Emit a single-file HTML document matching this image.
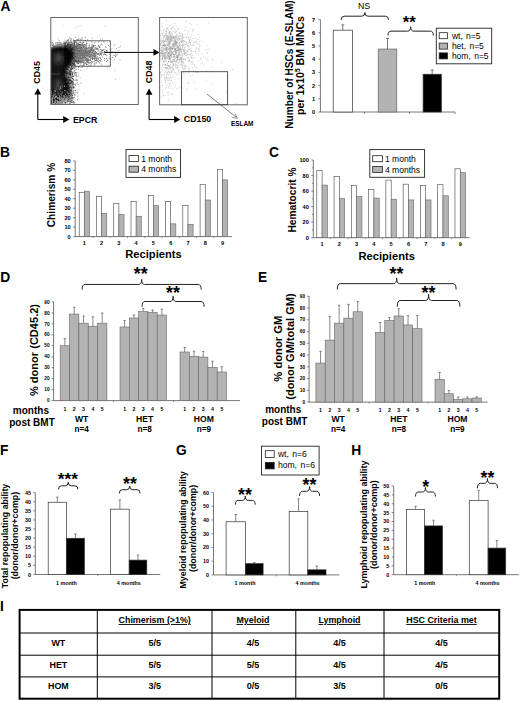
<!DOCTYPE html>
<html><head><meta charset="utf-8"><style>
html,body{margin:0;padding:0;background:#fff;width:520px;height:701px;overflow:hidden}
svg{display:block;font-family:"Liberation Sans", sans-serif}
</style></head><body>
<svg width="520" height="701" viewBox="0 0 520 701">
<defs><filter id="blur1" x="-50%" y="-50%" width="200%" height="200%"><feGaussianBlur stdDeviation="1.3"/></filter><filter id="blur2" x="-50%" y="-50%" width="200%" height="200%"><feGaussianBlur stdDeviation="2"/></filter><filter id="blur3" x="-50%" y="-50%" width="200%" height="200%"><feGaussianBlur stdDeviation="0.5"/></filter><clipPath id="clipA1"><rect x="51" y="18" width="87" height="86.5"/></clipPath></defs>
<rect width="520" height="701" fill="#fff"/>
<text x="0.4" y="10.85" font-size="13.8" font-weight="bold" text-anchor="start" fill="#000">A</text>
<g clip-path="url(#clipA1)">
<path filter="url(#blur1)" d="M49,49 C55,47 61,46.5 65,47.5 C70,48.5 74,51 73.5,55 C73,59 70,63 68,66 C66.5,69 66,72 66.5,75 C67,79 69,83 69,88 C69,93 67.5,98 65.5,101 C64.5,103 63,104.5 62,105 L49,105 Z" fill="#161616"/>
<ellipse filter="url(#blur2)" cx="59" cy="58.5" rx="5" ry="6" fill="#444"/>
<ellipse filter="url(#blur2)" cx="58.5" cy="85" rx="4.5" ry="6" fill="#444"/>
<rect filter="url(#blur3)" x="51" y="73.6" width="9" height="0.9" fill="#4a4a4a"/>
<path d="M58.2,48.3h0.9v0.9h-0.9zM58.4,46.2h0.9v0.9h-0.9zM53.5,46.5h0.9v0.9h-0.9zM67.8,48.1h0.9v0.9h-0.9zM67.3,47.6h0.9v0.9h-0.9zM62.8,47.5h0.9v0.9h-0.9zM63.5,48.2h0.9v0.9h-0.9zM53.8,45.8h0.9v0.9h-0.9zM62.1,46.9h0.9v0.9h-0.9zM63.6,45.4h0.9v0.9h-0.9zM62.2,48.0h0.9v0.9h-0.9zM55.4,51.3h0.9v0.9h-0.9zM63.9,50.0h0.9v0.9h-0.9zM55.7,45.2h0.9v0.9h-0.9zM57.6,46.7h0.9v0.9h-0.9zM64.4,47.6h0.9v0.9h-0.9zM56.9,44.6h0.9v0.9h-0.9zM56.4,50.1h0.9v0.9h-0.9zM54.3,47.6h0.9v0.9h-0.9zM63.0,43.3h0.9v0.9h-0.9zM60.3,50.3h0.9v0.9h-0.9zM59.3,45.0h0.9v0.9h-0.9zM63.5,46.8h0.9v0.9h-0.9zM64.7,49.4h0.9v0.9h-0.9zM70.1,47.9h0.9v0.9h-0.9zM60.8,43.8h0.9v0.9h-0.9zM64.3,45.5h0.9v0.9h-0.9zM56.8,43.8h0.9v0.9h-0.9zM53.2,45.7h0.9v0.9h-0.9zM69.0,41.9h0.9v0.9h-0.9zM70.1,48.4h0.9v0.9h-0.9zM62.5,45.2h0.9v0.9h-0.9zM52.2,49.4h0.9v0.9h-0.9zM67.7,47.4h0.9v0.9h-0.9zM61.7,48.1h0.9v0.9h-0.9zM71.2,48.5h0.9v0.9h-0.9zM63.6,48.4h0.9v0.9h-0.9zM66.7,48.3h0.9v0.9h-0.9zM65.9,42.5h0.9v0.9h-0.9zM58.7,49.5h0.9v0.9h-0.9zM63.9,46.6h0.9v0.9h-0.9zM62.3,48.6h0.9v0.9h-0.9zM60.8,49.9h0.9v0.9h-0.9zM55.4,46.0h0.9v0.9h-0.9zM67.3,47.1h0.9v0.9h-0.9zM53.8,49.4h0.9v0.9h-0.9zM70.3,45.9h0.9v0.9h-0.9zM59.0,46.3h0.9v0.9h-0.9zM69.8,44.4h0.9v0.9h-0.9zM68.8,43.8h0.9v0.9h-0.9zM54.5,48.6h0.9v0.9h-0.9zM67.9,49.1h0.9v0.9h-0.9zM62.4,47.4h0.9v0.9h-0.9zM61.1,48.4h0.9v0.9h-0.9zM58.8,47.7h0.9v0.9h-0.9zM64.0,47.0h0.9v0.9h-0.9zM65.3,48.4h0.9v0.9h-0.9zM74.1,47.8h0.9v0.9h-0.9zM57.0,46.1h0.9v0.9h-0.9zM59.9,49.3h0.9v0.9h-0.9zM57.6,48.0h0.9v0.9h-0.9zM72.9,40.6h0.9v0.9h-0.9zM52.1,47.6h0.9v0.9h-0.9zM62.8,47.6h0.9v0.9h-0.9zM57.0,48.6h0.9v0.9h-0.9zM62.0,45.7h0.9v0.9h-0.9zM77.0,47.9h0.9v0.9h-0.9zM56.1,46.8h0.9v0.9h-0.9zM58.4,46.8h0.9v0.9h-0.9zM67.1,44.1h0.9v0.9h-0.9zM59.5,49.4h0.9v0.9h-0.9zM66.0,50.7h0.9v0.9h-0.9zM57.6,48.6h0.9v0.9h-0.9zM67.6,40.3h0.9v0.9h-0.9zM67.6,43.4h0.9v0.9h-0.9zM64.8,43.3h0.9v0.9h-0.9zM61.2,50.0h0.9v0.9h-0.9zM59.0,47.5h0.9v0.9h-0.9zM65.6,47.4h0.9v0.9h-0.9zM59.4,50.8h0.9v0.9h-0.9zM67.3,46.3h0.9v0.9h-0.9zM79.2,44.1h0.9v0.9h-0.9zM66.4,46.3h0.9v0.9h-0.9zM60.9,48.8h0.9v0.9h-0.9zM61.6,48.6h0.9v0.9h-0.9zM64.3,44.6h0.9v0.9h-0.9zM52.8,43.3h0.9v0.9h-0.9zM68.9,48.9h0.9v0.9h-0.9zM70.3,44.7h0.9v0.9h-0.9zM60.0,44.1h0.9v0.9h-0.9zM65.4,51.0h0.9v0.9h-0.9zM53.8,50.9h0.9v0.9h-0.9zM66.9,46.6h0.9v0.9h-0.9zM59.3,45.5h0.9v0.9h-0.9zM62.8,48.0h0.9v0.9h-0.9zM70.5,44.4h0.9v0.9h-0.9zM68.0,50.7h0.9v0.9h-0.9zM70.2,46.5h0.9v0.9h-0.9zM54.8,49.5h0.9v0.9h-0.9zM60.8,47.3h0.9v0.9h-0.9zM70.0,46.3h0.9v0.9h-0.9zM62.2,45.5h0.9v0.9h-0.9zM59.9,49.1h0.9v0.9h-0.9zM60.6,50.3h0.9v0.9h-0.9zM59.6,49.6h0.9v0.9h-0.9zM70.4,51.0h0.9v0.9h-0.9zM55.3,49.2h0.9v0.9h-0.9zM51.4,47.0h0.9v0.9h-0.9zM58.7,46.9h0.9v0.9h-0.9zM55.9,47.6h0.9v0.9h-0.9zM72.5,47.1h0.9v0.9h-0.9zM63.7,49.5h0.9v0.9h-0.9zM58.6,43.9h0.9v0.9h-0.9zM56.1,49.7h0.9v0.9h-0.9zM67.1,49.0h0.9v0.9h-0.9zM60.1,49.0h0.9v0.9h-0.9zM61.2,44.1h0.9v0.9h-0.9zM66.5,45.6h0.9v0.9h-0.9zM53.7,45.1h0.9v0.9h-0.9zM51.7,47.9h0.9v0.9h-0.9zM55.5,42.1h0.9v0.9h-0.9zM65.1,46.3h0.9v0.9h-0.9zM62.0,45.9h0.9v0.9h-0.9zM65.5,48.9h0.9v0.9h-0.9zM64.7,47.8h0.9v0.9h-0.9zM69.3,48.6h0.9v0.9h-0.9zM63.2,41.8h0.9v0.9h-0.9zM66.3,50.3h0.9v0.9h-0.9zM57.9,45.8h0.9v0.9h-0.9zM73.6,42.6h0.9v0.9h-0.9zM63.3,53.1h0.9v0.9h-0.9zM53.5,48.7h0.9v0.9h-0.9zM73.2,46.7h0.9v0.9h-0.9zM63.9,49.3h0.9v0.9h-0.9zM53.7,46.8h0.9v0.9h-0.9zM62.0,49.1h0.9v0.9h-0.9zM59.8,46.5h0.9v0.9h-0.9zM52.9,46.1h0.9v0.9h-0.9zM66.2,47.3h0.9v0.9h-0.9zM54.0,44.9h0.9v0.9h-0.9zM78.7,49.8h0.9v0.9h-0.9zM64.5,40.5h0.9v0.9h-0.9zM64.4,48.2h0.9v0.9h-0.9zM71.8,48.1h0.9v0.9h-0.9zM59.5,48.3h0.9v0.9h-0.9zM62.3,45.2h0.9v0.9h-0.9zM69.3,51.5h0.9v0.9h-0.9zM62.0,47.5h0.9v0.9h-0.9zM57.2,44.6h0.9v0.9h-0.9zM74.8,49.6h0.9v0.9h-0.9zM51.6,43.6h0.9v0.9h-0.9zM71.9,49.5h0.9v0.9h-0.9zM72.7,49.0h0.9v0.9h-0.9zM53.9,47.7h0.9v0.9h-0.9zM59.6,48.3h0.9v0.9h-0.9zM54.9,46.7h0.9v0.9h-0.9zM63.2,47.9h0.9v0.9h-0.9zM64.5,47.5h0.9v0.9h-0.9zM57.7,49.0h0.9v0.9h-0.9zM60.3,44.9h0.9v0.9h-0.9zM55.6,47.0h0.9v0.9h-0.9zM59.2,47.4h0.9v0.9h-0.9zM60.0,47.4h0.9v0.9h-0.9zM59.1,43.9h0.9v0.9h-0.9zM62.9,49.6h0.9v0.9h-0.9zM63.0,46.5h0.9v0.9h-0.9zM63.1,44.6h0.9v0.9h-0.9zM53.5,48.8h0.9v0.9h-0.9zM52.4,40.4h0.9v0.9h-0.9zM52.7,50.9h0.9v0.9h-0.9zM57.3,43.6h0.9v0.9h-0.9zM54.7,48.3h0.9v0.9h-0.9zM63.5,47.4h0.9v0.9h-0.9zM70.4,48.8h0.9v0.9h-0.9zM59.9,48.5h0.9v0.9h-0.9zM71.6,49.4h0.9v0.9h-0.9zM67.2,44.3h0.9v0.9h-0.9zM59.0,48.8h0.9v0.9h-0.9zM57.9,49.7h0.9v0.9h-0.9zM64.2,49.3h0.9v0.9h-0.9zM58.5,53.4h0.9v0.9h-0.9zM68.7,46.5h0.9v0.9h-0.9zM60.6,53.5h0.9v0.9h-0.9zM57.6,49.2h0.9v0.9h-0.9zM66.9,47.0h0.9v0.9h-0.9zM51.8,47.5h0.9v0.9h-0.9zM62.5,49.8h0.9v0.9h-0.9zM65.5,47.1h0.9v0.9h-0.9zM66.0,48.3h0.9v0.9h-0.9zM61.4,47.1h0.9v0.9h-0.9zM58.3,48.7h0.9v0.9h-0.9zM52.6,45.4h0.9v0.9h-0.9zM60.0,43.3h0.9v0.9h-0.9zM56.9,42.0h0.9v0.9h-0.9zM55.2,48.4h0.9v0.9h-0.9zM64.0,46.9h0.9v0.9h-0.9zM58.4,43.5h0.9v0.9h-0.9zM72.8,48.3h0.9v0.9h-0.9zM67.7,44.8h0.9v0.9h-0.9zM58.7,42.5h0.9v0.9h-0.9zM65.5,49.3h0.9v0.9h-0.9zM64.4,42.6h0.9v0.9h-0.9zM55.6,43.5h0.9v0.9h-0.9zM60.2,47.6h0.9v0.9h-0.9zM64.4,48.8h0.9v0.9h-0.9zM70.5,49.9h0.9v0.9h-0.9zM52.6,44.3h0.9v0.9h-0.9zM59.4,47.0h0.9v0.9h-0.9zM63.4,43.0h0.9v0.9h-0.9zM51.3,46.9h0.9v0.9h-0.9zM58.6,46.2h0.9v0.9h-0.9zM59.6,45.1h0.9v0.9h-0.9zM64.9,47.9h0.9v0.9h-0.9zM59.4,45.3h0.9v0.9h-0.9zM58.8,40.2h0.9v0.9h-0.9zM53.1,47.1h0.9v0.9h-0.9zM61.0,43.6h0.9v0.9h-0.9zM58.2,46.2h0.9v0.9h-0.9zM63.2,48.5h0.9v0.9h-0.9zM59.7,44.9h0.9v0.9h-0.9zM59.0,46.8h0.9v0.9h-0.9zM65.1,47.7h0.9v0.9h-0.9zM54.9,43.6h0.9v0.9h-0.9zM57.4,45.1h0.9v0.9h-0.9zM52.2,46.7h0.9v0.9h-0.9zM56.6,47.3h0.9v0.9h-0.9zM63.7,46.0h0.9v0.9h-0.9zM76.3,46.2h0.9v0.9h-0.9zM67.7,47.3h0.9v0.9h-0.9zM67.8,41.1h0.9v0.9h-0.9zM54.7,47.6h0.9v0.9h-0.9zM64.2,52.8h0.9v0.9h-0.9zM62.3,50.2h0.9v0.9h-0.9zM65.4,49.4h0.9v0.9h-0.9zM63.6,46.6h0.9v0.9h-0.9zM63.6,44.3h0.9v0.9h-0.9zM68.3,44.5h0.9v0.9h-0.9zM61.7,52.3h0.9v0.9h-0.9zM58.4,47.0h0.9v0.9h-0.9zM68.1,47.1h0.9v0.9h-0.9zM54.3,47.6h0.9v0.9h-0.9zM64.1,48.8h0.9v0.9h-0.9zM54.6,51.4h0.9v0.9h-0.9zM71.7,47.0h0.9v0.9h-0.9zM61.9,45.9h0.9v0.9h-0.9zM69.9,45.2h0.9v0.9h-0.9zM64.7,45.8h0.9v0.9h-0.9zM55.1,48.8h0.9v0.9h-0.9zM69.3,47.0h0.9v0.9h-0.9zM55.3,49.0h0.9v0.9h-0.9zM59.7,47.8h0.9v0.9h-0.9zM70.7,49.8h0.9v0.9h-0.9zM56.4,52.7h0.9v0.9h-0.9zM60.0,49.0h0.9v0.9h-0.9zM55.5,46.9h0.9v0.9h-0.9zM69.6,44.0h0.9v0.9h-0.9zM68.2,45.9h0.9v0.9h-0.9zM59.6,46.2h0.9v0.9h-0.9zM59.2,44.3h0.9v0.9h-0.9zM60.2,43.4h0.9v0.9h-0.9zM59.5,47.8h0.9v0.9h-0.9zM63.3,46.4h0.9v0.9h-0.9zM53.7,47.4h0.9v0.9h-0.9zM56.6,50.9h0.9v0.9h-0.9zM65.4,46.7h0.9v0.9h-0.9zM56.7,45.2h0.9v0.9h-0.9zM53.4,46.1h0.9v0.9h-0.9zM62.1,48.3h0.9v0.9h-0.9zM64.0,52.2h0.9v0.9h-0.9zM55.1,47.0h0.9v0.9h-0.9zM79.6,42.3h0.9v0.9h-0.9zM56.3,47.4h0.9v0.9h-0.9zM61.1,48.0h0.9v0.9h-0.9zM58.3,47.9h0.9v0.9h-0.9zM60.4,48.9h0.9v0.9h-0.9zM60.0,44.4h0.9v0.9h-0.9zM52.7,48.6h0.9v0.9h-0.9zM55.5,48.6h0.9v0.9h-0.9zM65.2,47.8h0.9v0.9h-0.9zM63.6,46.7h0.9v0.9h-0.9zM63.2,45.7h0.9v0.9h-0.9zM59.3,48.9h0.9v0.9h-0.9zM53.9,48.6h0.9v0.9h-0.9zM73.0,45.6h0.9v0.9h-0.9zM61.0,46.6h0.9v0.9h-0.9zM70.8,47.8h0.9v0.9h-0.9zM66.3,45.3h0.9v0.9h-0.9zM59.9,47.0h0.9v0.9h-0.9zM66.3,42.6h0.9v0.9h-0.9zM65.2,46.7h0.9v0.9h-0.9zM63.1,47.9h0.9v0.9h-0.9zM70.4,45.6h0.9v0.9h-0.9zM52.8,43.6h0.9v0.9h-0.9zM51.5,47.8h0.9v0.9h-0.9zM71.8,48.1h0.9v0.9h-0.9zM61.7,52.6h0.9v0.9h-0.9zM56.4,45.3h0.9v0.9h-0.9zM63.7,48.4h0.9v0.9h-0.9zM52.9,44.1h0.9v0.9h-0.9zM62.0,47.6h0.9v0.9h-0.9zM56.2,48.2h0.9v0.9h-0.9zM59.2,46.8h0.9v0.9h-0.9zM57.5,49.6h0.9v0.9h-0.9zM69.7,46.1h0.9v0.9h-0.9zM65.9,45.1h0.9v0.9h-0.9zM60.5,48.9h0.9v0.9h-0.9zM70.6,46.0h0.9v0.9h-0.9zM59.5,47.5h0.9v0.9h-0.9zM55.3,47.9h0.9v0.9h-0.9zM52.1,42.1h0.9v0.9h-0.9zM60.3,47.7h0.9v0.9h-0.9zM56.2,49.2h0.9v0.9h-0.9zM58.1,45.5h0.9v0.9h-0.9zM63.3,43.1h0.9v0.9h-0.9zM55.3,46.9h0.9v0.9h-0.9zM65.9,46.6h0.9v0.9h-0.9zM62.2,45.4h0.9v0.9h-0.9zM62.1,51.2h0.9v0.9h-0.9zM55.2,52.9h0.9v0.9h-0.9zM55.5,47.0h0.9v0.9h-0.9zM61.2,49.6h0.9v0.9h-0.9zM51.3,41.7h0.9v0.9h-0.9zM64.2,49.0h0.9v0.9h-0.9zM64.4,53.6h0.9v0.9h-0.9zM61.4,47.6h0.9v0.9h-0.9zM66.5,47.9h0.9v0.9h-0.9zM71.6,43.9h0.9v0.9h-0.9zM57.4,38.4h0.9v0.9h-0.9zM65.7,46.1h0.9v0.9h-0.9zM66.5,52.4h0.9v0.9h-0.9zM60.0,46.4h0.9v0.9h-0.9zM56.5,44.9h0.9v0.9h-0.9zM55.6,48.6h0.9v0.9h-0.9zM60.3,47.2h0.9v0.9h-0.9zM58.8,49.3h0.9v0.9h-0.9zM63.5,46.6h0.9v0.9h-0.9zM64.7,46.6h0.9v0.9h-0.9zM51.9,50.6h0.9v0.9h-0.9zM63.3,44.6h0.9v0.9h-0.9zM67.6,47.9h0.9v0.9h-0.9zM62.3,49.2h0.9v0.9h-0.9zM61.4,46.6h0.9v0.9h-0.9zM60.2,46.3h0.9v0.9h-0.9zM62.5,47.2h0.9v0.9h-0.9zM64.7,46.1h0.9v0.9h-0.9zM59.7,41.7h0.9v0.9h-0.9zM57.0,48.7h0.9v0.9h-0.9zM69.4,46.1h0.9v0.9h-0.9zM59.2,51.0h0.9v0.9h-0.9zM57.7,48.8h0.9v0.9h-0.9zM71.7,47.1h0.9v0.9h-0.9zM68.6,45.2h0.9v0.9h-0.9zM61.5,46.8h0.9v0.9h-0.9zM60.8,49.8h0.9v0.9h-0.9zM76.7,45.3h0.9v0.9h-0.9zM56.0,48.2h0.9v0.9h-0.9zM52.6,48.2h0.9v0.9h-0.9zM64.0,46.3h0.9v0.9h-0.9zM63.7,43.1h0.9v0.9h-0.9zM65.3,43.1h0.9v0.9h-0.9zM55.1,45.6h0.9v0.9h-0.9zM57.2,49.1h0.9v0.9h-0.9zM60.6,46.0h0.9v0.9h-0.9zM63.8,51.0h0.9v0.9h-0.9zM60.0,47.9h0.9v0.9h-0.9zM68.7,47.7h0.9v0.9h-0.9zM51.0,53.2h0.9v0.9h-0.9zM75.5,42.0h0.9v0.9h-0.9zM59.7,48.0h0.9v0.9h-0.9zM66.8,48.7h0.9v0.9h-0.9zM58.1,44.4h0.9v0.9h-0.9zM60.7,49.6h0.9v0.9h-0.9zM52.4,44.4h0.9v0.9h-0.9zM59.8,42.2h0.9v0.9h-0.9zM58.2,45.9h0.9v0.9h-0.9zM63.2,45.2h0.9v0.9h-0.9zM53.8,46.0h0.9v0.9h-0.9zM59.7,45.3h0.9v0.9h-0.9zM60.1,48.9h0.9v0.9h-0.9zM68.3,51.3h0.9v0.9h-0.9zM54.5,46.0h0.9v0.9h-0.9zM54.9,46.9h0.9v0.9h-0.9zM63.7,43.6h0.9v0.9h-0.9zM63.2,46.9h0.9v0.9h-0.9zM68.4,42.3h0.9v0.9h-0.9zM65.7,47.5h0.9v0.9h-0.9zM63.3,48.1h0.9v0.9h-0.9zM69.1,46.4h0.9v0.9h-0.9zM66.1,46.0h0.9v0.9h-0.9zM65.1,45.0h0.9v0.9h-0.9zM59.2,51.3h0.9v0.9h-0.9zM63.1,46.6h0.9v0.9h-0.9zM52.0,45.0h0.9v0.9h-0.9zM61.4,49.3h0.9v0.9h-0.9zM63.0,48.3h0.9v0.9h-0.9zM59.7,50.4h0.9v0.9h-0.9zM57.3,45.6h0.9v0.9h-0.9zM66.2,47.2h0.9v0.9h-0.9zM58.1,45.6h0.9v0.9h-0.9zM58.2,48.6h0.9v0.9h-0.9zM62.5,44.0h0.9v0.9h-0.9zM63.0,47.4h0.9v0.9h-0.9zM53.0,48.9h0.9v0.9h-0.9zM58.0,46.2h0.9v0.9h-0.9zM65.6,50.3h0.9v0.9h-0.9zM55.2,48.1h0.9v0.9h-0.9zM53.9,52.8h0.9v0.9h-0.9zM56.5,50.0h0.9v0.9h-0.9zM55.5,49.0h0.9v0.9h-0.9zM75.5,40.6h0.9v0.9h-0.9zM57.0,48.3h0.9v0.9h-0.9zM59.3,45.3h0.9v0.9h-0.9zM75.1,47.2h0.9v0.9h-0.9zM56.0,47.4h0.9v0.9h-0.9zM68.8,47.3h0.9v0.9h-0.9zM68.3,48.9h0.9v0.9h-0.9zM54.3,49.1h0.9v0.9h-0.9zM63.5,48.6h0.9v0.9h-0.9zM66.3,48.8h0.9v0.9h-0.9zM66.2,40.9h0.9v0.9h-0.9zM61.2,48.2h0.9v0.9h-0.9zM77.9,44.6h0.9v0.9h-0.9zM57.7,47.1h0.9v0.9h-0.9zM66.2,45.9h0.9v0.9h-0.9zM68.0,45.0h0.9v0.9h-0.9zM61.9,45.7h0.9v0.9h-0.9zM61.1,45.3h0.9v0.9h-0.9zM62.1,45.6h0.9v0.9h-0.9zM61.4,49.5h0.9v0.9h-0.9zM53.2,46.7h0.9v0.9h-0.9zM63.8,48.3h0.9v0.9h-0.9zM57.7,41.7h0.9v0.9h-0.9zM68.7,47.8h0.9v0.9h-0.9zM60.1,46.3h0.9v0.9h-0.9zM61.8,45.9h0.9v0.9h-0.9zM52.8,45.2h0.9v0.9h-0.9zM55.8,45.5h0.9v0.9h-0.9zM51.9,48.6h0.9v0.9h-0.9zM52.9,47.9h0.9v0.9h-0.9zM69.6,47.5h0.9v0.9h-0.9zM54.9,47.1h0.9v0.9h-0.9zM61.0,42.7h0.9v0.9h-0.9zM55.7,47.4h0.9v0.9h-0.9zM56.7,47.2h0.9v0.9h-0.9zM65.1,48.9h0.9v0.9h-0.9zM66.3,48.5h0.9v0.9h-0.9zM58.0,47.0h0.9v0.9h-0.9zM58.1,46.2h0.9v0.9h-0.9zM58.7,42.7h0.9v0.9h-0.9zM57.7,46.9h0.9v0.9h-0.9zM53.2,46.9h0.9v0.9h-0.9z" fill="#000" fill-opacity="0.5"/>
<path d="M70.1,60.8h0.9v0.9h-0.9zM76.3,43.8h0.9v0.9h-0.9zM67.2,49.2h0.9v0.9h-0.9zM71.9,80.6h0.9v0.9h-0.9zM58.0,62.9h0.9v0.9h-0.9zM70.1,59.9h0.9v0.9h-0.9zM70.2,46.3h0.9v0.9h-0.9zM71.4,64.6h0.9v0.9h-0.9zM68.1,57.9h0.9v0.9h-0.9zM70.6,58.6h0.9v0.9h-0.9zM68.9,58.4h0.9v0.9h-0.9zM59.0,61.8h0.9v0.9h-0.9zM68.8,67.3h0.9v0.9h-0.9zM64.5,61.8h0.9v0.9h-0.9zM70.5,63.0h0.9v0.9h-0.9zM73.0,75.9h0.9v0.9h-0.9zM64.4,48.6h0.9v0.9h-0.9zM71.4,72.7h0.9v0.9h-0.9zM71.7,67.7h0.9v0.9h-0.9zM65.5,57.0h0.9v0.9h-0.9zM71.6,55.6h0.9v0.9h-0.9zM60.7,55.0h0.9v0.9h-0.9zM78.0,75.5h0.9v0.9h-0.9zM65.3,56.9h0.9v0.9h-0.9zM68.9,56.8h0.9v0.9h-0.9zM73.2,61.5h0.9v0.9h-0.9zM63.7,71.2h0.9v0.9h-0.9zM65.7,63.5h0.9v0.9h-0.9zM67.9,59.8h0.9v0.9h-0.9zM69.3,57.2h0.9v0.9h-0.9zM60.6,46.5h0.9v0.9h-0.9zM62.9,56.7h0.9v0.9h-0.9zM67.9,62.4h0.9v0.9h-0.9zM70.2,62.8h0.9v0.9h-0.9zM64.8,57.0h0.9v0.9h-0.9zM59.5,60.8h0.9v0.9h-0.9zM69.9,65.7h0.9v0.9h-0.9zM67.5,60.8h0.9v0.9h-0.9zM71.7,62.1h0.9v0.9h-0.9zM71.0,66.1h0.9v0.9h-0.9zM68.9,71.1h0.9v0.9h-0.9zM65.7,59.5h0.9v0.9h-0.9zM64.8,56.4h0.9v0.9h-0.9zM74.2,74.3h0.9v0.9h-0.9zM68.1,66.0h0.9v0.9h-0.9zM72.7,67.7h0.9v0.9h-0.9zM72.8,53.2h0.9v0.9h-0.9zM65.4,65.2h0.9v0.9h-0.9zM73.7,62.7h0.9v0.9h-0.9zM64.6,59.5h0.9v0.9h-0.9zM65.4,56.0h0.9v0.9h-0.9zM74.0,57.6h0.9v0.9h-0.9zM68.1,77.1h0.9v0.9h-0.9zM72.7,64.4h0.9v0.9h-0.9zM65.6,64.9h0.9v0.9h-0.9zM74.5,66.4h0.9v0.9h-0.9zM73.0,62.7h0.9v0.9h-0.9zM70.1,60.6h0.9v0.9h-0.9zM69.7,71.1h0.9v0.9h-0.9zM62.3,61.6h0.9v0.9h-0.9zM69.0,58.0h0.9v0.9h-0.9zM66.8,67.5h0.9v0.9h-0.9zM76.0,66.4h0.9v0.9h-0.9zM69.3,51.1h0.9v0.9h-0.9zM75.7,62.5h0.9v0.9h-0.9zM67.9,54.2h0.9v0.9h-0.9zM67.8,54.3h0.9v0.9h-0.9zM68.3,65.3h0.9v0.9h-0.9zM68.1,64.0h0.9v0.9h-0.9zM64.6,72.0h0.9v0.9h-0.9zM65.4,49.3h0.9v0.9h-0.9zM67.2,56.7h0.9v0.9h-0.9zM64.0,59.5h0.9v0.9h-0.9zM69.2,53.7h0.9v0.9h-0.9zM67.4,72.0h0.9v0.9h-0.9zM70.7,60.9h0.9v0.9h-0.9zM68.5,61.2h0.9v0.9h-0.9zM67.8,67.1h0.9v0.9h-0.9zM67.6,45.2h0.9v0.9h-0.9zM67.9,55.8h0.9v0.9h-0.9zM70.6,57.7h0.9v0.9h-0.9zM68.6,77.2h0.9v0.9h-0.9zM63.8,54.1h0.9v0.9h-0.9zM62.4,45.2h0.9v0.9h-0.9zM60.5,64.6h0.9v0.9h-0.9zM65.4,48.9h0.9v0.9h-0.9zM62.1,66.3h0.9v0.9h-0.9zM64.9,59.4h0.9v0.9h-0.9zM69.3,71.5h0.9v0.9h-0.9zM75.8,69.2h0.9v0.9h-0.9zM68.6,63.3h0.9v0.9h-0.9zM75.2,72.0h0.9v0.9h-0.9zM66.8,65.2h0.9v0.9h-0.9zM69.1,62.4h0.9v0.9h-0.9zM66.0,52.7h0.9v0.9h-0.9zM65.9,51.2h0.9v0.9h-0.9zM72.9,65.8h0.9v0.9h-0.9zM63.2,71.8h0.9v0.9h-0.9zM71.6,48.6h0.9v0.9h-0.9zM75.4,67.7h0.9v0.9h-0.9zM76.3,53.4h0.9v0.9h-0.9zM70.1,65.0h0.9v0.9h-0.9zM68.8,63.2h0.9v0.9h-0.9zM72.2,51.5h0.9v0.9h-0.9zM63.0,52.2h0.9v0.9h-0.9zM65.8,57.8h0.9v0.9h-0.9zM69.5,63.9h0.9v0.9h-0.9zM68.1,57.3h0.9v0.9h-0.9zM66.2,68.7h0.9v0.9h-0.9zM71.1,62.7h0.9v0.9h-0.9zM66.7,72.9h0.9v0.9h-0.9zM65.6,66.5h0.9v0.9h-0.9zM72.6,60.1h0.9v0.9h-0.9zM71.3,54.2h0.9v0.9h-0.9zM72.1,63.4h0.9v0.9h-0.9zM61.7,66.7h0.9v0.9h-0.9zM64.4,71.0h0.9v0.9h-0.9zM65.3,60.8h0.9v0.9h-0.9zM69.1,59.7h0.9v0.9h-0.9zM69.0,58.1h0.9v0.9h-0.9zM70.7,62.0h0.9v0.9h-0.9zM68.8,42.7h0.9v0.9h-0.9zM72.6,62.2h0.9v0.9h-0.9zM60.9,62.7h0.9v0.9h-0.9zM69.9,69.5h0.9v0.9h-0.9zM63.7,72.8h0.9v0.9h-0.9zM67.4,78.8h0.9v0.9h-0.9zM67.4,66.8h0.9v0.9h-0.9zM66.5,54.2h0.9v0.9h-0.9zM72.4,68.3h0.9v0.9h-0.9zM74.2,68.0h0.9v0.9h-0.9zM65.7,50.4h0.9v0.9h-0.9zM65.4,57.3h0.9v0.9h-0.9zM64.7,66.1h0.9v0.9h-0.9zM69.3,60.1h0.9v0.9h-0.9zM68.7,61.0h0.9v0.9h-0.9zM68.9,67.3h0.9v0.9h-0.9zM71.8,57.2h0.9v0.9h-0.9zM62.0,72.0h0.9v0.9h-0.9zM68.5,69.7h0.9v0.9h-0.9zM61.4,59.7h0.9v0.9h-0.9zM68.1,51.9h0.9v0.9h-0.9zM65.9,67.1h0.9v0.9h-0.9zM72.3,73.2h0.9v0.9h-0.9zM64.5,52.2h0.9v0.9h-0.9zM70.1,68.6h0.9v0.9h-0.9zM68.8,52.9h0.9v0.9h-0.9zM71.1,67.5h0.9v0.9h-0.9zM70.2,58.6h0.9v0.9h-0.9zM69.2,67.5h0.9v0.9h-0.9zM65.8,49.1h0.9v0.9h-0.9zM69.3,65.4h0.9v0.9h-0.9zM68.1,68.2h0.9v0.9h-0.9zM65.7,61.4h0.9v0.9h-0.9zM66.8,66.0h0.9v0.9h-0.9zM74.4,60.2h0.9v0.9h-0.9zM76.2,72.7h0.9v0.9h-0.9zM71.2,66.1h0.9v0.9h-0.9zM75.1,60.7h0.9v0.9h-0.9zM67.6,54.6h0.9v0.9h-0.9zM69.9,71.4h0.9v0.9h-0.9zM70.1,65.0h0.9v0.9h-0.9zM67.2,63.2h0.9v0.9h-0.9zM62.3,69.3h0.9v0.9h-0.9zM66.4,54.3h0.9v0.9h-0.9zM65.0,56.2h0.9v0.9h-0.9zM71.4,69.4h0.9v0.9h-0.9zM62.6,68.5h0.9v0.9h-0.9zM71.6,57.9h0.9v0.9h-0.9zM62.1,56.8h0.9v0.9h-0.9zM65.5,64.4h0.9v0.9h-0.9zM66.6,47.8h0.9v0.9h-0.9zM68.9,51.3h0.9v0.9h-0.9zM71.6,53.6h0.9v0.9h-0.9zM65.2,56.0h0.9v0.9h-0.9zM65.8,71.1h0.9v0.9h-0.9zM71.4,66.2h0.9v0.9h-0.9zM69.3,51.2h0.9v0.9h-0.9zM65.9,58.1h0.9v0.9h-0.9zM64.1,65.6h0.9v0.9h-0.9zM65.0,57.0h0.9v0.9h-0.9zM63.8,47.6h0.9v0.9h-0.9zM70.4,71.3h0.9v0.9h-0.9zM68.7,55.2h0.9v0.9h-0.9zM57.2,63.2h0.9v0.9h-0.9zM72.9,64.1h0.9v0.9h-0.9zM71.7,72.3h0.9v0.9h-0.9zM72.5,58.9h0.9v0.9h-0.9zM72.2,67.4h0.9v0.9h-0.9zM61.9,59.2h0.9v0.9h-0.9zM62.3,61.2h0.9v0.9h-0.9zM70.3,54.5h0.9v0.9h-0.9zM59.8,71.1h0.9v0.9h-0.9zM69.5,72.3h0.9v0.9h-0.9zM62.7,69.4h0.9v0.9h-0.9zM76.3,76.0h0.9v0.9h-0.9zM67.2,63.9h0.9v0.9h-0.9zM67.4,69.0h0.9v0.9h-0.9zM72.2,62.6h0.9v0.9h-0.9zM62.6,67.2h0.9v0.9h-0.9zM66.1,66.4h0.9v0.9h-0.9zM69.1,73.4h0.9v0.9h-0.9zM72.6,58.8h0.9v0.9h-0.9zM69.4,74.3h0.9v0.9h-0.9zM65.9,65.0h0.9v0.9h-0.9zM72.8,70.8h0.9v0.9h-0.9zM70.1,52.8h0.9v0.9h-0.9zM63.0,63.7h0.9v0.9h-0.9zM69.5,79.8h0.9v0.9h-0.9zM64.6,70.0h0.9v0.9h-0.9zM71.1,50.3h0.9v0.9h-0.9zM64.7,63.2h0.9v0.9h-0.9zM66.0,60.9h0.9v0.9h-0.9zM69.9,56.3h0.9v0.9h-0.9zM69.9,57.5h0.9v0.9h-0.9zM65.8,65.8h0.9v0.9h-0.9zM65.7,64.0h0.9v0.9h-0.9zM74.4,62.2h0.9v0.9h-0.9zM67.4,67.1h0.9v0.9h-0.9zM66.5,69.6h0.9v0.9h-0.9zM62.9,66.3h0.9v0.9h-0.9zM66.0,56.4h0.9v0.9h-0.9zM75.1,56.0h0.9v0.9h-0.9zM75.0,66.6h0.9v0.9h-0.9zM73.8,55.2h0.9v0.9h-0.9zM72.8,72.2h0.9v0.9h-0.9zM67.5,61.1h0.9v0.9h-0.9zM77.8,63.2h0.9v0.9h-0.9zM66.3,57.6h0.9v0.9h-0.9zM69.8,64.3h0.9v0.9h-0.9zM68.7,74.1h0.9v0.9h-0.9zM66.7,65.3h0.9v0.9h-0.9zM73.8,55.0h0.9v0.9h-0.9zM72.2,74.8h0.9v0.9h-0.9zM62.6,54.3h0.9v0.9h-0.9zM63.8,49.1h0.9v0.9h-0.9zM69.8,49.0h0.9v0.9h-0.9zM70.0,72.2h0.9v0.9h-0.9zM61.5,59.8h0.9v0.9h-0.9zM60.3,67.5h0.9v0.9h-0.9zM65.1,60.1h0.9v0.9h-0.9zM68.2,65.8h0.9v0.9h-0.9zM66.6,62.1h0.9v0.9h-0.9zM65.8,62.8h0.9v0.9h-0.9zM63.3,62.4h0.9v0.9h-0.9zM60.3,58.6h0.9v0.9h-0.9zM75.7,62.6h0.9v0.9h-0.9zM63.0,63.8h0.9v0.9h-0.9zM64.1,50.4h0.9v0.9h-0.9zM65.1,67.2h0.9v0.9h-0.9zM69.5,61.3h0.9v0.9h-0.9zM64.3,54.4h0.9v0.9h-0.9zM73.4,63.7h0.9v0.9h-0.9zM64.2,47.2h0.9v0.9h-0.9zM62.5,79.3h0.9v0.9h-0.9zM63.4,61.5h0.9v0.9h-0.9zM68.8,60.9h0.9v0.9h-0.9zM66.9,52.4h0.9v0.9h-0.9zM63.8,73.8h0.9v0.9h-0.9zM65.0,67.9h0.9v0.9h-0.9zM61.2,60.1h0.9v0.9h-0.9zM69.0,69.3h0.9v0.9h-0.9zM63.5,66.2h0.9v0.9h-0.9zM69.5,56.8h0.9v0.9h-0.9zM69.9,55.7h0.9v0.9h-0.9zM64.8,61.9h0.9v0.9h-0.9zM57.1,61.2h0.9v0.9h-0.9zM64.0,51.8h0.9v0.9h-0.9zM66.3,67.3h0.9v0.9h-0.9zM66.4,70.9h0.9v0.9h-0.9zM63.4,52.8h0.9v0.9h-0.9zM74.2,64.8h0.9v0.9h-0.9zM71.8,56.2h0.9v0.9h-0.9zM71.2,63.8h0.9v0.9h-0.9zM70.6,62.2h0.9v0.9h-0.9zM72.8,57.5h0.9v0.9h-0.9zM64.1,51.7h0.9v0.9h-0.9zM72.6,56.8h0.9v0.9h-0.9zM63.8,55.4h0.9v0.9h-0.9zM66.2,53.1h0.9v0.9h-0.9zM66.8,57.6h0.9v0.9h-0.9zM65.8,55.3h0.9v0.9h-0.9zM68.1,58.8h0.9v0.9h-0.9zM68.5,63.7h0.9v0.9h-0.9zM69.4,46.7h0.9v0.9h-0.9zM65.9,56.4h0.9v0.9h-0.9zM71.1,51.0h0.9v0.9h-0.9zM65.1,59.9h0.9v0.9h-0.9zM66.7,68.9h0.9v0.9h-0.9zM66.2,68.8h0.9v0.9h-0.9zM62.1,49.3h0.9v0.9h-0.9zM72.9,65.0h0.9v0.9h-0.9zM70.0,62.9h0.9v0.9h-0.9zM69.9,53.5h0.9v0.9h-0.9zM71.8,58.3h0.9v0.9h-0.9zM71.9,62.6h0.9v0.9h-0.9zM60.1,53.0h0.9v0.9h-0.9zM72.5,61.0h0.9v0.9h-0.9zM66.4,63.7h0.9v0.9h-0.9zM66.3,58.2h0.9v0.9h-0.9zM68.4,63.0h0.9v0.9h-0.9zM74.1,62.3h0.9v0.9h-0.9zM75.5,74.6h0.9v0.9h-0.9zM74.9,69.4h0.9v0.9h-0.9zM68.5,63.0h0.9v0.9h-0.9zM67.4,56.9h0.9v0.9h-0.9zM67.7,57.5h0.9v0.9h-0.9zM74.6,65.7h0.9v0.9h-0.9zM66.2,48.6h0.9v0.9h-0.9zM67.8,59.1h0.9v0.9h-0.9zM63.7,54.0h0.9v0.9h-0.9zM59.0,66.0h0.9v0.9h-0.9zM67.7,80.1h0.9v0.9h-0.9zM67.9,61.0h0.9v0.9h-0.9zM73.8,62.9h0.9v0.9h-0.9zM68.7,59.4h0.9v0.9h-0.9zM65.6,72.5h0.9v0.9h-0.9zM72.0,74.0h0.9v0.9h-0.9zM66.6,62.2h0.9v0.9h-0.9zM64.5,68.8h0.9v0.9h-0.9zM62.4,66.0h0.9v0.9h-0.9zM72.4,71.9h0.9v0.9h-0.9zM64.2,69.6h0.9v0.9h-0.9zM65.1,56.7h0.9v0.9h-0.9zM62.7,70.1h0.9v0.9h-0.9zM74.6,57.8h0.9v0.9h-0.9zM65.0,59.6h0.9v0.9h-0.9zM78.0,69.0h0.9v0.9h-0.9zM65.8,49.4h0.9v0.9h-0.9zM65.3,70.3h0.9v0.9h-0.9zM75.5,60.1h0.9v0.9h-0.9zM65.2,58.4h0.9v0.9h-0.9zM60.5,68.4h0.9v0.9h-0.9zM63.7,69.4h0.9v0.9h-0.9zM61.2,53.1h0.9v0.9h-0.9zM69.2,56.7h0.9v0.9h-0.9zM71.1,62.1h0.9v0.9h-0.9zM63.3,66.4h0.9v0.9h-0.9zM71.4,48.6h0.9v0.9h-0.9zM75.3,65.5h0.9v0.9h-0.9zM71.0,49.0h0.9v0.9h-0.9zM65.1,59.6h0.9v0.9h-0.9zM72.3,51.8h0.9v0.9h-0.9zM64.5,47.8h0.9v0.9h-0.9zM67.0,64.4h0.9v0.9h-0.9zM61.3,57.9h0.9v0.9h-0.9zM70.0,73.1h0.9v0.9h-0.9zM70.7,59.9h0.9v0.9h-0.9zM63.3,55.4h0.9v0.9h-0.9zM65.3,63.0h0.9v0.9h-0.9z" fill="#000" fill-opacity="0.5"/>
<path d="M68.0,80.4h0.9v0.9h-0.9zM72.4,98.5h0.9v0.9h-0.9zM67.4,83.5h0.9v0.9h-0.9zM60.5,80.8h0.9v0.9h-0.9zM70.2,82.8h0.9v0.9h-0.9zM62.4,91.8h0.9v0.9h-0.9zM67.9,95.5h0.9v0.9h-0.9zM69.3,102.7h0.9v0.9h-0.9zM64.1,98.8h0.9v0.9h-0.9zM63.5,96.2h0.9v0.9h-0.9zM67.6,92.2h0.9v0.9h-0.9zM70.4,89.8h0.9v0.9h-0.9zM70.9,97.9h0.9v0.9h-0.9zM67.5,84.9h0.9v0.9h-0.9zM64.4,85.3h0.9v0.9h-0.9zM66.3,89.8h0.9v0.9h-0.9zM77.4,95.7h0.9v0.9h-0.9zM69.7,82.3h0.9v0.9h-0.9zM64.5,87.1h0.9v0.9h-0.9zM67.7,80.7h0.9v0.9h-0.9zM72.6,84.9h0.9v0.9h-0.9zM70.8,69.0h0.9v0.9h-0.9zM67.0,92.5h0.9v0.9h-0.9zM67.7,95.4h0.9v0.9h-0.9zM68.0,91.5h0.9v0.9h-0.9zM60.4,83.6h0.9v0.9h-0.9zM58.8,95.7h0.9v0.9h-0.9zM68.1,88.2h0.9v0.9h-0.9zM64.1,84.8h0.9v0.9h-0.9zM66.8,101.6h0.9v0.9h-0.9zM61.4,72.6h0.9v0.9h-0.9zM65.3,82.1h0.9v0.9h-0.9zM65.0,91.7h0.9v0.9h-0.9zM77.6,84.1h0.9v0.9h-0.9zM67.2,92.5h0.9v0.9h-0.9zM66.9,98.4h0.9v0.9h-0.9zM73.2,78.8h0.9v0.9h-0.9zM67.6,87.6h0.9v0.9h-0.9zM68.2,76.2h0.9v0.9h-0.9zM60.8,69.2h0.9v0.9h-0.9zM68.8,91.7h0.9v0.9h-0.9zM67.3,68.7h0.9v0.9h-0.9zM65.7,83.2h0.9v0.9h-0.9zM62.1,81.8h0.9v0.9h-0.9zM69.4,94.9h0.9v0.9h-0.9zM66.9,94.6h0.9v0.9h-0.9zM64.9,90.6h0.9v0.9h-0.9zM67.1,95.0h0.9v0.9h-0.9zM66.8,88.7h0.9v0.9h-0.9zM66.5,84.2h0.9v0.9h-0.9zM74.8,94.6h0.9v0.9h-0.9zM71.9,76.0h0.9v0.9h-0.9zM69.4,97.5h0.9v0.9h-0.9zM73.6,101.8h0.9v0.9h-0.9zM69.7,79.4h0.9v0.9h-0.9zM64.0,92.4h0.9v0.9h-0.9zM68.8,80.8h0.9v0.9h-0.9zM65.7,86.4h0.9v0.9h-0.9zM67.2,93.0h0.9v0.9h-0.9zM66.0,78.9h0.9v0.9h-0.9zM66.6,99.2h0.9v0.9h-0.9zM68.6,95.9h0.9v0.9h-0.9zM68.7,83.1h0.9v0.9h-0.9zM69.0,99.1h0.9v0.9h-0.9zM74.0,96.7h0.9v0.9h-0.9zM65.8,84.6h0.9v0.9h-0.9zM64.2,91.0h0.9v0.9h-0.9zM66.9,96.0h0.9v0.9h-0.9zM75.0,89.8h0.9v0.9h-0.9zM69.4,94.3h0.9v0.9h-0.9zM68.0,88.1h0.9v0.9h-0.9zM66.6,82.6h0.9v0.9h-0.9zM67.6,89.8h0.9v0.9h-0.9zM68.1,82.3h0.9v0.9h-0.9zM67.1,90.4h0.9v0.9h-0.9zM69.1,80.4h0.9v0.9h-0.9zM68.5,98.8h0.9v0.9h-0.9zM69.1,86.7h0.9v0.9h-0.9zM65.3,87.9h0.9v0.9h-0.9zM69.6,104.0h0.9v0.9h-0.9zM66.4,84.2h0.9v0.9h-0.9zM68.3,91.8h0.9v0.9h-0.9zM63.8,83.4h0.9v0.9h-0.9zM66.6,96.0h0.9v0.9h-0.9zM62.8,80.8h0.9v0.9h-0.9zM68.7,79.0h0.9v0.9h-0.9zM67.4,93.2h0.9v0.9h-0.9zM66.6,80.8h0.9v0.9h-0.9zM66.8,87.0h0.9v0.9h-0.9zM68.2,82.5h0.9v0.9h-0.9zM70.8,74.9h0.9v0.9h-0.9zM66.4,90.1h0.9v0.9h-0.9zM70.4,84.5h0.9v0.9h-0.9zM68.9,84.9h0.9v0.9h-0.9zM65.6,94.0h0.9v0.9h-0.9zM63.8,98.8h0.9v0.9h-0.9zM71.2,90.3h0.9v0.9h-0.9zM63.0,93.6h0.9v0.9h-0.9zM71.0,99.8h0.9v0.9h-0.9zM69.8,73.5h0.9v0.9h-0.9zM64.6,102.8h0.9v0.9h-0.9zM62.7,100.2h0.9v0.9h-0.9zM73.6,96.9h0.9v0.9h-0.9zM70.9,87.0h0.9v0.9h-0.9zM62.7,89.1h0.9v0.9h-0.9zM66.3,89.6h0.9v0.9h-0.9zM69.4,88.7h0.9v0.9h-0.9zM67.7,93.8h0.9v0.9h-0.9zM68.5,90.8h0.9v0.9h-0.9zM66.3,84.4h0.9v0.9h-0.9zM71.7,91.4h0.9v0.9h-0.9zM63.2,84.9h0.9v0.9h-0.9zM66.5,86.0h0.9v0.9h-0.9zM70.8,79.5h0.9v0.9h-0.9zM68.7,91.3h0.9v0.9h-0.9zM62.9,90.4h0.9v0.9h-0.9zM66.7,94.5h0.9v0.9h-0.9zM65.4,92.7h0.9v0.9h-0.9zM61.2,80.2h0.9v0.9h-0.9zM69.7,99.4h0.9v0.9h-0.9zM67.0,84.6h0.9v0.9h-0.9zM70.8,71.2h0.9v0.9h-0.9zM64.2,96.0h0.9v0.9h-0.9zM69.3,80.7h0.9v0.9h-0.9zM60.4,103.1h0.9v0.9h-0.9zM67.5,81.9h0.9v0.9h-0.9zM67.2,98.1h0.9v0.9h-0.9zM57.9,100.0h0.9v0.9h-0.9zM69.6,71.3h0.9v0.9h-0.9zM69.7,74.0h0.9v0.9h-0.9zM71.0,93.6h0.9v0.9h-0.9zM74.9,84.5h0.9v0.9h-0.9zM67.0,99.4h0.9v0.9h-0.9zM64.8,83.7h0.9v0.9h-0.9zM65.7,89.3h0.9v0.9h-0.9zM63.2,94.4h0.9v0.9h-0.9zM68.9,90.6h0.9v0.9h-0.9zM73.0,87.1h0.9v0.9h-0.9zM71.6,85.1h0.9v0.9h-0.9zM69.6,72.6h0.9v0.9h-0.9zM67.7,88.4h0.9v0.9h-0.9zM65.3,84.5h0.9v0.9h-0.9zM65.8,83.5h0.9v0.9h-0.9zM59.3,84.6h0.9v0.9h-0.9zM65.1,85.3h0.9v0.9h-0.9zM63.3,88.8h0.9v0.9h-0.9zM69.7,87.7h0.9v0.9h-0.9zM65.3,102.2h0.9v0.9h-0.9zM70.4,98.3h0.9v0.9h-0.9zM71.0,87.1h0.9v0.9h-0.9zM66.5,100.0h0.9v0.9h-0.9zM65.1,88.9h0.9v0.9h-0.9zM68.3,93.4h0.9v0.9h-0.9zM66.0,98.9h0.9v0.9h-0.9zM66.4,96.5h0.9v0.9h-0.9zM70.7,95.9h0.9v0.9h-0.9zM69.6,79.6h0.9v0.9h-0.9zM62.4,84.4h0.9v0.9h-0.9zM68.7,103.5h0.9v0.9h-0.9zM62.7,92.8h0.9v0.9h-0.9zM64.0,83.4h0.9v0.9h-0.9zM66.0,96.2h0.9v0.9h-0.9zM67.7,100.6h0.9v0.9h-0.9zM63.6,98.0h0.9v0.9h-0.9zM70.3,90.6h0.9v0.9h-0.9zM68.7,84.9h0.9v0.9h-0.9zM63.2,86.4h0.9v0.9h-0.9zM67.7,92.8h0.9v0.9h-0.9zM69.6,83.0h0.9v0.9h-0.9zM70.2,93.4h0.9v0.9h-0.9zM61.7,95.4h0.9v0.9h-0.9zM68.9,94.1h0.9v0.9h-0.9zM72.5,86.3h0.9v0.9h-0.9zM68.8,96.7h0.9v0.9h-0.9zM63.8,100.8h0.9v0.9h-0.9zM61.9,78.3h0.9v0.9h-0.9zM68.8,80.2h0.9v0.9h-0.9zM66.6,75.2h0.9v0.9h-0.9zM67.2,79.8h0.9v0.9h-0.9zM68.2,76.2h0.9v0.9h-0.9zM68.6,87.6h0.9v0.9h-0.9zM67.2,89.4h0.9v0.9h-0.9zM67.5,78.1h0.9v0.9h-0.9zM58.0,90.3h0.9v0.9h-0.9zM63.7,85.9h0.9v0.9h-0.9zM68.5,72.1h0.9v0.9h-0.9zM64.3,84.5h0.9v0.9h-0.9zM63.3,92.9h0.9v0.9h-0.9zM66.5,82.6h0.9v0.9h-0.9zM63.6,97.3h0.9v0.9h-0.9zM64.7,95.3h0.9v0.9h-0.9zM68.6,73.0h0.9v0.9h-0.9zM63.2,90.0h0.9v0.9h-0.9zM68.2,97.0h0.9v0.9h-0.9zM69.8,99.3h0.9v0.9h-0.9zM65.7,88.1h0.9v0.9h-0.9zM69.7,86.2h0.9v0.9h-0.9zM70.7,75.7h0.9v0.9h-0.9zM69.3,88.4h0.9v0.9h-0.9zM60.1,98.8h0.9v0.9h-0.9zM68.1,90.2h0.9v0.9h-0.9zM63.2,85.8h0.9v0.9h-0.9zM72.3,82.6h0.9v0.9h-0.9zM54.8,82.3h0.9v0.9h-0.9zM62.8,88.8h0.9v0.9h-0.9zM65.6,81.8h0.9v0.9h-0.9zM64.1,99.4h0.9v0.9h-0.9zM65.1,80.2h0.9v0.9h-0.9zM69.8,95.1h0.9v0.9h-0.9zM63.4,96.7h0.9v0.9h-0.9zM60.6,81.7h0.9v0.9h-0.9zM70.9,87.7h0.9v0.9h-0.9zM62.4,94.6h0.9v0.9h-0.9zM70.2,89.8h0.9v0.9h-0.9zM60.7,86.9h0.9v0.9h-0.9zM68.5,96.9h0.9v0.9h-0.9zM73.5,87.7h0.9v0.9h-0.9zM65.3,89.7h0.9v0.9h-0.9zM71.2,81.5h0.9v0.9h-0.9zM71.6,65.3h0.9v0.9h-0.9zM69.8,83.9h0.9v0.9h-0.9zM68.6,96.2h0.9v0.9h-0.9zM62.9,89.2h0.9v0.9h-0.9zM67.8,95.3h0.9v0.9h-0.9zM63.7,81.1h0.9v0.9h-0.9zM66.3,88.0h0.9v0.9h-0.9zM61.8,98.4h0.9v0.9h-0.9zM65.1,102.9h0.9v0.9h-0.9zM70.0,90.2h0.9v0.9h-0.9zM69.5,80.0h0.9v0.9h-0.9zM65.9,84.8h0.9v0.9h-0.9zM62.6,90.2h0.9v0.9h-0.9zM66.5,102.9h0.9v0.9h-0.9zM55.3,84.0h0.9v0.9h-0.9zM63.8,85.8h0.9v0.9h-0.9zM68.5,93.6h0.9v0.9h-0.9zM67.1,85.7h0.9v0.9h-0.9zM68.7,93.2h0.9v0.9h-0.9zM60.6,87.6h0.9v0.9h-0.9zM62.2,79.4h0.9v0.9h-0.9zM67.5,90.5h0.9v0.9h-0.9zM67.4,82.1h0.9v0.9h-0.9zM66.3,81.8h0.9v0.9h-0.9zM68.3,96.2h0.9v0.9h-0.9zM73.1,101.4h0.9v0.9h-0.9zM64.2,85.9h0.9v0.9h-0.9zM63.7,92.8h0.9v0.9h-0.9zM73.9,96.4h0.9v0.9h-0.9zM59.3,78.7h0.9v0.9h-0.9zM62.5,94.6h0.9v0.9h-0.9zM67.0,92.7h0.9v0.9h-0.9zM73.2,82.6h0.9v0.9h-0.9zM68.2,83.0h0.9v0.9h-0.9zM59.9,76.3h0.9v0.9h-0.9zM58.4,90.6h0.9v0.9h-0.9zM67.2,98.9h0.9v0.9h-0.9zM66.5,83.8h0.9v0.9h-0.9zM60.8,91.6h0.9v0.9h-0.9zM67.1,95.6h0.9v0.9h-0.9zM65.6,94.5h0.9v0.9h-0.9zM69.9,88.7h0.9v0.9h-0.9zM65.4,88.3h0.9v0.9h-0.9zM63.6,88.1h0.9v0.9h-0.9zM65.9,91.9h0.9v0.9h-0.9zM71.7,101.8h0.9v0.9h-0.9zM65.4,95.4h0.9v0.9h-0.9zM68.0,96.9h0.9v0.9h-0.9zM67.1,92.4h0.9v0.9h-0.9zM65.4,82.9h0.9v0.9h-0.9zM70.1,101.7h0.9v0.9h-0.9zM69.3,93.9h0.9v0.9h-0.9zM67.9,85.9h0.9v0.9h-0.9zM60.8,96.0h0.9v0.9h-0.9zM67.7,85.0h0.9v0.9h-0.9zM63.6,101.5h0.9v0.9h-0.9zM64.5,89.8h0.9v0.9h-0.9zM65.2,91.4h0.9v0.9h-0.9zM66.3,83.3h0.9v0.9h-0.9zM70.8,82.9h0.9v0.9h-0.9zM65.2,95.0h0.9v0.9h-0.9zM65.1,86.1h0.9v0.9h-0.9zM68.2,86.7h0.9v0.9h-0.9zM62.6,89.1h0.9v0.9h-0.9zM63.2,98.7h0.9v0.9h-0.9zM64.2,86.8h0.9v0.9h-0.9zM65.9,92.4h0.9v0.9h-0.9zM64.8,102.0h0.9v0.9h-0.9zM70.5,97.3h0.9v0.9h-0.9zM64.3,98.1h0.9v0.9h-0.9zM66.6,93.2h0.9v0.9h-0.9zM66.1,96.0h0.9v0.9h-0.9zM70.9,100.2h0.9v0.9h-0.9zM66.3,99.0h0.9v0.9h-0.9zM72.1,81.6h0.9v0.9h-0.9zM72.2,78.0h0.9v0.9h-0.9zM68.9,95.3h0.9v0.9h-0.9zM72.2,92.5h0.9v0.9h-0.9zM65.3,82.8h0.9v0.9h-0.9zM62.6,96.9h0.9v0.9h-0.9zM66.2,83.5h0.9v0.9h-0.9zM68.9,83.1h0.9v0.9h-0.9zM65.5,85.9h0.9v0.9h-0.9zM72.8,103.2h0.9v0.9h-0.9zM66.4,75.9h0.9v0.9h-0.9zM68.0,90.6h0.9v0.9h-0.9zM68.2,95.1h0.9v0.9h-0.9zM65.9,98.3h0.9v0.9h-0.9zM69.9,91.9h0.9v0.9h-0.9zM65.6,85.7h0.9v0.9h-0.9zM69.4,80.1h0.9v0.9h-0.9zM66.4,83.3h0.9v0.9h-0.9zM62.1,95.4h0.9v0.9h-0.9zM66.9,90.3h0.9v0.9h-0.9zM70.1,76.6h0.9v0.9h-0.9zM66.8,92.6h0.9v0.9h-0.9zM69.9,80.2h0.9v0.9h-0.9zM69.5,92.0h0.9v0.9h-0.9zM71.7,100.2h0.9v0.9h-0.9zM67.0,86.2h0.9v0.9h-0.9zM65.8,81.5h0.9v0.9h-0.9zM66.9,73.1h0.9v0.9h-0.9zM66.7,93.8h0.9v0.9h-0.9zM70.5,86.9h0.9v0.9h-0.9zM71.9,84.1h0.9v0.9h-0.9zM66.5,73.1h0.9v0.9h-0.9zM64.3,82.9h0.9v0.9h-0.9zM72.1,94.7h0.9v0.9h-0.9zM63.2,94.7h0.9v0.9h-0.9zM68.6,87.9h0.9v0.9h-0.9zM67.1,87.3h0.9v0.9h-0.9z" fill="#000" fill-opacity="0.5"/>
<path d="M73.0,43.5h0.9v0.9h-0.9zM65.5,59.9h0.9v0.9h-0.9zM87.8,51.5h0.9v0.9h-0.9zM76.4,51.9h0.9v0.9h-0.9zM78.9,54.9h0.9v0.9h-0.9zM73.7,54.9h0.9v0.9h-0.9zM67.4,55.8h0.9v0.9h-0.9zM70.8,45.1h0.9v0.9h-0.9zM65.0,57.1h0.9v0.9h-0.9zM82.4,52.4h0.9v0.9h-0.9zM78.6,51.0h0.9v0.9h-0.9zM74.8,63.9h0.9v0.9h-0.9zM77.7,58.5h0.9v0.9h-0.9zM79.7,61.7h0.9v0.9h-0.9zM91.4,50.2h0.9v0.9h-0.9zM76.2,60.1h0.9v0.9h-0.9zM79.4,49.4h0.9v0.9h-0.9zM67.3,42.7h0.9v0.9h-0.9zM74.6,56.0h0.9v0.9h-0.9zM71.4,55.9h0.9v0.9h-0.9zM76.8,54.7h0.9v0.9h-0.9zM72.6,61.1h0.9v0.9h-0.9zM71.9,53.9h0.9v0.9h-0.9zM72.6,58.5h0.9v0.9h-0.9zM70.7,55.5h0.9v0.9h-0.9zM66.3,53.4h0.9v0.9h-0.9zM92.3,52.5h0.9v0.9h-0.9zM87.3,57.4h0.9v0.9h-0.9zM85.7,52.1h0.9v0.9h-0.9zM79.3,57.0h0.9v0.9h-0.9zM74.1,54.4h0.9v0.9h-0.9zM66.1,52.8h0.9v0.9h-0.9zM85.4,49.2h0.9v0.9h-0.9zM91.6,43.7h0.9v0.9h-0.9zM71.4,49.6h0.9v0.9h-0.9zM64.2,56.0h0.9v0.9h-0.9zM92.9,54.6h0.9v0.9h-0.9zM71.6,49.1h0.9v0.9h-0.9zM73.5,60.2h0.9v0.9h-0.9zM86.0,42.6h0.9v0.9h-0.9zM78.6,61.4h0.9v0.9h-0.9zM77.5,45.1h0.9v0.9h-0.9zM69.0,56.1h0.9v0.9h-0.9zM70.8,48.7h0.9v0.9h-0.9zM78.6,58.1h0.9v0.9h-0.9zM85.9,60.6h0.9v0.9h-0.9zM64.3,54.6h0.9v0.9h-0.9zM85.8,49.8h0.9v0.9h-0.9zM75.3,45.2h0.9v0.9h-0.9zM97.9,45.6h0.9v0.9h-0.9zM84.0,53.2h0.9v0.9h-0.9zM71.9,56.9h0.9v0.9h-0.9zM70.1,51.9h0.9v0.9h-0.9zM67.9,50.0h0.9v0.9h-0.9zM106.1,58.1h0.9v0.9h-0.9zM68.1,53.8h0.9v0.9h-0.9zM74.3,54.3h0.9v0.9h-0.9zM64.2,52.6h0.9v0.9h-0.9zM82.1,43.9h0.9v0.9h-0.9zM68.1,47.4h0.9v0.9h-0.9zM69.2,60.9h0.9v0.9h-0.9zM81.7,52.5h0.9v0.9h-0.9zM73.7,58.0h0.9v0.9h-0.9zM80.0,44.1h0.9v0.9h-0.9zM72.4,51.1h0.9v0.9h-0.9zM69.2,58.7h0.9v0.9h-0.9zM78.5,51.0h0.9v0.9h-0.9zM66.4,55.2h0.9v0.9h-0.9zM72.4,58.5h0.9v0.9h-0.9zM100.6,50.8h0.9v0.9h-0.9zM94.5,41.9h0.9v0.9h-0.9zM87.0,51.2h0.9v0.9h-0.9zM66.2,51.2h0.9v0.9h-0.9zM74.4,46.3h0.9v0.9h-0.9zM70.4,59.8h0.9v0.9h-0.9zM82.6,51.2h0.9v0.9h-0.9zM72.6,49.3h0.9v0.9h-0.9zM83.6,62.5h0.9v0.9h-0.9zM74.8,53.6h0.9v0.9h-0.9zM72.0,47.6h0.9v0.9h-0.9zM85.5,57.1h0.9v0.9h-0.9zM79.5,58.2h0.9v0.9h-0.9zM82.1,56.4h0.9v0.9h-0.9zM79.7,50.8h0.9v0.9h-0.9zM72.1,55.3h0.9v0.9h-0.9zM80.5,48.6h0.9v0.9h-0.9zM89.8,60.1h0.9v0.9h-0.9zM64.2,55.5h0.9v0.9h-0.9zM76.7,52.2h0.9v0.9h-0.9zM85.6,53.5h0.9v0.9h-0.9zM67.3,60.1h0.9v0.9h-0.9zM79.5,57.3h0.9v0.9h-0.9zM69.9,51.8h0.9v0.9h-0.9zM69.6,54.2h0.9v0.9h-0.9zM95.5,57.1h0.9v0.9h-0.9zM89.6,50.3h0.9v0.9h-0.9zM64.4,50.3h0.9v0.9h-0.9zM91.1,52.5h0.9v0.9h-0.9zM89.7,59.2h0.9v0.9h-0.9zM72.1,55.1h0.9v0.9h-0.9zM85.2,51.2h0.9v0.9h-0.9zM65.4,50.1h0.9v0.9h-0.9zM65.0,51.1h0.9v0.9h-0.9zM65.3,58.3h0.9v0.9h-0.9zM86.7,53.7h0.9v0.9h-0.9zM67.3,57.5h0.9v0.9h-0.9zM68.7,47.4h0.9v0.9h-0.9zM82.1,48.1h0.9v0.9h-0.9zM79.2,47.9h0.9v0.9h-0.9zM93.9,47.5h0.9v0.9h-0.9zM77.9,60.9h0.9v0.9h-0.9zM79.7,60.8h0.9v0.9h-0.9zM77.4,43.7h0.9v0.9h-0.9zM75.8,56.7h0.9v0.9h-0.9zM67.3,39.7h0.9v0.9h-0.9zM64.9,51.4h0.9v0.9h-0.9zM70.2,51.5h0.9v0.9h-0.9zM93.2,50.0h0.9v0.9h-0.9zM93.4,61.2h0.9v0.9h-0.9zM69.9,49.2h0.9v0.9h-0.9zM70.5,58.6h0.9v0.9h-0.9zM75.8,46.8h0.9v0.9h-0.9zM66.6,53.7h0.9v0.9h-0.9zM87.5,59.3h0.9v0.9h-0.9zM72.5,59.4h0.9v0.9h-0.9zM70.5,61.1h0.9v0.9h-0.9zM71.0,55.1h0.9v0.9h-0.9zM79.0,48.2h0.9v0.9h-0.9zM75.5,43.7h0.9v0.9h-0.9zM66.7,52.7h0.9v0.9h-0.9zM69.3,55.6h0.9v0.9h-0.9zM98.5,52.9h0.9v0.9h-0.9zM65.4,51.6h0.9v0.9h-0.9zM77.0,62.3h0.9v0.9h-0.9zM71.3,48.0h0.9v0.9h-0.9zM73.9,53.5h0.9v0.9h-0.9zM73.6,48.5h0.9v0.9h-0.9zM80.3,47.6h0.9v0.9h-0.9zM77.5,55.3h0.9v0.9h-0.9zM71.6,64.4h0.9v0.9h-0.9zM68.3,52.1h0.9v0.9h-0.9zM71.8,57.6h0.9v0.9h-0.9zM85.8,54.5h0.9v0.9h-0.9zM76.1,56.3h0.9v0.9h-0.9zM86.4,53.3h0.9v0.9h-0.9zM65.7,54.0h0.9v0.9h-0.9zM112.2,57.1h0.9v0.9h-0.9zM73.2,53.9h0.9v0.9h-0.9zM70.5,49.1h0.9v0.9h-0.9zM66.9,59.4h0.9v0.9h-0.9zM65.7,60.1h0.9v0.9h-0.9zM106.0,50.6h0.9v0.9h-0.9zM68.5,52.9h0.9v0.9h-0.9zM91.1,49.5h0.9v0.9h-0.9zM84.4,46.2h0.9v0.9h-0.9zM80.2,47.2h0.9v0.9h-0.9zM73.0,56.4h0.9v0.9h-0.9zM73.7,42.3h0.9v0.9h-0.9zM87.8,49.9h0.9v0.9h-0.9zM73.6,61.8h0.9v0.9h-0.9zM65.3,46.5h0.9v0.9h-0.9zM74.4,49.2h0.9v0.9h-0.9zM80.5,51.2h0.9v0.9h-0.9zM78.3,54.8h0.9v0.9h-0.9zM86.5,67.7h0.9v0.9h-0.9zM80.2,53.6h0.9v0.9h-0.9zM64.5,57.0h0.9v0.9h-0.9zM69.4,55.4h0.9v0.9h-0.9zM98.4,53.5h0.9v0.9h-0.9zM81.7,54.7h0.9v0.9h-0.9zM77.1,51.0h0.9v0.9h-0.9zM67.1,54.8h0.9v0.9h-0.9zM68.6,57.5h0.9v0.9h-0.9zM67.1,46.1h0.9v0.9h-0.9zM78.3,51.1h0.9v0.9h-0.9zM83.8,49.5h0.9v0.9h-0.9zM73.3,54.7h0.9v0.9h-0.9zM108.0,45.1h0.9v0.9h-0.9zM82.3,60.4h0.9v0.9h-0.9zM94.8,57.8h0.9v0.9h-0.9zM81.8,55.6h0.9v0.9h-0.9zM75.0,50.4h0.9v0.9h-0.9zM64.2,54.2h0.9v0.9h-0.9zM70.9,56.7h0.9v0.9h-0.9zM67.4,49.3h0.9v0.9h-0.9zM73.2,55.2h0.9v0.9h-0.9zM91.1,46.4h0.9v0.9h-0.9zM70.7,50.1h0.9v0.9h-0.9zM68.4,38.9h0.9v0.9h-0.9zM69.6,51.7h0.9v0.9h-0.9zM76.7,42.5h0.9v0.9h-0.9zM69.0,55.5h0.9v0.9h-0.9zM72.0,59.3h0.9v0.9h-0.9zM81.2,47.5h0.9v0.9h-0.9zM74.4,51.2h0.9v0.9h-0.9zM77.1,61.1h0.9v0.9h-0.9zM74.3,48.5h0.9v0.9h-0.9zM70.7,48.5h0.9v0.9h-0.9zM80.5,55.0h0.9v0.9h-0.9zM86.9,55.2h0.9v0.9h-0.9zM74.1,58.5h0.9v0.9h-0.9zM74.7,50.6h0.9v0.9h-0.9zM66.7,53.2h0.9v0.9h-0.9zM83.5,49.8h0.9v0.9h-0.9zM69.8,52.9h0.9v0.9h-0.9zM84.6,47.2h0.9v0.9h-0.9zM67.6,55.1h0.9v0.9h-0.9zM69.2,55.5h0.9v0.9h-0.9zM64.8,50.6h0.9v0.9h-0.9zM71.0,47.7h0.9v0.9h-0.9zM86.0,51.2h0.9v0.9h-0.9zM87.4,50.3h0.9v0.9h-0.9zM76.2,50.1h0.9v0.9h-0.9zM64.7,48.8h0.9v0.9h-0.9zM70.9,43.9h0.9v0.9h-0.9zM66.4,48.3h0.9v0.9h-0.9zM70.6,38.0h0.9v0.9h-0.9zM77.1,54.3h0.9v0.9h-0.9zM104.0,51.1h0.9v0.9h-0.9zM65.5,53.5h0.9v0.9h-0.9zM88.5,54.2h0.9v0.9h-0.9zM66.4,47.8h0.9v0.9h-0.9zM76.2,52.7h0.9v0.9h-0.9zM64.3,50.6h0.9v0.9h-0.9zM73.0,53.5h0.9v0.9h-0.9zM82.7,55.4h0.9v0.9h-0.9zM74.1,51.8h0.9v0.9h-0.9zM79.1,51.1h0.9v0.9h-0.9zM70.3,55.8h0.9v0.9h-0.9zM66.9,40.6h0.9v0.9h-0.9zM66.2,54.1h0.9v0.9h-0.9zM66.2,49.0h0.9v0.9h-0.9zM83.9,52.3h0.9v0.9h-0.9zM74.2,49.2h0.9v0.9h-0.9zM69.9,47.2h0.9v0.9h-0.9zM80.4,63.6h0.9v0.9h-0.9zM85.5,58.6h0.9v0.9h-0.9zM86.4,56.2h0.9v0.9h-0.9zM91.7,59.4h0.9v0.9h-0.9zM84.4,55.6h0.9v0.9h-0.9zM96.2,59.6h0.9v0.9h-0.9zM86.5,50.4h0.9v0.9h-0.9zM66.1,57.1h0.9v0.9h-0.9zM65.4,58.8h0.9v0.9h-0.9zM65.3,56.7h0.9v0.9h-0.9zM65.4,45.1h0.9v0.9h-0.9zM80.4,69.9h0.9v0.9h-0.9zM68.6,60.0h0.9v0.9h-0.9zM82.8,62.1h0.9v0.9h-0.9zM73.1,49.8h0.9v0.9h-0.9zM64.3,42.8h0.9v0.9h-0.9zM67.1,57.8h0.9v0.9h-0.9zM99.6,54.0h0.9v0.9h-0.9zM77.6,60.1h0.9v0.9h-0.9zM79.3,49.5h0.9v0.9h-0.9zM94.9,47.6h0.9v0.9h-0.9zM72.8,64.0h0.9v0.9h-0.9zM82.9,60.4h0.9v0.9h-0.9zM71.0,50.4h0.9v0.9h-0.9zM100.2,39.5h0.9v0.9h-0.9zM65.1,54.2h0.9v0.9h-0.9zM99.2,62.6h0.9v0.9h-0.9zM101.4,53.7h0.9v0.9h-0.9zM80.2,60.3h0.9v0.9h-0.9zM72.5,54.9h0.9v0.9h-0.9zM67.0,50.8h0.9v0.9h-0.9zM84.3,63.4h0.9v0.9h-0.9zM71.4,41.9h0.9v0.9h-0.9zM68.4,52.8h0.9v0.9h-0.9zM66.9,62.7h0.9v0.9h-0.9zM65.8,51.6h0.9v0.9h-0.9zM76.3,52.9h0.9v0.9h-0.9zM71.3,54.1h0.9v0.9h-0.9zM115.6,55.1h0.9v0.9h-0.9zM78.2,63.3h0.9v0.9h-0.9zM78.3,57.4h0.9v0.9h-0.9zM75.8,57.4h0.9v0.9h-0.9zM75.2,60.5h0.9v0.9h-0.9zM80.7,60.2h0.9v0.9h-0.9zM72.3,53.0h0.9v0.9h-0.9zM76.1,58.1h0.9v0.9h-0.9zM77.8,50.5h0.9v0.9h-0.9zM73.7,67.1h0.9v0.9h-0.9zM84.5,47.0h0.9v0.9h-0.9zM65.5,56.4h0.9v0.9h-0.9zM64.6,55.1h0.9v0.9h-0.9zM83.5,54.8h0.9v0.9h-0.9zM82.2,56.8h0.9v0.9h-0.9zM65.6,53.6h0.9v0.9h-0.9zM73.4,45.6h0.9v0.9h-0.9zM84.6,51.1h0.9v0.9h-0.9zM81.7,38.5h0.9v0.9h-0.9zM83.0,46.8h0.9v0.9h-0.9zM76.0,55.8h0.9v0.9h-0.9zM103.9,60.2h0.9v0.9h-0.9zM76.7,56.5h0.9v0.9h-0.9zM72.0,54.6h0.9v0.9h-0.9zM65.7,53.0h0.9v0.9h-0.9zM94.2,45.1h0.9v0.9h-0.9zM64.7,60.6h0.9v0.9h-0.9zM73.0,55.9h0.9v0.9h-0.9zM66.7,55.6h0.9v0.9h-0.9zM80.4,45.0h0.9v0.9h-0.9zM68.5,52.0h0.9v0.9h-0.9zM69.2,48.4h0.9v0.9h-0.9zM77.0,47.5h0.9v0.9h-0.9zM82.2,66.4h0.9v0.9h-0.9zM92.2,53.1h0.9v0.9h-0.9zM76.3,47.8h0.9v0.9h-0.9zM110.1,43.2h0.9v0.9h-0.9zM66.3,60.7h0.9v0.9h-0.9zM64.7,47.6h0.9v0.9h-0.9zM68.0,47.7h0.9v0.9h-0.9zM87.1,51.8h0.9v0.9h-0.9zM70.6,48.6h0.9v0.9h-0.9zM78.7,48.0h0.9v0.9h-0.9zM67.9,60.5h0.9v0.9h-0.9zM67.5,65.0h0.9v0.9h-0.9zM90.8,54.5h0.9v0.9h-0.9zM83.2,52.1h0.9v0.9h-0.9zM65.7,56.0h0.9v0.9h-0.9zM82.7,50.0h0.9v0.9h-0.9zM84.6,52.0h0.9v0.9h-0.9zM68.9,49.3h0.9v0.9h-0.9zM78.8,62.0h0.9v0.9h-0.9zM87.6,54.9h0.9v0.9h-0.9zM80.8,42.7h0.9v0.9h-0.9zM67.4,51.8h0.9v0.9h-0.9zM87.6,60.1h0.9v0.9h-0.9zM67.6,50.4h0.9v0.9h-0.9zM71.4,56.4h0.9v0.9h-0.9zM76.7,56.1h0.9v0.9h-0.9zM70.8,46.7h0.9v0.9h-0.9zM71.0,53.7h0.9v0.9h-0.9zM109.9,64.4h0.9v0.9h-0.9zM70.3,47.3h0.9v0.9h-0.9zM94.1,54.3h0.9v0.9h-0.9zM64.5,49.9h0.9v0.9h-0.9zM70.9,48.2h0.9v0.9h-0.9zM76.4,52.5h0.9v0.9h-0.9zM74.7,56.6h0.9v0.9h-0.9zM66.4,53.7h0.9v0.9h-0.9zM70.7,59.8h0.9v0.9h-0.9zM74.0,54.2h0.9v0.9h-0.9zM66.7,48.7h0.9v0.9h-0.9zM69.7,56.7h0.9v0.9h-0.9zM67.8,50.9h0.9v0.9h-0.9zM86.1,44.8h0.9v0.9h-0.9zM69.3,58.5h0.9v0.9h-0.9zM70.2,45.6h0.9v0.9h-0.9zM67.5,54.2h0.9v0.9h-0.9zM79.2,54.9h0.9v0.9h-0.9zM67.3,48.5h0.9v0.9h-0.9zM84.6,57.3h0.9v0.9h-0.9zM69.9,48.2h0.9v0.9h-0.9zM80.8,57.8h0.9v0.9h-0.9zM73.9,51.4h0.9v0.9h-0.9zM90.4,51.4h0.9v0.9h-0.9zM81.5,58.9h0.9v0.9h-0.9zM67.1,54.9h0.9v0.9h-0.9zM64.6,47.6h0.9v0.9h-0.9zM83.7,52.0h0.9v0.9h-0.9zM87.3,47.6h0.9v0.9h-0.9zM86.5,54.2h0.9v0.9h-0.9zM82.4,54.4h0.9v0.9h-0.9zM73.4,48.2h0.9v0.9h-0.9zM99.3,54.9h0.9v0.9h-0.9zM82.4,55.4h0.9v0.9h-0.9zM95.6,52.2h0.9v0.9h-0.9zM77.4,45.1h0.9v0.9h-0.9zM68.0,53.9h0.9v0.9h-0.9zM73.2,46.7h0.9v0.9h-0.9zM67.5,43.6h0.9v0.9h-0.9zM72.8,55.6h0.9v0.9h-0.9zM91.7,57.7h0.9v0.9h-0.9zM69.9,54.4h0.9v0.9h-0.9zM64.5,45.9h0.9v0.9h-0.9zM88.2,55.8h0.9v0.9h-0.9zM68.7,46.9h0.9v0.9h-0.9zM88.5,55.8h0.9v0.9h-0.9zM83.6,56.6h0.9v0.9h-0.9zM95.3,52.9h0.9v0.9h-0.9zM70.6,50.8h0.9v0.9h-0.9zM74.4,58.7h0.9v0.9h-0.9zM114.9,53.6h0.9v0.9h-0.9zM66.0,57.2h0.9v0.9h-0.9zM69.0,56.9h0.9v0.9h-0.9zM77.7,47.6h0.9v0.9h-0.9zM81.7,52.6h0.9v0.9h-0.9zM77.7,54.5h0.9v0.9h-0.9zM84.5,45.6h0.9v0.9h-0.9zM72.1,49.7h0.9v0.9h-0.9zM65.7,54.7h0.9v0.9h-0.9zM80.0,51.8h0.9v0.9h-0.9zM83.2,54.4h0.9v0.9h-0.9zM78.0,50.4h0.9v0.9h-0.9zM67.6,49.5h0.9v0.9h-0.9zM82.9,49.6h0.9v0.9h-0.9zM78.0,54.5h0.9v0.9h-0.9zM81.1,51.8h0.9v0.9h-0.9zM77.8,51.1h0.9v0.9h-0.9zM68.5,62.7h0.9v0.9h-0.9zM70.9,61.4h0.9v0.9h-0.9zM71.4,46.0h0.9v0.9h-0.9zM102.1,56.6h0.9v0.9h-0.9zM96.8,56.8h0.9v0.9h-0.9zM81.0,55.1h0.9v0.9h-0.9zM67.5,51.7h0.9v0.9h-0.9zM68.3,51.4h0.9v0.9h-0.9zM72.8,51.0h0.9v0.9h-0.9zM83.3,49.7h0.9v0.9h-0.9zM70.3,46.9h0.9v0.9h-0.9zM75.7,45.7h0.9v0.9h-0.9zM67.3,56.6h0.9v0.9h-0.9zM69.0,50.4h0.9v0.9h-0.9zM74.1,51.2h0.9v0.9h-0.9zM70.1,54.5h0.9v0.9h-0.9zM72.9,39.8h0.9v0.9h-0.9zM85.4,57.1h0.9v0.9h-0.9zM65.8,64.9h0.9v0.9h-0.9zM67.9,50.1h0.9v0.9h-0.9zM88.6,56.0h0.9v0.9h-0.9zM95.2,55.7h0.9v0.9h-0.9zM67.3,56.9h0.9v0.9h-0.9zM77.0,50.6h0.9v0.9h-0.9zM73.1,51.8h0.9v0.9h-0.9zM76.8,50.4h0.9v0.9h-0.9zM69.3,50.3h0.9v0.9h-0.9zM78.5,38.3h0.9v0.9h-0.9zM67.4,53.9h0.9v0.9h-0.9zM81.7,58.4h0.9v0.9h-0.9zM67.6,59.8h0.9v0.9h-0.9zM79.8,56.4h0.9v0.9h-0.9zM66.5,47.2h0.9v0.9h-0.9zM67.6,50.6h0.9v0.9h-0.9zM68.1,50.5h0.9v0.9h-0.9zM114.2,44.5h0.9v0.9h-0.9zM83.3,50.5h0.9v0.9h-0.9zM68.0,57.9h0.9v0.9h-0.9zM64.0,46.6h0.9v0.9h-0.9zM70.8,52.0h0.9v0.9h-0.9zM97.8,54.1h0.9v0.9h-0.9zM81.3,49.0h0.9v0.9h-0.9zM71.9,54.6h0.9v0.9h-0.9zM68.8,64.5h0.9v0.9h-0.9zM70.9,49.7h0.9v0.9h-0.9zM67.9,52.4h0.9v0.9h-0.9zM100.2,44.6h0.9v0.9h-0.9zM86.8,64.0h0.9v0.9h-0.9zM67.0,51.5h0.9v0.9h-0.9zM73.3,58.2h0.9v0.9h-0.9zM64.5,62.1h0.9v0.9h-0.9zM76.9,61.7h0.9v0.9h-0.9zM65.9,55.0h0.9v0.9h-0.9zM71.1,52.1h0.9v0.9h-0.9zM92.4,49.9h0.9v0.9h-0.9zM79.6,49.5h0.9v0.9h-0.9zM83.9,54.4h0.9v0.9h-0.9zM84.1,57.6h0.9v0.9h-0.9zM79.1,58.3h0.9v0.9h-0.9zM73.9,57.3h0.9v0.9h-0.9zM69.3,50.2h0.9v0.9h-0.9zM83.6,64.5h0.9v0.9h-0.9zM80.0,62.2h0.9v0.9h-0.9zM77.6,48.5h0.9v0.9h-0.9zM68.5,55.0h0.9v0.9h-0.9zM70.1,51.1h0.9v0.9h-0.9zM85.1,53.2h0.9v0.9h-0.9zM78.1,57.2h0.9v0.9h-0.9zM74.8,58.8h0.9v0.9h-0.9zM80.2,52.8h0.9v0.9h-0.9zM69.6,58.3h0.9v0.9h-0.9zM66.6,55.7h0.9v0.9h-0.9zM66.2,64.1h0.9v0.9h-0.9zM99.8,52.9h0.9v0.9h-0.9zM104.5,54.2h0.9v0.9h-0.9zM94.0,53.7h0.9v0.9h-0.9zM87.5,49.4h0.9v0.9h-0.9zM67.7,62.1h0.9v0.9h-0.9zM71.6,56.5h0.9v0.9h-0.9zM80.7,54.1h0.9v0.9h-0.9zM78.0,52.5h0.9v0.9h-0.9zM69.5,51.5h0.9v0.9h-0.9zM74.9,51.1h0.9v0.9h-0.9zM88.6,47.6h0.9v0.9h-0.9zM65.5,51.1h0.9v0.9h-0.9zM64.6,60.4h0.9v0.9h-0.9zM68.9,52.8h0.9v0.9h-0.9zM83.2,47.3h0.9v0.9h-0.9zM70.1,48.4h0.9v0.9h-0.9zM71.0,47.3h0.9v0.9h-0.9zM66.2,52.6h0.9v0.9h-0.9zM80.3,50.9h0.9v0.9h-0.9zM70.1,54.3h0.9v0.9h-0.9zM64.9,61.9h0.9v0.9h-0.9zM68.2,50.2h0.9v0.9h-0.9zM69.2,55.5h0.9v0.9h-0.9zM67.8,56.7h0.9v0.9h-0.9zM86.6,66.1h0.9v0.9h-0.9zM94.1,52.8h0.9v0.9h-0.9zM83.8,53.8h0.9v0.9h-0.9zM70.8,41.2h0.9v0.9h-0.9zM64.2,45.2h0.9v0.9h-0.9zM71.5,60.3h0.9v0.9h-0.9zM80.9,45.0h0.9v0.9h-0.9zM86.6,57.8h0.9v0.9h-0.9zM69.9,55.7h0.9v0.9h-0.9zM88.8,51.2h0.9v0.9h-0.9zM64.3,50.0h0.9v0.9h-0.9zM82.9,41.6h0.9v0.9h-0.9zM87.2,47.9h0.9v0.9h-0.9zM79.2,44.4h0.9v0.9h-0.9zM79.3,49.8h0.9v0.9h-0.9zM77.5,44.4h0.9v0.9h-0.9zM73.9,49.6h0.9v0.9h-0.9zM84.3,51.4h0.9v0.9h-0.9zM72.0,52.1h0.9v0.9h-0.9zM93.3,51.1h0.9v0.9h-0.9zM64.4,63.5h0.9v0.9h-0.9zM65.3,56.6h0.9v0.9h-0.9zM76.1,54.1h0.9v0.9h-0.9zM101.1,53.6h0.9v0.9h-0.9zM74.6,45.0h0.9v0.9h-0.9zM87.2,59.0h0.9v0.9h-0.9zM71.0,45.0h0.9v0.9h-0.9zM93.7,49.3h0.9v0.9h-0.9zM70.0,54.3h0.9v0.9h-0.9zM82.6,44.4h0.9v0.9h-0.9zM76.2,59.3h0.9v0.9h-0.9zM79.6,44.6h0.9v0.9h-0.9zM83.7,53.2h0.9v0.9h-0.9zM72.2,53.3h0.9v0.9h-0.9zM70.8,47.7h0.9v0.9h-0.9zM78.9,49.3h0.9v0.9h-0.9zM70.0,56.3h0.9v0.9h-0.9zM83.9,61.4h0.9v0.9h-0.9zM74.3,49.9h0.9v0.9h-0.9zM75.5,55.3h0.9v0.9h-0.9zM69.5,47.3h0.9v0.9h-0.9zM80.4,44.5h0.9v0.9h-0.9zM82.7,58.7h0.9v0.9h-0.9zM94.6,55.6h0.9v0.9h-0.9zM69.4,57.0h0.9v0.9h-0.9zM79.6,51.6h0.9v0.9h-0.9zM69.8,64.4h0.9v0.9h-0.9zM91.7,45.6h0.9v0.9h-0.9zM79.8,57.0h0.9v0.9h-0.9zM83.4,51.2h0.9v0.9h-0.9zM75.0,52.7h0.9v0.9h-0.9zM68.9,50.1h0.9v0.9h-0.9zM64.4,53.0h0.9v0.9h-0.9zM82.5,64.8h0.9v0.9h-0.9zM93.7,55.8h0.9v0.9h-0.9zM64.1,58.1h0.9v0.9h-0.9zM81.4,57.1h0.9v0.9h-0.9zM77.2,48.0h0.9v0.9h-0.9zM91.9,61.8h0.9v0.9h-0.9zM83.8,48.0h0.9v0.9h-0.9zM85.1,56.5h0.9v0.9h-0.9zM104.2,57.8h0.9v0.9h-0.9zM80.2,59.2h0.9v0.9h-0.9zM75.2,49.1h0.9v0.9h-0.9zM89.3,51.9h0.9v0.9h-0.9zM80.7,49.4h0.9v0.9h-0.9zM94.5,64.4h0.9v0.9h-0.9zM94.2,56.7h0.9v0.9h-0.9zM72.8,46.6h0.9v0.9h-0.9zM90.8,56.0h0.9v0.9h-0.9zM85.3,47.4h0.9v0.9h-0.9zM64.0,51.5h0.9v0.9h-0.9zM68.2,55.7h0.9v0.9h-0.9zM98.3,49.6h0.9v0.9h-0.9zM77.9,58.8h0.9v0.9h-0.9zM68.7,52.2h0.9v0.9h-0.9zM86.0,58.7h0.9v0.9h-0.9zM72.7,49.5h0.9v0.9h-0.9zM65.1,48.5h0.9v0.9h-0.9zM81.1,51.4h0.9v0.9h-0.9zM88.4,51.9h0.9v0.9h-0.9zM72.6,45.2h0.9v0.9h-0.9zM95.9,62.6h0.9v0.9h-0.9zM70.5,44.8h0.9v0.9h-0.9zM65.7,56.2h0.9v0.9h-0.9zM92.3,48.3h0.9v0.9h-0.9zM68.3,48.1h0.9v0.9h-0.9zM77.1,58.1h0.9v0.9h-0.9zM71.3,50.7h0.9v0.9h-0.9zM64.8,49.6h0.9v0.9h-0.9zM66.1,54.7h0.9v0.9h-0.9zM68.9,58.2h0.9v0.9h-0.9zM106.6,50.1h0.9v0.9h-0.9zM69.6,57.4h0.9v0.9h-0.9zM74.6,51.7h0.9v0.9h-0.9zM71.9,58.3h0.9v0.9h-0.9zM74.3,55.7h0.9v0.9h-0.9zM77.2,56.4h0.9v0.9h-0.9zM77.0,52.0h0.9v0.9h-0.9zM74.6,64.5h0.9v0.9h-0.9zM94.8,56.2h0.9v0.9h-0.9zM83.2,45.8h0.9v0.9h-0.9zM67.9,55.9h0.9v0.9h-0.9zM64.9,46.8h0.9v0.9h-0.9zM87.6,50.0h0.9v0.9h-0.9zM64.2,48.6h0.9v0.9h-0.9zM88.7,62.3h0.9v0.9h-0.9zM77.8,52.2h0.9v0.9h-0.9zM73.0,49.9h0.9v0.9h-0.9zM64.7,51.4h0.9v0.9h-0.9zM74.2,46.7h0.9v0.9h-0.9zM88.4,63.4h0.9v0.9h-0.9zM65.2,57.1h0.9v0.9h-0.9zM83.4,55.9h0.9v0.9h-0.9zM64.6,44.7h0.9v0.9h-0.9zM90.3,58.2h0.9v0.9h-0.9zM75.1,56.0h0.9v0.9h-0.9zM91.3,41.6h0.9v0.9h-0.9zM81.4,46.7h0.9v0.9h-0.9zM66.6,47.6h0.9v0.9h-0.9zM90.1,49.7h0.9v0.9h-0.9zM73.3,57.6h0.9v0.9h-0.9zM69.4,48.2h0.9v0.9h-0.9zM77.5,63.2h0.9v0.9h-0.9zM84.2,51.7h0.9v0.9h-0.9zM81.8,42.6h0.9v0.9h-0.9zM74.3,56.7h0.9v0.9h-0.9zM80.1,55.3h0.9v0.9h-0.9zM97.2,52.9h0.9v0.9h-0.9zM75.0,46.7h0.9v0.9h-0.9zM82.3,57.1h0.9v0.9h-0.9zM68.9,63.5h0.9v0.9h-0.9zM71.8,42.8h0.9v0.9h-0.9zM78.8,59.7h0.9v0.9h-0.9zM64.5,46.5h0.9v0.9h-0.9zM93.2,46.0h0.9v0.9h-0.9zM65.4,42.8h0.9v0.9h-0.9zM84.7,43.9h0.9v0.9h-0.9zM82.0,59.3h0.9v0.9h-0.9zM70.7,45.7h0.9v0.9h-0.9zM65.0,55.0h0.9v0.9h-0.9zM89.2,46.8h0.9v0.9h-0.9zM65.7,56.8h0.9v0.9h-0.9zM65.2,55.4h0.9v0.9h-0.9zM84.7,39.7h0.9v0.9h-0.9zM69.2,48.1h0.9v0.9h-0.9zM66.1,51.0h0.9v0.9h-0.9zM72.0,48.9h0.9v0.9h-0.9zM87.9,53.2h0.9v0.9h-0.9zM72.8,56.4h0.9v0.9h-0.9zM81.2,55.2h0.9v0.9h-0.9zM93.0,49.6h0.9v0.9h-0.9zM94.9,55.5h0.9v0.9h-0.9zM73.3,55.5h0.9v0.9h-0.9zM74.6,49.4h0.9v0.9h-0.9zM74.7,59.2h0.9v0.9h-0.9zM70.1,62.6h0.9v0.9h-0.9zM72.3,63.2h0.9v0.9h-0.9zM71.6,46.6h0.9v0.9h-0.9zM93.0,54.8h0.9v0.9h-0.9zM83.8,54.2h0.9v0.9h-0.9zM69.4,53.9h0.9v0.9h-0.9zM82.7,46.6h0.9v0.9h-0.9zM78.8,50.2h0.9v0.9h-0.9zM86.6,52.4h0.9v0.9h-0.9zM69.1,63.9h0.9v0.9h-0.9zM94.7,52.7h0.9v0.9h-0.9zM78.8,51.8h0.9v0.9h-0.9zM70.5,52.8h0.9v0.9h-0.9zM73.0,53.4h0.9v0.9h-0.9zM88.7,55.4h0.9v0.9h-0.9zM68.8,47.1h0.9v0.9h-0.9zM70.0,56.0h0.9v0.9h-0.9zM75.4,55.6h0.9v0.9h-0.9zM73.5,61.4h0.9v0.9h-0.9zM82.2,52.4h0.9v0.9h-0.9zM72.6,61.1h0.9v0.9h-0.9zM68.4,57.1h0.9v0.9h-0.9zM88.6,49.8h0.9v0.9h-0.9zM91.8,51.5h0.9v0.9h-0.9zM100.2,49.1h0.9v0.9h-0.9zM68.7,44.4h0.9v0.9h-0.9zM74.7,54.4h0.9v0.9h-0.9zM97.8,53.9h0.9v0.9h-0.9zM68.2,45.4h0.9v0.9h-0.9zM65.4,58.1h0.9v0.9h-0.9zM76.4,59.7h0.9v0.9h-0.9zM78.5,52.7h0.9v0.9h-0.9zM74.1,53.9h0.9v0.9h-0.9zM86.4,62.3h0.9v0.9h-0.9zM70.3,47.3h0.9v0.9h-0.9zM70.5,54.6h0.9v0.9h-0.9zM80.7,60.8h0.9v0.9h-0.9zM115.1,56.0h0.9v0.9h-0.9zM89.7,47.8h0.9v0.9h-0.9zM95.2,54.5h0.9v0.9h-0.9zM69.7,54.9h0.9v0.9h-0.9zM82.7,50.5h0.9v0.9h-0.9zM67.3,57.1h0.9v0.9h-0.9zM100.9,54.6h0.9v0.9h-0.9zM74.1,40.2h0.9v0.9h-0.9zM82.1,52.3h0.9v0.9h-0.9zM65.8,47.6h0.9v0.9h-0.9zM76.4,43.2h0.9v0.9h-0.9zM65.8,53.7h0.9v0.9h-0.9zM69.1,60.1h0.9v0.9h-0.9zM65.7,53.5h0.9v0.9h-0.9zM78.4,44.5h0.9v0.9h-0.9zM68.9,53.4h0.9v0.9h-0.9zM80.1,48.6h0.9v0.9h-0.9zM77.6,55.1h0.9v0.9h-0.9zM89.1,44.9h0.9v0.9h-0.9zM88.2,53.8h0.9v0.9h-0.9zM67.5,57.0h0.9v0.9h-0.9zM77.9,50.0h0.9v0.9h-0.9zM82.1,57.5h0.9v0.9h-0.9zM72.0,55.6h0.9v0.9h-0.9zM85.7,55.0h0.9v0.9h-0.9zM81.4,46.5h0.9v0.9h-0.9zM69.9,53.8h0.9v0.9h-0.9zM64.9,51.2h0.9v0.9h-0.9zM80.9,54.0h0.9v0.9h-0.9zM76.5,45.3h0.9v0.9h-0.9zM65.6,60.9h0.9v0.9h-0.9zM70.8,47.2h0.9v0.9h-0.9zM87.4,62.4h0.9v0.9h-0.9zM69.0,51.8h0.9v0.9h-0.9zM67.6,69.1h0.9v0.9h-0.9zM66.3,58.4h0.9v0.9h-0.9zM71.5,43.0h0.9v0.9h-0.9zM82.6,46.3h0.9v0.9h-0.9zM71.3,53.6h0.9v0.9h-0.9zM94.3,51.5h0.9v0.9h-0.9zM69.2,53.4h0.9v0.9h-0.9zM66.4,65.7h0.9v0.9h-0.9zM68.8,61.1h0.9v0.9h-0.9zM86.0,49.7h0.9v0.9h-0.9zM75.6,50.9h0.9v0.9h-0.9zM65.9,53.9h0.9v0.9h-0.9zM64.4,50.4h0.9v0.9h-0.9zM90.4,51.5h0.9v0.9h-0.9zM75.9,62.2h0.9v0.9h-0.9zM74.6,58.6h0.9v0.9h-0.9zM87.5,59.0h0.9v0.9h-0.9zM93.1,45.2h0.9v0.9h-0.9zM97.2,53.2h0.9v0.9h-0.9zM93.6,49.5h0.9v0.9h-0.9zM87.6,52.9h0.9v0.9h-0.9zM89.3,47.5h0.9v0.9h-0.9zM69.0,53.9h0.9v0.9h-0.9zM77.5,51.7h0.9v0.9h-0.9zM65.7,53.4h0.9v0.9h-0.9zM64.1,51.8h0.9v0.9h-0.9zM78.9,44.2h0.9v0.9h-0.9zM72.4,53.7h0.9v0.9h-0.9zM70.8,50.0h0.9v0.9h-0.9zM71.4,54.1h0.9v0.9h-0.9zM85.1,52.0h0.9v0.9h-0.9zM68.5,55.0h0.9v0.9h-0.9zM68.1,42.4h0.9v0.9h-0.9zM68.6,50.9h0.9v0.9h-0.9zM73.7,56.5h0.9v0.9h-0.9zM64.7,49.9h0.9v0.9h-0.9zM101.0,43.5h0.9v0.9h-0.9zM64.2,52.4h0.9v0.9h-0.9zM71.4,54.2h0.9v0.9h-0.9zM72.1,46.0h0.9v0.9h-0.9zM82.6,52.2h0.9v0.9h-0.9zM83.5,57.2h0.9v0.9h-0.9zM86.5,43.2h0.9v0.9h-0.9zM67.3,43.2h0.9v0.9h-0.9zM91.7,47.5h0.9v0.9h-0.9zM64.9,51.7h0.9v0.9h-0.9zM77.9,43.3h0.9v0.9h-0.9zM95.6,57.8h0.9v0.9h-0.9zM81.4,64.9h0.9v0.9h-0.9zM88.9,56.1h0.9v0.9h-0.9zM64.2,57.6h0.9v0.9h-0.9zM72.7,57.0h0.9v0.9h-0.9zM79.2,56.3h0.9v0.9h-0.9zM88.6,52.0h0.9v0.9h-0.9zM90.2,49.1h0.9v0.9h-0.9zM92.3,37.9h0.9v0.9h-0.9zM64.2,48.6h0.9v0.9h-0.9zM64.0,58.7h0.9v0.9h-0.9zM76.2,53.5h0.9v0.9h-0.9zM92.9,44.9h0.9v0.9h-0.9zM77.8,61.3h0.9v0.9h-0.9zM69.6,41.6h0.9v0.9h-0.9zM69.8,46.5h0.9v0.9h-0.9zM89.1,59.3h0.9v0.9h-0.9zM73.3,60.1h0.9v0.9h-0.9zM78.2,58.1h0.9v0.9h-0.9zM73.8,52.3h0.9v0.9h-0.9zM88.2,51.5h0.9v0.9h-0.9zM102.9,49.9h0.9v0.9h-0.9zM95.5,59.7h0.9v0.9h-0.9zM80.4,39.6h0.9v0.9h-0.9zM73.9,55.0h0.9v0.9h-0.9zM72.6,64.6h0.9v0.9h-0.9zM77.1,53.4h0.9v0.9h-0.9zM75.0,36.7h0.9v0.9h-0.9zM72.2,58.3h0.9v0.9h-0.9zM74.1,45.2h0.9v0.9h-0.9zM64.7,43.8h0.9v0.9h-0.9zM64.1,57.2h0.9v0.9h-0.9zM89.7,54.5h0.9v0.9h-0.9zM67.3,57.1h0.9v0.9h-0.9zM87.8,51.2h0.9v0.9h-0.9zM84.9,48.6h0.9v0.9h-0.9zM85.4,48.1h0.9v0.9h-0.9zM66.1,54.9h0.9v0.9h-0.9zM66.7,53.4h0.9v0.9h-0.9zM70.1,55.3h0.9v0.9h-0.9zM79.1,57.2h0.9v0.9h-0.9zM89.5,51.4h0.9v0.9h-0.9zM68.3,62.3h0.9v0.9h-0.9zM67.4,55.3h0.9v0.9h-0.9zM69.7,58.3h0.9v0.9h-0.9zM70.8,47.5h0.9v0.9h-0.9zM65.0,50.6h0.9v0.9h-0.9zM78.2,50.9h0.9v0.9h-0.9zM66.1,51.8h0.9v0.9h-0.9zM69.8,49.5h0.9v0.9h-0.9zM82.8,45.2h0.9v0.9h-0.9zM70.6,49.1h0.9v0.9h-0.9zM75.0,53.2h0.9v0.9h-0.9zM72.2,51.2h0.9v0.9h-0.9zM76.2,46.8h0.9v0.9h-0.9zM69.7,50.1h0.9v0.9h-0.9zM68.8,55.0h0.9v0.9h-0.9zM80.6,52.4h0.9v0.9h-0.9zM76.7,47.2h0.9v0.9h-0.9zM65.0,55.0h0.9v0.9h-0.9zM97.1,54.0h0.9v0.9h-0.9zM93.9,63.3h0.9v0.9h-0.9zM81.8,59.7h0.9v0.9h-0.9zM83.3,60.4h0.9v0.9h-0.9zM64.2,58.3h0.9v0.9h-0.9zM72.2,52.6h0.9v0.9h-0.9zM64.3,62.8h0.9v0.9h-0.9zM67.7,58.3h0.9v0.9h-0.9zM65.1,49.1h0.9v0.9h-0.9zM68.1,56.6h0.9v0.9h-0.9zM76.1,56.5h0.9v0.9h-0.9zM76.1,48.2h0.9v0.9h-0.9zM67.7,51.7h0.9v0.9h-0.9zM80.7,44.0h0.9v0.9h-0.9zM64.4,54.3h0.9v0.9h-0.9zM71.8,54.0h0.9v0.9h-0.9zM90.0,55.2h0.9v0.9h-0.9zM71.1,54.5h0.9v0.9h-0.9zM74.4,53.4h0.9v0.9h-0.9zM66.2,58.9h0.9v0.9h-0.9zM68.7,54.4h0.9v0.9h-0.9zM76.3,57.7h0.9v0.9h-0.9zM83.9,50.3h0.9v0.9h-0.9zM74.9,54.7h0.9v0.9h-0.9zM64.8,45.9h0.9v0.9h-0.9zM93.9,42.7h0.9v0.9h-0.9zM69.1,50.9h0.9v0.9h-0.9zM83.5,50.7h0.9v0.9h-0.9zM64.7,56.4h0.9v0.9h-0.9zM71.7,50.1h0.9v0.9h-0.9zM75.6,55.2h0.9v0.9h-0.9zM80.8,50.2h0.9v0.9h-0.9zM64.8,50.9h0.9v0.9h-0.9zM78.2,54.4h0.9v0.9h-0.9zM70.9,60.8h0.9v0.9h-0.9zM69.5,55.1h0.9v0.9h-0.9zM83.4,52.4h0.9v0.9h-0.9zM65.1,53.7h0.9v0.9h-0.9zM75.7,47.6h0.9v0.9h-0.9zM82.9,53.9h0.9v0.9h-0.9zM65.3,46.2h0.9v0.9h-0.9zM66.0,59.4h0.9v0.9h-0.9zM83.5,48.1h0.9v0.9h-0.9zM82.8,60.8h0.9v0.9h-0.9zM90.3,50.0h0.9v0.9h-0.9zM74.2,48.9h0.9v0.9h-0.9zM72.8,51.0h0.9v0.9h-0.9zM67.3,60.3h0.9v0.9h-0.9zM69.7,51.7h0.9v0.9h-0.9zM64.9,54.5h0.9v0.9h-0.9zM72.7,54.1h0.9v0.9h-0.9zM74.2,61.5h0.9v0.9h-0.9zM98.9,46.5h0.9v0.9h-0.9zM84.9,57.8h0.9v0.9h-0.9zM105.3,54.1h0.9v0.9h-0.9zM66.1,59.2h0.9v0.9h-0.9zM105.3,52.0h0.9v0.9h-0.9zM116.7,53.8h0.9v0.9h-0.9zM72.6,50.3h0.9v0.9h-0.9zM69.7,49.8h0.9v0.9h-0.9zM82.8,53.0h0.9v0.9h-0.9zM70.4,66.9h0.9v0.9h-0.9zM71.6,58.1h0.9v0.9h-0.9zM78.0,59.8h0.9v0.9h-0.9zM80.3,53.8h0.9v0.9h-0.9zM80.7,61.8h0.9v0.9h-0.9zM87.3,53.0h0.9v0.9h-0.9zM64.9,59.0h0.9v0.9h-0.9zM88.8,49.7h0.9v0.9h-0.9zM72.2,56.1h0.9v0.9h-0.9zM95.4,62.6h0.9v0.9h-0.9zM69.5,55.4h0.9v0.9h-0.9zM86.2,52.0h0.9v0.9h-0.9zM68.4,51.8h0.9v0.9h-0.9zM65.0,56.3h0.9v0.9h-0.9zM80.0,49.9h0.9v0.9h-0.9zM93.9,59.2h0.9v0.9h-0.9zM81.8,43.7h0.9v0.9h-0.9zM77.0,51.8h0.9v0.9h-0.9zM80.3,51.0h0.9v0.9h-0.9zM99.8,56.9h0.9v0.9h-0.9zM66.5,53.6h0.9v0.9h-0.9zM67.5,57.4h0.9v0.9h-0.9zM97.6,50.7h0.9v0.9h-0.9zM82.3,56.2h0.9v0.9h-0.9zM81.9,44.9h0.9v0.9h-0.9zM75.6,47.6h0.9v0.9h-0.9zM73.4,55.7h0.9v0.9h-0.9zM76.3,46.9h0.9v0.9h-0.9zM75.5,41.8h0.9v0.9h-0.9zM74.8,52.2h0.9v0.9h-0.9zM96.2,58.4h0.9v0.9h-0.9zM73.7,51.5h0.9v0.9h-0.9zM68.6,49.1h0.9v0.9h-0.9zM65.4,58.2h0.9v0.9h-0.9zM89.3,51.8h0.9v0.9h-0.9zM89.0,57.0h0.9v0.9h-0.9zM77.6,48.6h0.9v0.9h-0.9zM78.3,44.3h0.9v0.9h-0.9zM83.3,53.4h0.9v0.9h-0.9zM75.7,45.2h0.9v0.9h-0.9zM70.4,50.2h0.9v0.9h-0.9zM92.8,50.5h0.9v0.9h-0.9zM65.9,58.8h0.9v0.9h-0.9zM75.2,52.0h0.9v0.9h-0.9zM100.5,60.6h0.9v0.9h-0.9zM74.0,50.7h0.9v0.9h-0.9zM65.5,47.8h0.9v0.9h-0.9zM79.0,45.0h0.9v0.9h-0.9zM72.4,55.8h0.9v0.9h-0.9zM66.9,57.2h0.9v0.9h-0.9zM73.0,53.7h0.9v0.9h-0.9zM78.8,56.2h0.9v0.9h-0.9zM83.8,56.4h0.9v0.9h-0.9zM84.9,50.4h0.9v0.9h-0.9zM80.4,59.8h0.9v0.9h-0.9zM73.7,54.3h0.9v0.9h-0.9zM67.2,53.1h0.9v0.9h-0.9zM68.5,50.1h0.9v0.9h-0.9zM93.8,63.3h0.9v0.9h-0.9zM67.4,42.6h0.9v0.9h-0.9zM79.1,46.9h0.9v0.9h-0.9zM76.4,39.2h0.9v0.9h-0.9zM73.6,61.8h0.9v0.9h-0.9zM68.1,57.0h0.9v0.9h-0.9zM74.0,46.3h0.9v0.9h-0.9zM84.3,43.9h0.9v0.9h-0.9zM73.6,51.1h0.9v0.9h-0.9zM84.9,53.6h0.9v0.9h-0.9zM66.1,48.7h0.9v0.9h-0.9zM65.5,53.2h0.9v0.9h-0.9zM76.2,60.5h0.9v0.9h-0.9zM76.3,53.1h0.9v0.9h-0.9zM66.5,61.6h0.9v0.9h-0.9zM67.3,52.9h0.9v0.9h-0.9zM93.9,61.4h0.9v0.9h-0.9zM73.5,52.4h0.9v0.9h-0.9zM74.6,58.7h0.9v0.9h-0.9zM71.5,58.2h0.9v0.9h-0.9zM77.0,53.6h0.9v0.9h-0.9zM70.7,53.8h0.9v0.9h-0.9zM67.9,55.1h0.9v0.9h-0.9zM82.7,47.0h0.9v0.9h-0.9zM66.4,62.7h0.9v0.9h-0.9zM66.1,48.0h0.9v0.9h-0.9zM75.0,53.2h0.9v0.9h-0.9zM83.7,50.0h0.9v0.9h-0.9zM73.3,54.0h0.9v0.9h-0.9zM69.9,47.9h0.9v0.9h-0.9zM66.5,49.1h0.9v0.9h-0.9zM72.9,43.5h0.9v0.9h-0.9zM82.7,57.1h0.9v0.9h-0.9zM73.6,61.0h0.9v0.9h-0.9zM74.0,43.8h0.9v0.9h-0.9zM64.9,55.4h0.9v0.9h-0.9zM75.3,46.9h0.9v0.9h-0.9zM71.2,55.7h0.9v0.9h-0.9zM71.1,51.7h0.9v0.9h-0.9zM72.4,50.0h0.9v0.9h-0.9zM65.0,58.8h0.9v0.9h-0.9zM90.7,51.2h0.9v0.9h-0.9zM90.8,54.7h0.9v0.9h-0.9zM66.6,57.5h0.9v0.9h-0.9zM80.6,46.5h0.9v0.9h-0.9zM91.5,45.2h0.9v0.9h-0.9zM68.1,57.6h0.9v0.9h-0.9zM70.9,49.4h0.9v0.9h-0.9zM70.7,56.3h0.9v0.9h-0.9zM68.3,42.8h0.9v0.9h-0.9zM73.0,39.4h0.9v0.9h-0.9zM68.0,48.4h0.9v0.9h-0.9zM74.9,61.1h0.9v0.9h-0.9zM85.9,55.6h0.9v0.9h-0.9zM68.6,53.9h0.9v0.9h-0.9zM73.7,52.7h0.9v0.9h-0.9zM95.7,48.3h0.9v0.9h-0.9zM75.0,53.9h0.9v0.9h-0.9zM78.8,57.5h0.9v0.9h-0.9zM80.0,52.3h0.9v0.9h-0.9zM68.4,46.4h0.9v0.9h-0.9zM65.3,50.4h0.9v0.9h-0.9zM79.2,55.3h0.9v0.9h-0.9zM76.9,53.4h0.9v0.9h-0.9zM69.9,49.6h0.9v0.9h-0.9zM72.0,58.7h0.9v0.9h-0.9zM70.8,43.8h0.9v0.9h-0.9zM76.8,57.3h0.9v0.9h-0.9zM99.6,47.4h0.9v0.9h-0.9zM69.9,51.2h0.9v0.9h-0.9zM87.3,55.1h0.9v0.9h-0.9zM64.8,54.5h0.9v0.9h-0.9zM101.0,51.6h0.9v0.9h-0.9zM77.1,57.5h0.9v0.9h-0.9zM74.5,49.8h0.9v0.9h-0.9zM89.7,56.8h0.9v0.9h-0.9zM66.4,47.2h0.9v0.9h-0.9zM78.6,55.8h0.9v0.9h-0.9zM100.3,60.9h0.9v0.9h-0.9zM77.3,54.4h0.9v0.9h-0.9zM65.0,50.1h0.9v0.9h-0.9zM69.1,54.3h0.9v0.9h-0.9zM74.8,58.8h0.9v0.9h-0.9zM69.2,50.1h0.9v0.9h-0.9zM77.3,61.3h0.9v0.9h-0.9zM77.8,55.2h0.9v0.9h-0.9zM73.1,55.9h0.9v0.9h-0.9zM72.3,52.5h0.9v0.9h-0.9zM65.7,62.0h0.9v0.9h-0.9zM92.6,45.5h0.9v0.9h-0.9zM105.9,55.3h0.9v0.9h-0.9zM75.1,50.2h0.9v0.9h-0.9zM90.3,54.9h0.9v0.9h-0.9zM64.9,50.1h0.9v0.9h-0.9zM78.9,66.0h0.9v0.9h-0.9zM88.4,59.3h0.9v0.9h-0.9zM70.8,56.5h0.9v0.9h-0.9zM64.6,59.2h0.9v0.9h-0.9zM73.6,52.8h0.9v0.9h-0.9zM73.1,49.2h0.9v0.9h-0.9zM77.1,61.0h0.9v0.9h-0.9zM70.0,56.0h0.9v0.9h-0.9zM91.5,58.0h0.9v0.9h-0.9zM78.5,47.5h0.9v0.9h-0.9zM92.8,53.6h0.9v0.9h-0.9zM92.6,45.7h0.9v0.9h-0.9zM78.4,51.5h0.9v0.9h-0.9zM82.2,44.7h0.9v0.9h-0.9zM65.6,58.2h0.9v0.9h-0.9zM75.2,56.6h0.9v0.9h-0.9zM69.9,54.8h0.9v0.9h-0.9zM69.3,64.9h0.9v0.9h-0.9zM84.4,57.2h0.9v0.9h-0.9zM85.7,47.0h0.9v0.9h-0.9zM65.3,65.3h0.9v0.9h-0.9zM81.3,37.2h0.9v0.9h-0.9zM67.9,43.9h0.9v0.9h-0.9zM69.0,49.1h0.9v0.9h-0.9zM73.3,48.5h0.9v0.9h-0.9zM68.9,50.5h0.9v0.9h-0.9zM78.9,51.8h0.9v0.9h-0.9zM70.7,48.4h0.9v0.9h-0.9zM82.3,44.1h0.9v0.9h-0.9zM70.7,50.9h0.9v0.9h-0.9zM90.0,49.6h0.9v0.9h-0.9zM75.0,45.8h0.9v0.9h-0.9zM96.8,56.3h0.9v0.9h-0.9zM81.9,51.2h0.9v0.9h-0.9zM79.8,61.1h0.9v0.9h-0.9zM70.9,42.1h0.9v0.9h-0.9zM67.5,57.9h0.9v0.9h-0.9zM64.0,55.5h0.9v0.9h-0.9zM65.8,54.1h0.9v0.9h-0.9zM67.5,49.2h0.9v0.9h-0.9zM69.7,53.9h0.9v0.9h-0.9zM64.6,49.3h0.9v0.9h-0.9zM80.7,54.3h0.9v0.9h-0.9zM77.6,40.1h0.9v0.9h-0.9zM72.8,60.2h0.9v0.9h-0.9zM79.1,49.2h0.9v0.9h-0.9zM86.3,47.7h0.9v0.9h-0.9zM77.0,63.4h0.9v0.9h-0.9zM71.2,51.8h0.9v0.9h-0.9zM91.3,47.6h0.9v0.9h-0.9zM83.4,52.3h0.9v0.9h-0.9zM94.3,58.7h0.9v0.9h-0.9zM69.9,49.8h0.9v0.9h-0.9zM74.5,57.0h0.9v0.9h-0.9zM89.4,50.8h0.9v0.9h-0.9zM90.7,61.6h0.9v0.9h-0.9zM86.2,54.6h0.9v0.9h-0.9zM88.6,56.6h0.9v0.9h-0.9zM70.8,54.0h0.9v0.9h-0.9zM95.2,51.5h0.9v0.9h-0.9zM67.9,48.0h0.9v0.9h-0.9zM68.9,62.0h0.9v0.9h-0.9zM67.8,49.3h0.9v0.9h-0.9zM103.4,41.5h0.9v0.9h-0.9zM79.2,55.2h0.9v0.9h-0.9zM73.8,40.7h0.9v0.9h-0.9zM68.3,57.4h0.9v0.9h-0.9zM77.1,60.8h0.9v0.9h-0.9zM72.3,59.4h0.9v0.9h-0.9zM89.3,53.0h0.9v0.9h-0.9zM90.5,63.8h0.9v0.9h-0.9zM85.8,53.0h0.9v0.9h-0.9zM67.0,49.6h0.9v0.9h-0.9zM82.2,49.3h0.9v0.9h-0.9zM66.0,41.9h0.9v0.9h-0.9zM88.9,62.5h0.9v0.9h-0.9zM65.0,54.2h0.9v0.9h-0.9zM100.4,52.8h0.9v0.9h-0.9zM98.3,45.0h0.9v0.9h-0.9zM103.4,52.1h0.9v0.9h-0.9zM72.8,51.9h0.9v0.9h-0.9zM84.8,45.7h0.9v0.9h-0.9zM84.5,56.4h0.9v0.9h-0.9zM64.8,57.4h0.9v0.9h-0.9zM81.9,56.2h0.9v0.9h-0.9zM71.3,53.5h0.9v0.9h-0.9zM79.5,53.2h0.9v0.9h-0.9zM69.8,44.1h0.9v0.9h-0.9zM65.1,57.2h0.9v0.9h-0.9zM74.5,52.6h0.9v0.9h-0.9zM93.4,45.8h0.9v0.9h-0.9zM70.7,60.0h0.9v0.9h-0.9zM69.2,44.0h0.9v0.9h-0.9zM70.3,44.6h0.9v0.9h-0.9zM68.6,63.4h0.9v0.9h-0.9zM69.0,52.2h0.9v0.9h-0.9zM81.3,51.0h0.9v0.9h-0.9zM69.5,54.1h0.9v0.9h-0.9zM71.4,45.1h0.9v0.9h-0.9zM75.8,57.8h0.9v0.9h-0.9zM102.0,38.4h0.9v0.9h-0.9zM78.9,61.0h0.9v0.9h-0.9zM64.3,56.7h0.9v0.9h-0.9zM73.2,57.8h0.9v0.9h-0.9zM74.6,49.8h0.9v0.9h-0.9zM70.3,56.3h0.9v0.9h-0.9zM73.6,54.8h0.9v0.9h-0.9zM72.1,59.0h0.9v0.9h-0.9zM71.9,58.7h0.9v0.9h-0.9zM106.5,58.5h0.9v0.9h-0.9zM104.8,54.1h0.9v0.9h-0.9zM75.1,53.7h0.9v0.9h-0.9zM72.0,51.3h0.9v0.9h-0.9zM67.2,54.9h0.9v0.9h-0.9zM77.4,39.3h0.9v0.9h-0.9zM77.1,55.9h0.9v0.9h-0.9zM78.1,55.3h0.9v0.9h-0.9zM70.2,47.9h0.9v0.9h-0.9zM83.6,62.0h0.9v0.9h-0.9zM65.7,52.7h0.9v0.9h-0.9zM80.1,45.8h0.9v0.9h-0.9zM78.6,59.1h0.9v0.9h-0.9zM79.1,50.3h0.9v0.9h-0.9zM77.0,54.9h0.9v0.9h-0.9zM87.6,50.3h0.9v0.9h-0.9zM67.9,39.6h0.9v0.9h-0.9zM73.9,57.2h0.9v0.9h-0.9zM81.9,45.2h0.9v0.9h-0.9zM85.6,48.6h0.9v0.9h-0.9zM85.9,64.2h0.9v0.9h-0.9zM80.4,51.3h0.9v0.9h-0.9zM67.5,55.5h0.9v0.9h-0.9zM88.4,47.1h0.9v0.9h-0.9zM78.8,53.8h0.9v0.9h-0.9zM83.7,53.8h0.9v0.9h-0.9zM87.6,61.8h0.9v0.9h-0.9zM76.3,58.5h0.9v0.9h-0.9zM85.9,49.6h0.9v0.9h-0.9zM79.1,53.7h0.9v0.9h-0.9zM81.7,57.9h0.9v0.9h-0.9zM67.0,48.8h0.9v0.9h-0.9zM75.6,57.0h0.9v0.9h-0.9zM88.5,62.2h0.9v0.9h-0.9zM77.3,51.9h0.9v0.9h-0.9zM79.6,61.9h0.9v0.9h-0.9zM77.9,60.1h0.9v0.9h-0.9zM75.0,53.5h0.9v0.9h-0.9zM92.6,56.6h0.9v0.9h-0.9zM71.4,56.2h0.9v0.9h-0.9zM76.4,54.5h0.9v0.9h-0.9zM66.8,44.3h0.9v0.9h-0.9zM98.8,45.9h0.9v0.9h-0.9zM100.4,49.1h0.9v0.9h-0.9zM96.7,59.7h0.9v0.9h-0.9zM74.2,54.5h0.9v0.9h-0.9zM64.4,42.1h0.9v0.9h-0.9zM69.7,54.6h0.9v0.9h-0.9zM83.9,46.4h0.9v0.9h-0.9zM102.2,44.4h0.9v0.9h-0.9zM69.6,53.4h0.9v0.9h-0.9zM66.5,53.8h0.9v0.9h-0.9zM70.2,45.5h0.9v0.9h-0.9zM71.7,55.1h0.9v0.9h-0.9zM73.8,59.8h0.9v0.9h-0.9zM85.0,40.2h0.9v0.9h-0.9zM94.3,64.7h0.9v0.9h-0.9zM79.5,55.2h0.9v0.9h-0.9zM64.3,57.0h0.9v0.9h-0.9zM118.5,50.2h0.9v0.9h-0.9zM66.9,49.7h0.9v0.9h-0.9zM68.2,55.9h0.9v0.9h-0.9zM80.5,60.2h0.9v0.9h-0.9zM83.5,55.4h0.9v0.9h-0.9zM65.9,51.7h0.9v0.9h-0.9zM91.9,56.6h0.9v0.9h-0.9zM80.6,50.2h0.9v0.9h-0.9zM80.9,47.9h0.9v0.9h-0.9zM72.9,57.7h0.9v0.9h-0.9zM95.6,49.2h0.9v0.9h-0.9zM82.8,49.4h0.9v0.9h-0.9zM70.6,55.7h0.9v0.9h-0.9zM83.4,58.6h0.9v0.9h-0.9zM94.6,53.3h0.9v0.9h-0.9zM68.6,46.6h0.9v0.9h-0.9zM94.4,53.3h0.9v0.9h-0.9zM85.7,57.2h0.9v0.9h-0.9zM88.8,49.2h0.9v0.9h-0.9zM100.2,60.6h0.9v0.9h-0.9zM101.6,49.5h0.9v0.9h-0.9zM75.1,49.8h0.9v0.9h-0.9zM73.6,56.0h0.9v0.9h-0.9zM88.8,47.5h0.9v0.9h-0.9zM71.5,43.1h0.9v0.9h-0.9zM89.9,52.5h0.9v0.9h-0.9zM75.9,61.4h0.9v0.9h-0.9zM65.8,60.5h0.9v0.9h-0.9zM82.3,62.1h0.9v0.9h-0.9zM77.6,53.3h0.9v0.9h-0.9zM70.3,51.9h0.9v0.9h-0.9zM89.9,49.1h0.9v0.9h-0.9zM81.0,60.5h0.9v0.9h-0.9zM97.2,47.7h0.9v0.9h-0.9zM79.4,50.0h0.9v0.9h-0.9zM70.6,52.0h0.9v0.9h-0.9zM65.3,50.5h0.9v0.9h-0.9zM65.4,55.7h0.9v0.9h-0.9zM76.7,48.7h0.9v0.9h-0.9zM65.9,48.8h0.9v0.9h-0.9zM67.0,45.1h0.9v0.9h-0.9zM80.2,56.7h0.9v0.9h-0.9zM66.1,49.2h0.9v0.9h-0.9zM71.8,49.3h0.9v0.9h-0.9zM90.2,62.0h0.9v0.9h-0.9zM119.9,46.2h0.9v0.9h-0.9zM83.8,56.2h0.9v0.9h-0.9zM74.3,44.3h0.9v0.9h-0.9zM96.7,56.0h0.9v0.9h-0.9zM97.9,60.8h0.9v0.9h-0.9zM72.4,53.5h0.9v0.9h-0.9zM64.1,49.9h0.9v0.9h-0.9zM66.4,51.4h0.9v0.9h-0.9zM85.2,52.5h0.9v0.9h-0.9zM64.5,50.1h0.9v0.9h-0.9zM74.8,48.9h0.9v0.9h-0.9zM64.2,63.1h0.9v0.9h-0.9zM83.0,54.3h0.9v0.9h-0.9zM92.4,58.6h0.9v0.9h-0.9zM67.5,52.1h0.9v0.9h-0.9zM82.7,54.4h0.9v0.9h-0.9zM69.4,44.3h0.9v0.9h-0.9zM85.8,63.6h0.9v0.9h-0.9zM67.6,55.7h0.9v0.9h-0.9zM67.4,50.4h0.9v0.9h-0.9zM71.8,59.0h0.9v0.9h-0.9zM69.2,55.8h0.9v0.9h-0.9zM81.4,50.3h0.9v0.9h-0.9zM66.9,48.9h0.9v0.9h-0.9zM74.3,51.0h0.9v0.9h-0.9zM83.5,48.8h0.9v0.9h-0.9zM92.7,51.3h0.9v0.9h-0.9zM78.3,48.0h0.9v0.9h-0.9zM75.3,48.3h0.9v0.9h-0.9zM94.7,60.1h0.9v0.9h-0.9zM72.8,45.2h0.9v0.9h-0.9zM64.4,49.0h0.9v0.9h-0.9zM94.8,55.3h0.9v0.9h-0.9zM101.4,50.1h0.9v0.9h-0.9zM77.8,60.1h0.9v0.9h-0.9zM80.3,51.1h0.9v0.9h-0.9zM68.6,55.6h0.9v0.9h-0.9zM83.5,54.2h0.9v0.9h-0.9zM65.8,58.2h0.9v0.9h-0.9zM91.2,49.9h0.9v0.9h-0.9zM72.6,51.3h0.9v0.9h-0.9zM76.3,49.5h0.9v0.9h-0.9zM110.5,49.1h0.9v0.9h-0.9zM78.3,58.6h0.9v0.9h-0.9zM80.4,51.9h0.9v0.9h-0.9zM78.1,51.6h0.9v0.9h-0.9zM75.3,53.7h0.9v0.9h-0.9zM73.9,56.2h0.9v0.9h-0.9zM79.0,47.9h0.9v0.9h-0.9zM88.5,50.3h0.9v0.9h-0.9zM90.9,63.2h0.9v0.9h-0.9zM78.2,47.9h0.9v0.9h-0.9zM80.4,46.8h0.9v0.9h-0.9zM78.8,58.8h0.9v0.9h-0.9zM77.9,66.8h0.9v0.9h-0.9zM65.7,67.8h0.9v0.9h-0.9zM66.2,53.3h0.9v0.9h-0.9zM74.9,51.8h0.9v0.9h-0.9zM72.5,52.9h0.9v0.9h-0.9zM77.1,46.0h0.9v0.9h-0.9zM79.6,41.5h0.9v0.9h-0.9zM89.6,52.6h0.9v0.9h-0.9zM64.2,52.7h0.9v0.9h-0.9zM81.1,54.8h0.9v0.9h-0.9zM78.5,52.1h0.9v0.9h-0.9zM66.1,52.7h0.9v0.9h-0.9zM95.7,59.0h0.9v0.9h-0.9zM90.8,47.5h0.9v0.9h-0.9zM75.4,53.3h0.9v0.9h-0.9zM77.8,62.4h0.9v0.9h-0.9zM95.7,60.6h0.9v0.9h-0.9zM67.8,64.3h0.9v0.9h-0.9zM79.0,52.5h0.9v0.9h-0.9zM80.9,51.8h0.9v0.9h-0.9zM66.1,51.1h0.9v0.9h-0.9zM87.2,39.4h0.9v0.9h-0.9zM85.6,58.8h0.9v0.9h-0.9zM65.2,56.1h0.9v0.9h-0.9zM80.5,59.1h0.9v0.9h-0.9zM116.0,47.9h0.9v0.9h-0.9zM87.7,52.7h0.9v0.9h-0.9zM69.7,50.3h0.9v0.9h-0.9zM67.2,46.1h0.9v0.9h-0.9zM87.1,62.1h0.9v0.9h-0.9zM64.3,56.0h0.9v0.9h-0.9zM69.3,55.6h0.9v0.9h-0.9zM89.9,47.8h0.9v0.9h-0.9zM74.8,58.5h0.9v0.9h-0.9zM83.5,49.8h0.9v0.9h-0.9zM82.2,56.6h0.9v0.9h-0.9zM69.9,53.2h0.9v0.9h-0.9zM75.0,54.9h0.9v0.9h-0.9zM64.5,48.9h0.9v0.9h-0.9zM69.7,49.3h0.9v0.9h-0.9zM80.2,56.4h0.9v0.9h-0.9zM75.7,56.2h0.9v0.9h-0.9zM65.1,49.1h0.9v0.9h-0.9zM79.5,43.9h0.9v0.9h-0.9zM83.2,54.9h0.9v0.9h-0.9zM84.5,49.5h0.9v0.9h-0.9zM66.7,54.9h0.9v0.9h-0.9zM77.3,55.4h0.9v0.9h-0.9zM84.9,57.2h0.9v0.9h-0.9zM77.0,55.2h0.9v0.9h-0.9zM103.8,52.0h0.9v0.9h-0.9zM64.3,56.2h0.9v0.9h-0.9zM69.1,57.6h0.9v0.9h-0.9zM86.5,48.4h0.9v0.9h-0.9zM73.2,54.4h0.9v0.9h-0.9zM72.3,53.8h0.9v0.9h-0.9zM78.1,46.5h0.9v0.9h-0.9zM77.2,59.4h0.9v0.9h-0.9zM82.9,55.3h0.9v0.9h-0.9zM68.0,55.2h0.9v0.9h-0.9zM65.3,44.3h0.9v0.9h-0.9zM74.3,52.8h0.9v0.9h-0.9zM72.8,47.9h0.9v0.9h-0.9zM67.9,51.0h0.9v0.9h-0.9zM65.2,52.7h0.9v0.9h-0.9zM66.9,58.5h0.9v0.9h-0.9zM66.3,55.2h0.9v0.9h-0.9zM84.8,36.8h0.9v0.9h-0.9zM70.8,56.7h0.9v0.9h-0.9zM69.8,49.6h0.9v0.9h-0.9zM85.1,57.9h0.9v0.9h-0.9zM73.0,54.3h0.9v0.9h-0.9zM83.2,55.9h0.9v0.9h-0.9zM102.1,52.3h0.9v0.9h-0.9zM80.3,56.8h0.9v0.9h-0.9zM75.1,53.3h0.9v0.9h-0.9zM73.6,47.4h0.9v0.9h-0.9zM69.1,48.7h0.9v0.9h-0.9zM92.6,48.9h0.9v0.9h-0.9zM73.3,53.5h0.9v0.9h-0.9zM72.8,53.3h0.9v0.9h-0.9zM74.3,45.2h0.9v0.9h-0.9zM105.0,45.9h0.9v0.9h-0.9zM89.9,55.4h0.9v0.9h-0.9zM66.6,50.4h0.9v0.9h-0.9zM66.5,54.6h0.9v0.9h-0.9zM87.6,48.6h0.9v0.9h-0.9zM79.1,59.9h0.9v0.9h-0.9zM82.0,59.4h0.9v0.9h-0.9zM71.9,68.0h0.9v0.9h-0.9zM65.3,53.2h0.9v0.9h-0.9zM87.0,57.8h0.9v0.9h-0.9zM80.0,47.1h0.9v0.9h-0.9zM83.3,62.2h0.9v0.9h-0.9zM65.7,50.3h0.9v0.9h-0.9zM82.6,58.6h0.9v0.9h-0.9zM69.0,53.0h0.9v0.9h-0.9zM85.0,61.9h0.9v0.9h-0.9zM78.9,52.9h0.9v0.9h-0.9zM89.1,47.8h0.9v0.9h-0.9zM79.0,47.5h0.9v0.9h-0.9zM88.0,51.5h0.9v0.9h-0.9zM84.8,50.7h0.9v0.9h-0.9zM70.8,59.3h0.9v0.9h-0.9zM79.3,53.5h0.9v0.9h-0.9zM78.3,57.7h0.9v0.9h-0.9zM74.3,50.9h0.9v0.9h-0.9zM67.4,59.4h0.9v0.9h-0.9zM81.7,52.9h0.9v0.9h-0.9zM69.6,50.0h0.9v0.9h-0.9zM77.4,52.1h0.9v0.9h-0.9zM67.3,44.5h0.9v0.9h-0.9zM68.0,46.5h0.9v0.9h-0.9zM64.3,65.5h0.9v0.9h-0.9zM80.4,52.6h0.9v0.9h-0.9zM68.3,58.4h0.9v0.9h-0.9zM72.1,43.2h0.9v0.9h-0.9zM91.4,54.0h0.9v0.9h-0.9zM68.3,58.9h0.9v0.9h-0.9zM73.1,56.7h0.9v0.9h-0.9zM82.1,60.1h0.9v0.9h-0.9zM65.2,49.3h0.9v0.9h-0.9zM67.0,62.6h0.9v0.9h-0.9zM78.4,46.2h0.9v0.9h-0.9zM81.3,46.6h0.9v0.9h-0.9zM64.9,54.9h0.9v0.9h-0.9zM66.8,54.1h0.9v0.9h-0.9zM84.1,51.4h0.9v0.9h-0.9zM85.3,40.4h0.9v0.9h-0.9zM68.1,49.3h0.9v0.9h-0.9zM68.2,55.3h0.9v0.9h-0.9zM71.9,44.4h0.9v0.9h-0.9zM80.3,53.4h0.9v0.9h-0.9zM66.4,59.3h0.9v0.9h-0.9zM72.5,41.6h0.9v0.9h-0.9zM83.9,44.0h0.9v0.9h-0.9zM80.5,55.1h0.9v0.9h-0.9zM82.0,66.7h0.9v0.9h-0.9zM68.1,55.9h0.9v0.9h-0.9zM71.4,65.2h0.9v0.9h-0.9zM73.2,49.1h0.9v0.9h-0.9zM85.3,43.7h0.9v0.9h-0.9zM74.0,54.6h0.9v0.9h-0.9zM66.3,47.7h0.9v0.9h-0.9zM90.9,61.1h0.9v0.9h-0.9zM79.9,55.1h0.9v0.9h-0.9zM74.8,50.6h0.9v0.9h-0.9zM80.8,53.7h0.9v0.9h-0.9zM65.8,53.6h0.9v0.9h-0.9zM83.9,59.7h0.9v0.9h-0.9zM76.8,60.2h0.9v0.9h-0.9zM71.8,50.5h0.9v0.9h-0.9zM89.3,54.1h0.9v0.9h-0.9zM74.9,50.1h0.9v0.9h-0.9zM74.3,63.3h0.9v0.9h-0.9zM74.4,50.8h0.9v0.9h-0.9zM83.1,49.3h0.9v0.9h-0.9zM66.0,54.3h0.9v0.9h-0.9zM75.1,60.0h0.9v0.9h-0.9zM80.3,49.1h0.9v0.9h-0.9zM72.5,55.6h0.9v0.9h-0.9zM70.6,58.3h0.9v0.9h-0.9zM87.9,62.0h0.9v0.9h-0.9zM101.2,63.7h0.9v0.9h-0.9zM66.0,63.8h0.9v0.9h-0.9zM64.9,60.3h0.9v0.9h-0.9zM67.4,54.1h0.9v0.9h-0.9zM72.9,43.4h0.9v0.9h-0.9zM67.5,62.4h0.9v0.9h-0.9zM113.7,55.1h0.9v0.9h-0.9zM79.7,54.8h0.9v0.9h-0.9zM67.3,60.6h0.9v0.9h-0.9zM69.7,42.6h0.9v0.9h-0.9zM80.1,51.4h0.9v0.9h-0.9zM66.5,50.5h0.9v0.9h-0.9zM65.8,62.2h0.9v0.9h-0.9zM113.8,59.3h0.9v0.9h-0.9zM79.9,56.3h0.9v0.9h-0.9zM64.3,53.4h0.9v0.9h-0.9zM70.2,54.3h0.9v0.9h-0.9zM76.3,57.3h0.9v0.9h-0.9zM78.0,52.8h0.9v0.9h-0.9zM70.1,46.7h0.9v0.9h-0.9zM74.3,52.6h0.9v0.9h-0.9zM83.8,52.6h0.9v0.9h-0.9zM87.4,60.9h0.9v0.9h-0.9zM72.8,63.9h0.9v0.9h-0.9zM73.6,56.9h0.9v0.9h-0.9zM80.4,48.3h0.9v0.9h-0.9zM65.5,55.3h0.9v0.9h-0.9zM79.7,51.5h0.9v0.9h-0.9zM82.7,58.3h0.9v0.9h-0.9zM78.8,52.0h0.9v0.9h-0.9zM79.5,62.4h0.9v0.9h-0.9zM73.3,57.9h0.9v0.9h-0.9zM79.5,51.6h0.9v0.9h-0.9zM72.3,54.9h0.9v0.9h-0.9zM77.1,46.1h0.9v0.9h-0.9zM80.4,54.9h0.9v0.9h-0.9zM67.3,62.7h0.9v0.9h-0.9zM95.0,55.8h0.9v0.9h-0.9zM83.5,59.3h0.9v0.9h-0.9zM75.8,53.7h0.9v0.9h-0.9zM89.0,51.0h0.9v0.9h-0.9zM73.0,47.2h0.9v0.9h-0.9zM75.1,53.6h0.9v0.9h-0.9zM75.4,60.0h0.9v0.9h-0.9zM68.5,49.0h0.9v0.9h-0.9zM69.7,50.7h0.9v0.9h-0.9zM71.9,50.8h0.9v0.9h-0.9zM78.7,52.7h0.9v0.9h-0.9zM72.7,52.1h0.9v0.9h-0.9zM87.4,53.8h0.9v0.9h-0.9zM73.7,56.5h0.9v0.9h-0.9zM73.3,46.8h0.9v0.9h-0.9zM86.0,46.6h0.9v0.9h-0.9zM74.9,51.3h0.9v0.9h-0.9zM93.9,56.7h0.9v0.9h-0.9zM90.0,49.3h0.9v0.9h-0.9zM76.2,57.5h0.9v0.9h-0.9zM95.0,51.1h0.9v0.9h-0.9zM68.6,50.9h0.9v0.9h-0.9zM67.4,52.1h0.9v0.9h-0.9zM105.6,47.1h0.9v0.9h-0.9zM65.8,48.7h0.9v0.9h-0.9zM70.0,50.2h0.9v0.9h-0.9zM73.7,47.1h0.9v0.9h-0.9zM99.6,54.1h0.9v0.9h-0.9zM93.8,56.8h0.9v0.9h-0.9zM71.9,46.7h0.9v0.9h-0.9zM71.4,50.2h0.9v0.9h-0.9zM76.4,50.0h0.9v0.9h-0.9zM79.2,53.8h0.9v0.9h-0.9zM70.0,53.9h0.9v0.9h-0.9zM70.1,51.0h0.9v0.9h-0.9zM71.6,56.9h0.9v0.9h-0.9zM70.9,65.2h0.9v0.9h-0.9zM92.5,46.8h0.9v0.9h-0.9zM82.3,52.6h0.9v0.9h-0.9zM67.9,48.7h0.9v0.9h-0.9zM91.8,48.5h0.9v0.9h-0.9zM65.4,49.1h0.9v0.9h-0.9zM96.5,59.8h0.9v0.9h-0.9zM86.2,50.6h0.9v0.9h-0.9zM70.1,50.7h0.9v0.9h-0.9zM69.9,47.2h0.9v0.9h-0.9zM68.2,47.1h0.9v0.9h-0.9zM78.0,66.0h0.9v0.9h-0.9zM69.5,61.9h0.9v0.9h-0.9zM70.3,49.4h0.9v0.9h-0.9zM69.8,47.8h0.9v0.9h-0.9zM65.9,56.8h0.9v0.9h-0.9zM79.6,51.5h0.9v0.9h-0.9zM84.0,52.6h0.9v0.9h-0.9zM92.1,54.5h0.9v0.9h-0.9zM65.1,41.8h0.9v0.9h-0.9zM71.3,56.0h0.9v0.9h-0.9zM79.9,60.3h0.9v0.9h-0.9zM73.5,48.3h0.9v0.9h-0.9zM73.7,52.5h0.9v0.9h-0.9zM80.7,50.0h0.9v0.9h-0.9zM93.9,52.6h0.9v0.9h-0.9zM72.8,61.3h0.9v0.9h-0.9zM82.8,61.0h0.9v0.9h-0.9zM75.3,55.5h0.9v0.9h-0.9zM76.8,48.2h0.9v0.9h-0.9zM80.0,58.1h0.9v0.9h-0.9zM67.7,58.8h0.9v0.9h-0.9zM94.4,53.1h0.9v0.9h-0.9zM64.8,63.4h0.9v0.9h-0.9zM85.8,50.6h0.9v0.9h-0.9zM70.2,51.0h0.9v0.9h-0.9zM66.4,48.5h0.9v0.9h-0.9zM83.4,45.7h0.9v0.9h-0.9zM77.6,43.9h0.9v0.9h-0.9zM87.4,56.2h0.9v0.9h-0.9zM74.5,52.0h0.9v0.9h-0.9zM78.1,56.4h0.9v0.9h-0.9zM73.6,52.8h0.9v0.9h-0.9zM70.1,63.9h0.9v0.9h-0.9zM71.4,55.0h0.9v0.9h-0.9zM73.1,59.6h0.9v0.9h-0.9zM71.1,58.8h0.9v0.9h-0.9zM81.8,51.6h0.9v0.9h-0.9zM96.4,52.8h0.9v0.9h-0.9zM103.0,54.3h0.9v0.9h-0.9zM65.5,54.5h0.9v0.9h-0.9zM66.4,45.9h0.9v0.9h-0.9zM75.6,52.1h0.9v0.9h-0.9zM66.8,48.4h0.9v0.9h-0.9zM65.8,49.1h0.9v0.9h-0.9zM86.0,49.5h0.9v0.9h-0.9zM77.5,57.5h0.9v0.9h-0.9zM86.4,56.1h0.9v0.9h-0.9zM67.5,50.0h0.9v0.9h-0.9zM90.2,50.2h0.9v0.9h-0.9zM90.1,59.2h0.9v0.9h-0.9zM67.8,51.7h0.9v0.9h-0.9zM64.1,55.3h0.9v0.9h-0.9zM64.1,55.3h0.9v0.9h-0.9zM76.9,53.3h0.9v0.9h-0.9zM69.9,58.8h0.9v0.9h-0.9zM84.7,60.0h0.9v0.9h-0.9zM65.4,50.3h0.9v0.9h-0.9zM64.4,53.7h0.9v0.9h-0.9zM67.9,55.3h0.9v0.9h-0.9zM73.6,43.9h0.9v0.9h-0.9zM75.6,52.9h0.9v0.9h-0.9zM91.8,55.1h0.9v0.9h-0.9zM97.4,59.7h0.9v0.9h-0.9zM75.5,56.0h0.9v0.9h-0.9zM101.1,58.9h0.9v0.9h-0.9zM82.3,52.5h0.9v0.9h-0.9zM90.8,56.6h0.9v0.9h-0.9zM73.4,47.5h0.9v0.9h-0.9zM71.6,58.1h0.9v0.9h-0.9zM77.5,49.4h0.9v0.9h-0.9zM75.6,47.0h0.9v0.9h-0.9zM85.6,54.7h0.9v0.9h-0.9zM64.7,60.0h0.9v0.9h-0.9zM68.6,51.3h0.9v0.9h-0.9zM87.8,61.3h0.9v0.9h-0.9zM66.8,52.9h0.9v0.9h-0.9zM80.8,47.4h0.9v0.9h-0.9zM74.6,47.8h0.9v0.9h-0.9zM73.8,56.4h0.9v0.9h-0.9zM70.4,44.4h0.9v0.9h-0.9zM70.9,60.6h0.9v0.9h-0.9zM77.8,46.3h0.9v0.9h-0.9zM82.2,53.8h0.9v0.9h-0.9zM74.4,59.6h0.9v0.9h-0.9zM68.6,55.5h0.9v0.9h-0.9zM70.7,49.0h0.9v0.9h-0.9zM67.7,48.5h0.9v0.9h-0.9zM93.6,50.2h0.9v0.9h-0.9zM84.6,58.9h0.9v0.9h-0.9zM100.3,58.4h0.9v0.9h-0.9zM90.9,54.4h0.9v0.9h-0.9zM71.3,55.5h0.9v0.9h-0.9zM79.8,57.0h0.9v0.9h-0.9zM71.5,54.4h0.9v0.9h-0.9zM78.2,52.3h0.9v0.9h-0.9zM80.4,51.9h0.9v0.9h-0.9zM75.2,54.6h0.9v0.9h-0.9zM78.7,52.1h0.9v0.9h-0.9zM83.5,44.7h0.9v0.9h-0.9zM86.3,58.7h0.9v0.9h-0.9zM65.5,55.6h0.9v0.9h-0.9zM81.9,54.6h0.9v0.9h-0.9zM72.0,50.4h0.9v0.9h-0.9zM90.8,56.4h0.9v0.9h-0.9zM65.6,56.1h0.9v0.9h-0.9zM81.8,52.3h0.9v0.9h-0.9zM97.6,48.6h0.9v0.9h-0.9zM65.6,60.0h0.9v0.9h-0.9zM67.9,53.7h0.9v0.9h-0.9zM99.5,57.2h0.9v0.9h-0.9zM71.4,59.9h0.9v0.9h-0.9zM65.5,51.1h0.9v0.9h-0.9zM71.3,51.8h0.9v0.9h-0.9zM72.6,61.3h0.9v0.9h-0.9zM80.4,53.6h0.9v0.9h-0.9zM77.5,57.4h0.9v0.9h-0.9zM73.7,53.3h0.9v0.9h-0.9zM65.2,55.2h0.9v0.9h-0.9zM73.4,54.9h0.9v0.9h-0.9zM73.2,52.7h0.9v0.9h-0.9zM71.6,47.8h0.9v0.9h-0.9zM64.1,57.1h0.9v0.9h-0.9zM66.8,51.6h0.9v0.9h-0.9zM64.4,50.5h0.9v0.9h-0.9zM80.4,51.1h0.9v0.9h-0.9zM91.7,46.7h0.9v0.9h-0.9zM69.0,54.2h0.9v0.9h-0.9zM71.9,46.1h0.9v0.9h-0.9zM66.5,48.6h0.9v0.9h-0.9zM74.9,53.1h0.9v0.9h-0.9zM76.8,54.7h0.9v0.9h-0.9zM76.3,50.6h0.9v0.9h-0.9zM67.8,60.8h0.9v0.9h-0.9zM90.2,58.1h0.9v0.9h-0.9zM76.3,53.1h0.9v0.9h-0.9zM79.2,57.3h0.9v0.9h-0.9zM91.1,52.8h0.9v0.9h-0.9zM76.3,57.0h0.9v0.9h-0.9zM74.6,50.3h0.9v0.9h-0.9zM99.7,51.6h0.9v0.9h-0.9zM104.6,52.2h0.9v0.9h-0.9zM65.4,63.1h0.9v0.9h-0.9zM72.8,50.6h0.9v0.9h-0.9zM88.6,52.9h0.9v0.9h-0.9zM72.0,46.5h0.9v0.9h-0.9zM93.8,58.3h0.9v0.9h-0.9zM69.9,56.8h0.9v0.9h-0.9zM72.3,50.6h0.9v0.9h-0.9zM90.1,55.0h0.9v0.9h-0.9zM84.6,57.6h0.9v0.9h-0.9zM79.3,56.8h0.9v0.9h-0.9zM79.3,46.2h0.9v0.9h-0.9zM74.7,54.0h0.9v0.9h-0.9zM80.4,51.6h0.9v0.9h-0.9zM78.7,55.4h0.9v0.9h-0.9zM73.3,44.5h0.9v0.9h-0.9zM74.1,48.5h0.9v0.9h-0.9zM82.5,50.2h0.9v0.9h-0.9zM79.8,65.4h0.9v0.9h-0.9zM92.8,50.9h0.9v0.9h-0.9zM83.0,52.7h0.9v0.9h-0.9zM70.7,49.5h0.9v0.9h-0.9zM65.2,44.3h0.9v0.9h-0.9zM93.8,49.1h0.9v0.9h-0.9zM73.7,50.0h0.9v0.9h-0.9zM68.5,46.9h0.9v0.9h-0.9zM70.2,57.9h0.9v0.9h-0.9zM73.9,42.9h0.9v0.9h-0.9zM78.2,46.2h0.9v0.9h-0.9zM68.7,55.8h0.9v0.9h-0.9zM74.7,51.4h0.9v0.9h-0.9zM68.1,55.2h0.9v0.9h-0.9zM79.2,60.2h0.9v0.9h-0.9zM69.4,63.5h0.9v0.9h-0.9zM79.8,62.4h0.9v0.9h-0.9zM68.4,57.1h0.9v0.9h-0.9zM66.1,53.5h0.9v0.9h-0.9zM79.3,55.1h0.9v0.9h-0.9zM97.7,53.9h0.9v0.9h-0.9zM64.4,53.1h0.9v0.9h-0.9zM75.9,52.0h0.9v0.9h-0.9zM64.1,54.2h0.9v0.9h-0.9zM85.7,58.1h0.9v0.9h-0.9zM81.5,49.8h0.9v0.9h-0.9zM64.3,57.5h0.9v0.9h-0.9zM80.1,52.0h0.9v0.9h-0.9zM99.4,52.2h0.9v0.9h-0.9zM87.4,60.5h0.9v0.9h-0.9zM90.6,54.1h0.9v0.9h-0.9zM73.6,45.1h0.9v0.9h-0.9zM93.6,49.9h0.9v0.9h-0.9zM76.0,58.7h0.9v0.9h-0.9zM65.7,58.5h0.9v0.9h-0.9zM73.6,61.1h0.9v0.9h-0.9zM90.5,48.8h0.9v0.9h-0.9zM79.9,47.6h0.9v0.9h-0.9zM91.4,48.3h0.9v0.9h-0.9zM77.8,51.0h0.9v0.9h-0.9zM78.7,50.7h0.9v0.9h-0.9zM76.3,56.0h0.9v0.9h-0.9zM74.6,40.7h0.9v0.9h-0.9zM79.3,46.6h0.9v0.9h-0.9zM91.2,49.3h0.9v0.9h-0.9zM81.8,55.1h0.9v0.9h-0.9zM64.9,48.2h0.9v0.9h-0.9zM82.2,57.9h0.9v0.9h-0.9zM68.7,49.1h0.9v0.9h-0.9zM78.5,42.4h0.9v0.9h-0.9zM70.4,55.1h0.9v0.9h-0.9zM79.3,53.2h0.9v0.9h-0.9zM118.6,47.2h0.9v0.9h-0.9zM92.4,56.3h0.9v0.9h-0.9zM71.1,50.5h0.9v0.9h-0.9zM74.4,52.4h0.9v0.9h-0.9zM80.6,55.8h0.9v0.9h-0.9zM83.3,53.7h0.9v0.9h-0.9zM100.0,60.2h0.9v0.9h-0.9zM92.3,58.5h0.9v0.9h-0.9zM68.2,45.8h0.9v0.9h-0.9zM65.1,57.7h0.9v0.9h-0.9zM81.0,53.3h0.9v0.9h-0.9zM76.3,47.8h0.9v0.9h-0.9zM74.3,59.7h0.9v0.9h-0.9zM75.4,52.9h0.9v0.9h-0.9zM65.4,53.7h0.9v0.9h-0.9zM68.8,54.0h0.9v0.9h-0.9zM92.6,57.9h0.9v0.9h-0.9zM78.3,39.5h0.9v0.9h-0.9zM75.7,46.8h0.9v0.9h-0.9zM66.4,52.6h0.9v0.9h-0.9zM73.9,55.9h0.9v0.9h-0.9zM68.5,51.6h0.9v0.9h-0.9zM79.9,51.6h0.9v0.9h-0.9zM81.3,53.3h0.9v0.9h-0.9zM86.1,58.3h0.9v0.9h-0.9zM71.1,45.9h0.9v0.9h-0.9zM81.2,57.9h0.9v0.9h-0.9zM98.4,41.3h0.9v0.9h-0.9zM64.3,51.3h0.9v0.9h-0.9zM82.2,47.4h0.9v0.9h-0.9zM70.3,65.2h0.9v0.9h-0.9zM80.6,42.6h0.9v0.9h-0.9zM64.3,60.2h0.9v0.9h-0.9zM74.3,56.2h0.9v0.9h-0.9zM65.7,45.4h0.9v0.9h-0.9zM74.5,59.0h0.9v0.9h-0.9zM83.8,49.9h0.9v0.9h-0.9zM82.8,49.3h0.9v0.9h-0.9zM68.1,52.9h0.9v0.9h-0.9zM84.9,54.7h0.9v0.9h-0.9zM70.5,38.7h0.9v0.9h-0.9zM77.9,48.6h0.9v0.9h-0.9zM78.0,47.9h0.9v0.9h-0.9zM75.5,40.2h0.9v0.9h-0.9zM78.9,53.4h0.9v0.9h-0.9zM68.3,51.6h0.9v0.9h-0.9zM65.1,51.7h0.9v0.9h-0.9zM82.2,45.1h0.9v0.9h-0.9zM65.2,58.4h0.9v0.9h-0.9zM67.9,61.5h0.9v0.9h-0.9zM86.8,51.7h0.9v0.9h-0.9zM74.3,59.5h0.9v0.9h-0.9zM92.3,50.3h0.9v0.9h-0.9zM76.2,51.8h0.9v0.9h-0.9zM80.7,52.5h0.9v0.9h-0.9zM81.4,61.2h0.9v0.9h-0.9zM73.9,59.3h0.9v0.9h-0.9zM70.0,40.3h0.9v0.9h-0.9zM77.4,53.5h0.9v0.9h-0.9zM103.9,53.6h0.9v0.9h-0.9zM80.9,62.0h0.9v0.9h-0.9zM81.1,57.2h0.9v0.9h-0.9zM69.6,52.1h0.9v0.9h-0.9zM68.7,55.8h0.9v0.9h-0.9zM73.6,56.5h0.9v0.9h-0.9zM70.8,46.1h0.9v0.9h-0.9zM86.0,59.9h0.9v0.9h-0.9zM73.4,52.9h0.9v0.9h-0.9zM77.5,43.8h0.9v0.9h-0.9zM72.3,65.7h0.9v0.9h-0.9zM68.5,49.3h0.9v0.9h-0.9zM98.2,53.1h0.9v0.9h-0.9zM67.5,50.8h0.9v0.9h-0.9zM67.0,43.6h0.9v0.9h-0.9zM85.4,45.3h0.9v0.9h-0.9zM79.1,52.5h0.9v0.9h-0.9zM83.3,42.3h0.9v0.9h-0.9zM74.0,60.7h0.9v0.9h-0.9zM77.2,43.2h0.9v0.9h-0.9zM76.5,51.2h0.9v0.9h-0.9zM64.2,59.9h0.9v0.9h-0.9zM86.2,61.2h0.9v0.9h-0.9zM73.7,50.4h0.9v0.9h-0.9zM72.3,45.2h0.9v0.9h-0.9zM85.3,59.6h0.9v0.9h-0.9zM65.5,48.3h0.9v0.9h-0.9zM75.3,55.6h0.9v0.9h-0.9zM66.6,46.9h0.9v0.9h-0.9zM68.0,50.0h0.9v0.9h-0.9zM76.4,56.2h0.9v0.9h-0.9zM71.4,50.8h0.9v0.9h-0.9zM89.5,57.1h0.9v0.9h-0.9zM85.2,57.4h0.9v0.9h-0.9zM75.1,55.1h0.9v0.9h-0.9zM81.9,43.4h0.9v0.9h-0.9zM79.6,56.2h0.9v0.9h-0.9zM79.2,54.0h0.9v0.9h-0.9zM65.5,62.7h0.9v0.9h-0.9zM70.6,43.6h0.9v0.9h-0.9zM89.8,51.3h0.9v0.9h-0.9zM75.7,56.9h0.9v0.9h-0.9zM67.7,57.3h0.9v0.9h-0.9zM64.8,49.2h0.9v0.9h-0.9zM70.3,57.0h0.9v0.9h-0.9zM79.9,47.1h0.9v0.9h-0.9zM80.5,53.7h0.9v0.9h-0.9zM99.5,46.8h0.9v0.9h-0.9zM84.9,55.2h0.9v0.9h-0.9zM72.5,49.8h0.9v0.9h-0.9zM64.4,55.6h0.9v0.9h-0.9zM93.1,52.9h0.9v0.9h-0.9zM74.0,57.9h0.9v0.9h-0.9zM83.4,52.6h0.9v0.9h-0.9zM88.0,60.1h0.9v0.9h-0.9zM76.9,49.6h0.9v0.9h-0.9zM81.3,58.5h0.9v0.9h-0.9zM66.3,40.6h0.9v0.9h-0.9zM71.8,49.0h0.9v0.9h-0.9zM77.9,52.6h0.9v0.9h-0.9zM82.0,55.1h0.9v0.9h-0.9zM95.5,46.7h0.9v0.9h-0.9zM81.3,50.2h0.9v0.9h-0.9zM73.1,52.3h0.9v0.9h-0.9zM85.4,49.3h0.9v0.9h-0.9zM76.2,48.9h0.9v0.9h-0.9zM67.8,52.9h0.9v0.9h-0.9zM82.1,44.7h0.9v0.9h-0.9zM86.5,60.3h0.9v0.9h-0.9zM70.4,62.0h0.9v0.9h-0.9zM81.2,54.1h0.9v0.9h-0.9zM74.0,62.3h0.9v0.9h-0.9zM64.9,50.6h0.9v0.9h-0.9zM75.9,52.5h0.9v0.9h-0.9zM76.5,57.0h0.9v0.9h-0.9zM95.7,47.7h0.9v0.9h-0.9zM86.7,50.4h0.9v0.9h-0.9zM69.4,55.0h0.9v0.9h-0.9zM82.7,55.8h0.9v0.9h-0.9zM80.0,50.0h0.9v0.9h-0.9zM81.5,52.4h0.9v0.9h-0.9zM74.5,57.6h0.9v0.9h-0.9zM83.0,64.5h0.9v0.9h-0.9zM81.9,49.3h0.9v0.9h-0.9zM75.5,54.9h0.9v0.9h-0.9zM71.9,58.9h0.9v0.9h-0.9zM108.7,58.1h0.9v0.9h-0.9zM74.7,51.6h0.9v0.9h-0.9zM73.4,54.1h0.9v0.9h-0.9zM80.8,60.9h0.9v0.9h-0.9zM73.6,50.4h0.9v0.9h-0.9zM67.5,47.2h0.9v0.9h-0.9zM84.4,51.4h0.9v0.9h-0.9zM70.1,53.5h0.9v0.9h-0.9zM76.9,45.7h0.9v0.9h-0.9zM91.8,61.4h0.9v0.9h-0.9zM70.1,48.8h0.9v0.9h-0.9zM83.7,55.9h0.9v0.9h-0.9zM70.9,49.8h0.9v0.9h-0.9zM82.9,54.7h0.9v0.9h-0.9zM91.1,54.9h0.9v0.9h-0.9zM73.7,49.8h0.9v0.9h-0.9zM75.7,54.3h0.9v0.9h-0.9zM68.2,56.2h0.9v0.9h-0.9zM71.5,47.5h0.9v0.9h-0.9zM67.4,48.0h0.9v0.9h-0.9zM72.0,46.1h0.9v0.9h-0.9zM73.6,48.5h0.9v0.9h-0.9zM74.2,51.6h0.9v0.9h-0.9zM89.0,51.7h0.9v0.9h-0.9zM87.8,51.4h0.9v0.9h-0.9zM76.4,55.9h0.9v0.9h-0.9zM68.0,63.5h0.9v0.9h-0.9zM82.4,53.5h0.9v0.9h-0.9zM84.1,45.9h0.9v0.9h-0.9zM66.8,48.4h0.9v0.9h-0.9zM66.9,61.5h0.9v0.9h-0.9zM72.2,61.4h0.9v0.9h-0.9zM80.9,60.5h0.9v0.9h-0.9zM92.0,48.5h0.9v0.9h-0.9zM80.5,52.5h0.9v0.9h-0.9zM66.4,52.9h0.9v0.9h-0.9zM67.0,52.1h0.9v0.9h-0.9zM80.2,51.5h0.9v0.9h-0.9zM65.8,48.3h0.9v0.9h-0.9zM71.7,62.3h0.9v0.9h-0.9zM91.1,50.1h0.9v0.9h-0.9zM68.6,53.1h0.9v0.9h-0.9zM65.6,49.2h0.9v0.9h-0.9zM64.6,53.0h0.9v0.9h-0.9zM65.4,61.1h0.9v0.9h-0.9zM66.2,45.2h0.9v0.9h-0.9zM89.9,56.1h0.9v0.9h-0.9zM69.6,49.7h0.9v0.9h-0.9zM86.4,51.4h0.9v0.9h-0.9zM65.5,49.4h0.9v0.9h-0.9zM69.8,57.7h0.9v0.9h-0.9zM77.0,55.9h0.9v0.9h-0.9zM66.9,45.8h0.9v0.9h-0.9zM76.8,60.9h0.9v0.9h-0.9zM85.1,59.1h0.9v0.9h-0.9zM68.6,55.0h0.9v0.9h-0.9zM64.2,59.6h0.9v0.9h-0.9zM68.4,64.3h0.9v0.9h-0.9zM76.9,51.3h0.9v0.9h-0.9zM64.0,44.5h0.9v0.9h-0.9zM76.1,51.4h0.9v0.9h-0.9zM104.4,48.7h0.9v0.9h-0.9zM79.2,53.4h0.9v0.9h-0.9zM68.9,56.3h0.9v0.9h-0.9zM96.9,58.0h0.9v0.9h-0.9zM96.0,54.6h0.9v0.9h-0.9zM65.0,53.8h0.9v0.9h-0.9zM75.0,50.4h0.9v0.9h-0.9zM66.0,55.7h0.9v0.9h-0.9zM69.8,55.1h0.9v0.9h-0.9zM69.5,56.8h0.9v0.9h-0.9zM80.3,50.2h0.9v0.9h-0.9zM71.0,59.3h0.9v0.9h-0.9zM68.1,44.3h0.9v0.9h-0.9zM85.1,63.2h0.9v0.9h-0.9zM69.6,46.2h0.9v0.9h-0.9zM79.0,53.8h0.9v0.9h-0.9zM87.6,61.5h0.9v0.9h-0.9zM70.0,51.4h0.9v0.9h-0.9zM95.7,47.8h0.9v0.9h-0.9zM89.8,54.8h0.9v0.9h-0.9zM65.6,59.8h0.9v0.9h-0.9zM72.0,48.6h0.9v0.9h-0.9zM89.2,53.1h0.9v0.9h-0.9zM72.5,60.2h0.9v0.9h-0.9zM107.1,60.1h0.9v0.9h-0.9zM74.2,61.0h0.9v0.9h-0.9zM77.2,54.1h0.9v0.9h-0.9zM71.1,55.1h0.9v0.9h-0.9zM74.4,52.4h0.9v0.9h-0.9zM66.1,50.6h0.9v0.9h-0.9zM88.2,45.4h0.9v0.9h-0.9zM72.3,55.8h0.9v0.9h-0.9zM65.8,46.8h0.9v0.9h-0.9zM78.1,50.9h0.9v0.9h-0.9zM98.2,61.3h0.9v0.9h-0.9zM88.6,64.9h0.9v0.9h-0.9zM72.8,50.7h0.9v0.9h-0.9zM102.8,49.3h0.9v0.9h-0.9zM88.5,60.2h0.9v0.9h-0.9zM68.3,44.0h0.9v0.9h-0.9zM70.3,51.5h0.9v0.9h-0.9zM71.6,52.3h0.9v0.9h-0.9zM69.7,44.4h0.9v0.9h-0.9zM74.6,60.6h0.9v0.9h-0.9zM88.0,57.9h0.9v0.9h-0.9zM102.1,56.4h0.9v0.9h-0.9zM86.9,59.6h0.9v0.9h-0.9zM94.6,54.8h0.9v0.9h-0.9zM70.7,59.5h0.9v0.9h-0.9zM83.5,54.0h0.9v0.9h-0.9zM93.6,58.2h0.9v0.9h-0.9zM71.9,47.8h0.9v0.9h-0.9zM104.6,50.9h0.9v0.9h-0.9zM70.8,52.4h0.9v0.9h-0.9zM71.8,44.5h0.9v0.9h-0.9zM66.4,52.4h0.9v0.9h-0.9zM80.2,50.3h0.9v0.9h-0.9zM89.8,47.3h0.9v0.9h-0.9zM64.7,54.3h0.9v0.9h-0.9zM76.0,51.0h0.9v0.9h-0.9zM72.9,53.8h0.9v0.9h-0.9zM91.9,52.7h0.9v0.9h-0.9zM66.4,56.0h0.9v0.9h-0.9zM84.1,48.1h0.9v0.9h-0.9zM71.8,51.5h0.9v0.9h-0.9zM99.2,59.9h0.9v0.9h-0.9zM81.7,53.1h0.9v0.9h-0.9zM119.6,59.7h0.9v0.9h-0.9zM97.4,61.3h0.9v0.9h-0.9zM79.0,45.5h0.9v0.9h-0.9zM89.3,55.2h0.9v0.9h-0.9zM83.7,53.3h0.9v0.9h-0.9zM76.5,58.2h0.9v0.9h-0.9zM66.9,50.2h0.9v0.9h-0.9zM76.6,49.0h0.9v0.9h-0.9zM65.3,57.0h0.9v0.9h-0.9zM87.8,55.0h0.9v0.9h-0.9zM96.3,48.1h0.9v0.9h-0.9zM84.3,52.5h0.9v0.9h-0.9zM75.8,52.7h0.9v0.9h-0.9zM79.1,53.5h0.9v0.9h-0.9zM67.4,55.6h0.9v0.9h-0.9zM67.9,53.7h0.9v0.9h-0.9zM81.2,50.0h0.9v0.9h-0.9zM83.0,47.1h0.9v0.9h-0.9zM67.6,43.8h0.9v0.9h-0.9zM72.8,61.4h0.9v0.9h-0.9zM69.9,59.7h0.9v0.9h-0.9zM88.3,47.6h0.9v0.9h-0.9zM71.7,57.4h0.9v0.9h-0.9zM77.8,44.1h0.9v0.9h-0.9zM72.4,52.6h0.9v0.9h-0.9zM66.0,55.5h0.9v0.9h-0.9zM68.6,44.0h0.9v0.9h-0.9zM81.7,45.3h0.9v0.9h-0.9zM85.7,52.3h0.9v0.9h-0.9zM85.6,49.2h0.9v0.9h-0.9zM76.6,46.9h0.9v0.9h-0.9zM92.6,53.4h0.9v0.9h-0.9zM72.0,51.7h0.9v0.9h-0.9zM79.9,55.6h0.9v0.9h-0.9zM83.9,55.9h0.9v0.9h-0.9zM74.9,57.2h0.9v0.9h-0.9zM78.7,55.4h0.9v0.9h-0.9zM71.3,52.6h0.9v0.9h-0.9zM91.0,53.9h0.9v0.9h-0.9zM78.7,56.7h0.9v0.9h-0.9zM77.6,50.1h0.9v0.9h-0.9zM64.2,54.0h0.9v0.9h-0.9zM92.2,43.7h0.9v0.9h-0.9zM68.3,59.0h0.9v0.9h-0.9zM66.6,54.7h0.9v0.9h-0.9zM89.3,46.5h0.9v0.9h-0.9zM64.7,57.2h0.9v0.9h-0.9zM73.7,43.7h0.9v0.9h-0.9zM80.5,54.0h0.9v0.9h-0.9zM67.1,62.8h0.9v0.9h-0.9zM86.0,44.8h0.9v0.9h-0.9zM81.2,57.9h0.9v0.9h-0.9zM90.8,52.2h0.9v0.9h-0.9zM73.2,53.8h0.9v0.9h-0.9zM89.6,56.3h0.9v0.9h-0.9zM92.1,57.2h0.9v0.9h-0.9zM73.7,47.6h0.9v0.9h-0.9zM94.7,45.0h0.9v0.9h-0.9zM69.8,51.3h0.9v0.9h-0.9zM79.1,50.0h0.9v0.9h-0.9zM64.1,65.6h0.9v0.9h-0.9zM65.1,50.2h0.9v0.9h-0.9zM66.1,58.0h0.9v0.9h-0.9zM77.5,50.8h0.9v0.9h-0.9zM92.9,56.7h0.9v0.9h-0.9zM75.3,61.0h0.9v0.9h-0.9zM83.8,64.6h0.9v0.9h-0.9zM78.5,51.5h0.9v0.9h-0.9zM70.5,51.4h0.9v0.9h-0.9zM84.1,57.1h0.9v0.9h-0.9zM74.1,49.2h0.9v0.9h-0.9zM72.6,53.6h0.9v0.9h-0.9zM73.7,51.8h0.9v0.9h-0.9zM72.1,60.2h0.9v0.9h-0.9zM80.6,49.1h0.9v0.9h-0.9zM64.7,60.3h0.9v0.9h-0.9zM68.8,62.5h0.9v0.9h-0.9zM71.4,56.6h0.9v0.9h-0.9zM98.4,57.5h0.9v0.9h-0.9zM69.6,56.1h0.9v0.9h-0.9zM72.0,55.8h0.9v0.9h-0.9zM72.4,57.8h0.9v0.9h-0.9zM65.0,47.4h0.9v0.9h-0.9zM80.9,53.9h0.9v0.9h-0.9zM69.6,41.3h0.9v0.9h-0.9zM98.2,58.6h0.9v0.9h-0.9zM64.2,68.2h0.9v0.9h-0.9zM89.4,51.7h0.9v0.9h-0.9zM73.9,56.0h0.9v0.9h-0.9zM87.4,61.6h0.9v0.9h-0.9zM80.7,59.6h0.9v0.9h-0.9zM84.2,54.6h0.9v0.9h-0.9zM66.8,56.3h0.9v0.9h-0.9zM77.3,60.1h0.9v0.9h-0.9zM65.1,52.9h0.9v0.9h-0.9zM68.4,47.3h0.9v0.9h-0.9zM76.0,54.8h0.9v0.9h-0.9zM71.6,62.9h0.9v0.9h-0.9zM78.4,51.5h0.9v0.9h-0.9zM64.1,57.6h0.9v0.9h-0.9zM66.9,58.0h0.9v0.9h-0.9zM71.6,43.6h0.9v0.9h-0.9zM75.3,42.2h0.9v0.9h-0.9zM68.7,50.8h0.9v0.9h-0.9zM73.8,53.9h0.9v0.9h-0.9zM65.1,59.7h0.9v0.9h-0.9zM73.9,46.4h0.9v0.9h-0.9zM75.4,54.8h0.9v0.9h-0.9zM92.3,51.9h0.9v0.9h-0.9zM66.8,54.4h0.9v0.9h-0.9zM77.0,52.5h0.9v0.9h-0.9zM68.9,50.8h0.9v0.9h-0.9zM73.1,48.8h0.9v0.9h-0.9zM74.9,50.0h0.9v0.9h-0.9zM73.1,55.2h0.9v0.9h-0.9zM80.2,38.7h0.9v0.9h-0.9zM80.0,46.5h0.9v0.9h-0.9zM66.7,57.3h0.9v0.9h-0.9zM106.1,61.2h0.9v0.9h-0.9zM86.5,55.0h0.9v0.9h-0.9zM70.4,55.9h0.9v0.9h-0.9zM100.2,58.0h0.9v0.9h-0.9zM64.1,56.3h0.9v0.9h-0.9zM81.1,47.2h0.9v0.9h-0.9zM74.7,52.8h0.9v0.9h-0.9zM69.8,51.1h0.9v0.9h-0.9zM69.8,56.6h0.9v0.9h-0.9zM83.3,52.5h0.9v0.9h-0.9zM89.9,50.1h0.9v0.9h-0.9zM79.0,49.2h0.9v0.9h-0.9zM94.9,55.7h0.9v0.9h-0.9zM78.8,53.6h0.9v0.9h-0.9zM78.4,58.8h0.9v0.9h-0.9zM65.8,50.2h0.9v0.9h-0.9zM73.1,63.3h0.9v0.9h-0.9zM67.0,50.6h0.9v0.9h-0.9zM75.8,44.0h0.9v0.9h-0.9zM72.3,54.7h0.9v0.9h-0.9zM72.1,48.9h0.9v0.9h-0.9zM70.8,55.5h0.9v0.9h-0.9zM71.2,54.6h0.9v0.9h-0.9zM80.2,57.6h0.9v0.9h-0.9zM80.4,51.2h0.9v0.9h-0.9zM66.3,50.8h0.9v0.9h-0.9zM83.0,64.2h0.9v0.9h-0.9zM89.2,43.7h0.9v0.9h-0.9zM66.0,46.2h0.9v0.9h-0.9zM69.2,46.0h0.9v0.9h-0.9zM73.7,55.8h0.9v0.9h-0.9zM92.4,59.4h0.9v0.9h-0.9zM71.6,58.1h0.9v0.9h-0.9zM71.6,52.4h0.9v0.9h-0.9zM72.3,43.6h0.9v0.9h-0.9zM74.0,42.1h0.9v0.9h-0.9zM67.9,55.8h0.9v0.9h-0.9zM65.9,44.6h0.9v0.9h-0.9zM74.8,56.6h0.9v0.9h-0.9zM82.3,61.5h0.9v0.9h-0.9zM94.1,55.5h0.9v0.9h-0.9zM72.0,57.1h0.9v0.9h-0.9zM92.0,52.2h0.9v0.9h-0.9zM75.8,49.5h0.9v0.9h-0.9zM70.0,47.8h0.9v0.9h-0.9zM82.5,45.9h0.9v0.9h-0.9zM79.2,51.2h0.9v0.9h-0.9zM69.3,64.3h0.9v0.9h-0.9zM68.6,48.5h0.9v0.9h-0.9zM73.7,54.8h0.9v0.9h-0.9zM68.7,52.7h0.9v0.9h-0.9zM71.7,46.7h0.9v0.9h-0.9zM84.0,50.7h0.9v0.9h-0.9zM82.3,56.8h0.9v0.9h-0.9zM96.2,59.6h0.9v0.9h-0.9zM71.4,54.8h0.9v0.9h-0.9zM75.4,46.0h0.9v0.9h-0.9zM73.1,45.1h0.9v0.9h-0.9zM69.0,52.2h0.9v0.9h-0.9zM76.5,53.3h0.9v0.9h-0.9zM65.8,49.9h0.9v0.9h-0.9zM92.6,51.2h0.9v0.9h-0.9zM75.6,58.6h0.9v0.9h-0.9zM86.9,47.7h0.9v0.9h-0.9zM79.6,56.8h0.9v0.9h-0.9zM71.5,66.8h0.9v0.9h-0.9zM69.2,44.9h0.9v0.9h-0.9zM73.2,61.4h0.9v0.9h-0.9zM94.3,53.8h0.9v0.9h-0.9zM87.0,61.6h0.9v0.9h-0.9zM71.4,47.5h0.9v0.9h-0.9zM92.4,49.2h0.9v0.9h-0.9zM106.5,50.5h0.9v0.9h-0.9zM100.2,53.5h0.9v0.9h-0.9zM68.4,46.8h0.9v0.9h-0.9zM69.7,50.5h0.9v0.9h-0.9zM78.1,60.4h0.9v0.9h-0.9zM71.3,48.2h0.9v0.9h-0.9zM88.6,52.7h0.9v0.9h-0.9zM72.4,53.8h0.9v0.9h-0.9zM83.6,56.3h0.9v0.9h-0.9zM69.8,56.8h0.9v0.9h-0.9zM70.5,53.7h0.9v0.9h-0.9zM91.3,47.3h0.9v0.9h-0.9zM81.2,50.9h0.9v0.9h-0.9zM72.3,60.0h0.9v0.9h-0.9zM90.5,65.3h0.9v0.9h-0.9zM90.3,50.6h0.9v0.9h-0.9zM67.1,51.1h0.9v0.9h-0.9zM75.2,56.6h0.9v0.9h-0.9zM76.5,57.1h0.9v0.9h-0.9zM96.1,52.1h0.9v0.9h-0.9zM75.6,52.0h0.9v0.9h-0.9zM64.7,54.2h0.9v0.9h-0.9zM64.9,54.9h0.9v0.9h-0.9zM78.2,52.2h0.9v0.9h-0.9zM74.1,46.7h0.9v0.9h-0.9zM75.8,50.3h0.9v0.9h-0.9zM66.5,44.6h0.9v0.9h-0.9zM68.3,46.9h0.9v0.9h-0.9zM77.6,54.0h0.9v0.9h-0.9zM82.4,54.5h0.9v0.9h-0.9zM72.1,50.6h0.9v0.9h-0.9zM86.3,44.3h0.9v0.9h-0.9zM83.0,44.9h0.9v0.9h-0.9zM74.5,53.2h0.9v0.9h-0.9zM67.7,61.9h0.9v0.9h-0.9zM72.2,52.7h0.9v0.9h-0.9zM79.9,53.2h0.9v0.9h-0.9zM77.4,59.0h0.9v0.9h-0.9zM88.9,59.9h0.9v0.9h-0.9zM83.5,63.2h0.9v0.9h-0.9zM70.9,57.1h0.9v0.9h-0.9zM83.8,65.8h0.9v0.9h-0.9zM90.9,47.5h0.9v0.9h-0.9zM83.6,55.7h0.9v0.9h-0.9zM69.2,37.3h0.9v0.9h-0.9zM71.3,52.0h0.9v0.9h-0.9zM107.5,67.4h0.9v0.9h-0.9zM105.6,50.0h0.9v0.9h-0.9zM64.1,54.3h0.9v0.9h-0.9zM76.6,51.6h0.9v0.9h-0.9zM78.9,51.1h0.9v0.9h-0.9zM99.0,47.0h0.9v0.9h-0.9zM96.9,49.3h0.9v0.9h-0.9zM65.3,63.2h0.9v0.9h-0.9zM81.5,53.7h0.9v0.9h-0.9zM76.2,51.6h0.9v0.9h-0.9zM79.1,58.4h0.9v0.9h-0.9zM66.2,61.6h0.9v0.9h-0.9zM68.4,51.0h0.9v0.9h-0.9zM69.7,52.0h0.9v0.9h-0.9zM69.2,48.2h0.9v0.9h-0.9zM68.2,54.7h0.9v0.9h-0.9zM94.5,52.9h0.9v0.9h-0.9zM93.2,55.5h0.9v0.9h-0.9zM102.1,50.6h0.9v0.9h-0.9zM77.3,52.1h0.9v0.9h-0.9zM111.6,51.2h0.9v0.9h-0.9zM67.1,44.9h0.9v0.9h-0.9z" fill="#000" fill-opacity="0.55"/>
<path d="M73.8,69.7h0.9v0.9h-0.9zM61.9,71.6h0.9v0.9h-0.9zM74.1,102.5h0.9v0.9h-0.9zM77.1,82.3h0.9v0.9h-0.9zM68.5,76.9h0.9v0.9h-0.9zM75.7,73.9h0.9v0.9h-0.9zM73.0,91.3h0.9v0.9h-0.9zM66.6,73.1h0.9v0.9h-0.9zM73.2,80.1h0.9v0.9h-0.9zM70.4,73.8h0.9v0.9h-0.9zM70.7,101.8h0.9v0.9h-0.9zM77.7,61.1h0.9v0.9h-0.9zM71.2,81.1h0.9v0.9h-0.9zM71.2,63.8h0.9v0.9h-0.9zM70.4,81.7h0.9v0.9h-0.9zM67.7,83.7h0.9v0.9h-0.9zM59.0,62.3h0.9v0.9h-0.9zM71.5,84.6h0.9v0.9h-0.9zM70.2,74.6h0.9v0.9h-0.9zM71.9,92.7h0.9v0.9h-0.9zM75.4,79.1h0.9v0.9h-0.9zM68.7,92.5h0.9v0.9h-0.9zM73.7,90.4h0.9v0.9h-0.9zM69.6,69.9h0.9v0.9h-0.9zM71.9,72.7h0.9v0.9h-0.9zM76.6,90.0h0.9v0.9h-0.9zM60.3,87.8h0.9v0.9h-0.9zM77.5,92.2h0.9v0.9h-0.9zM68.7,69.9h0.9v0.9h-0.9zM75.8,91.9h0.9v0.9h-0.9zM71.3,66.4h0.9v0.9h-0.9zM63.5,83.1h0.9v0.9h-0.9zM66.9,72.0h0.9v0.9h-0.9zM73.2,92.3h0.9v0.9h-0.9zM60.9,72.1h0.9v0.9h-0.9zM77.4,79.5h0.9v0.9h-0.9zM69.3,87.5h0.9v0.9h-0.9zM65.4,65.6h0.9v0.9h-0.9zM71.1,98.4h0.9v0.9h-0.9zM76.0,79.9h0.9v0.9h-0.9zM76.0,75.2h0.9v0.9h-0.9zM65.2,60.3h0.9v0.9h-0.9zM72.3,90.6h0.9v0.9h-0.9zM72.8,79.6h0.9v0.9h-0.9zM69.0,92.8h0.9v0.9h-0.9zM70.8,63.1h0.9v0.9h-0.9zM77.7,72.4h0.9v0.9h-0.9zM72.9,80.0h0.9v0.9h-0.9zM76.2,82.9h0.9v0.9h-0.9zM77.0,82.5h0.9v0.9h-0.9zM68.7,74.0h0.9v0.9h-0.9zM74.2,70.3h0.9v0.9h-0.9zM75.6,77.2h0.9v0.9h-0.9zM66.4,69.7h0.9v0.9h-0.9zM70.3,100.8h0.9v0.9h-0.9zM74.8,80.2h0.9v0.9h-0.9zM66.6,102.4h0.9v0.9h-0.9zM69.6,80.0h0.9v0.9h-0.9zM68.9,95.7h0.9v0.9h-0.9zM71.9,74.6h0.9v0.9h-0.9zM71.9,68.3h0.9v0.9h-0.9zM65.8,78.1h0.9v0.9h-0.9zM56.9,93.8h0.9v0.9h-0.9zM80.8,66.9h0.9v0.9h-0.9zM70.3,61.4h0.9v0.9h-0.9zM71.8,82.5h0.9v0.9h-0.9zM74.6,64.3h0.9v0.9h-0.9zM68.0,72.4h0.9v0.9h-0.9zM70.0,79.5h0.9v0.9h-0.9zM68.5,89.4h0.9v0.9h-0.9zM83.6,93.7h0.9v0.9h-0.9zM78.5,67.4h0.9v0.9h-0.9zM76.2,80.3h0.9v0.9h-0.9zM77.1,92.5h0.9v0.9h-0.9zM74.2,60.3h0.9v0.9h-0.9zM71.7,74.1h0.9v0.9h-0.9zM73.2,80.4h0.9v0.9h-0.9zM76.2,61.1h0.9v0.9h-0.9zM67.4,79.1h0.9v0.9h-0.9zM72.6,75.2h0.9v0.9h-0.9zM70.9,80.7h0.9v0.9h-0.9zM76.1,78.7h0.9v0.9h-0.9zM72.2,58.6h0.9v0.9h-0.9zM58.1,62.8h0.9v0.9h-0.9zM72.8,52.9h0.9v0.9h-0.9zM73.0,78.9h0.9v0.9h-0.9zM71.0,71.4h0.9v0.9h-0.9zM68.9,89.8h0.9v0.9h-0.9zM72.8,79.7h0.9v0.9h-0.9zM68.6,82.5h0.9v0.9h-0.9zM76.9,79.8h0.9v0.9h-0.9zM69.2,66.1h0.9v0.9h-0.9zM71.5,69.2h0.9v0.9h-0.9zM63.9,90.3h0.9v0.9h-0.9zM67.9,56.0h0.9v0.9h-0.9zM67.5,101.7h0.9v0.9h-0.9zM70.5,64.4h0.9v0.9h-0.9zM65.6,88.5h0.9v0.9h-0.9zM73.0,82.5h0.9v0.9h-0.9zM70.0,85.7h0.9v0.9h-0.9zM78.6,85.7h0.9v0.9h-0.9zM70.2,63.5h0.9v0.9h-0.9zM73.2,98.5h0.9v0.9h-0.9zM74.2,65.2h0.9v0.9h-0.9zM71.9,95.3h0.9v0.9h-0.9zM67.9,85.8h0.9v0.9h-0.9zM77.0,99.3h0.9v0.9h-0.9zM63.2,59.4h0.9v0.9h-0.9zM72.8,88.3h0.9v0.9h-0.9zM69.3,79.8h0.9v0.9h-0.9zM69.0,94.2h0.9v0.9h-0.9zM60.1,83.0h0.9v0.9h-0.9zM64.7,72.0h0.9v0.9h-0.9zM63.5,69.3h0.9v0.9h-0.9zM70.9,80.3h0.9v0.9h-0.9zM79.8,77.4h0.9v0.9h-0.9zM72.7,84.2h0.9v0.9h-0.9zM72.3,97.3h0.9v0.9h-0.9zM71.7,81.8h0.9v0.9h-0.9zM70.4,80.0h0.9v0.9h-0.9zM70.7,91.8h0.9v0.9h-0.9zM71.1,80.8h0.9v0.9h-0.9zM70.8,89.0h0.9v0.9h-0.9zM68.7,91.1h0.9v0.9h-0.9zM68.2,88.2h0.9v0.9h-0.9zM80.5,82.7h0.9v0.9h-0.9zM70.6,66.1h0.9v0.9h-0.9zM74.6,80.2h0.9v0.9h-0.9zM75.5,72.2h0.9v0.9h-0.9zM73.6,101.4h0.9v0.9h-0.9zM73.0,76.1h0.9v0.9h-0.9zM64.6,79.9h0.9v0.9h-0.9zM74.2,87.1h0.9v0.9h-0.9zM65.5,67.9h0.9v0.9h-0.9zM66.2,67.9h0.9v0.9h-0.9zM69.6,83.1h0.9v0.9h-0.9zM80.5,82.3h0.9v0.9h-0.9zM78.2,60.4h0.9v0.9h-0.9zM78.6,89.4h0.9v0.9h-0.9zM73.2,89.8h0.9v0.9h-0.9zM74.0,102.6h0.9v0.9h-0.9zM75.0,59.4h0.9v0.9h-0.9zM62.4,99.1h0.9v0.9h-0.9zM70.6,95.6h0.9v0.9h-0.9zM69.3,72.2h0.9v0.9h-0.9zM69.3,83.7h0.9v0.9h-0.9zM71.9,72.7h0.9v0.9h-0.9zM73.6,87.3h0.9v0.9h-0.9zM66.5,66.8h0.9v0.9h-0.9z" fill="#000" fill-opacity="0.4"/>
<path d="M63.8,90.4h0.9v0.9h-0.9zM54.6,101.9h0.9v0.9h-0.9zM55.1,99.8h0.9v0.9h-0.9zM53.5,103.1h0.9v0.9h-0.9zM66.1,98.2h0.9v0.9h-0.9zM62.2,101.0h0.9v0.9h-0.9zM61.1,99.8h0.9v0.9h-0.9zM60.0,101.4h0.9v0.9h-0.9zM60.6,100.9h0.9v0.9h-0.9zM61.2,103.5h0.9v0.9h-0.9zM55.1,93.5h0.9v0.9h-0.9zM61.0,98.2h0.9v0.9h-0.9zM67.1,97.7h0.9v0.9h-0.9zM57.7,102.8h0.9v0.9h-0.9zM65.3,96.3h0.9v0.9h-0.9zM67.8,99.9h0.9v0.9h-0.9zM63.2,102.9h0.9v0.9h-0.9zM61.8,95.4h0.9v0.9h-0.9zM63.9,86.0h0.9v0.9h-0.9zM54.7,99.3h0.9v0.9h-0.9zM54.9,97.2h0.9v0.9h-0.9zM64.3,100.9h0.9v0.9h-0.9zM59.3,102.0h0.9v0.9h-0.9zM58.3,93.2h0.9v0.9h-0.9zM67.8,101.0h0.9v0.9h-0.9zM68.0,93.2h0.9v0.9h-0.9zM62.4,102.3h0.9v0.9h-0.9zM59.4,98.8h0.9v0.9h-0.9zM57.1,96.9h0.9v0.9h-0.9zM51.4,101.2h0.9v0.9h-0.9zM56.2,95.5h0.9v0.9h-0.9zM52.8,102.4h0.9v0.9h-0.9zM53.9,101.3h0.9v0.9h-0.9zM58.5,103.7h0.9v0.9h-0.9zM60.0,99.2h0.9v0.9h-0.9zM57.6,97.3h0.9v0.9h-0.9zM60.5,103.1h0.9v0.9h-0.9zM67.5,103.0h0.9v0.9h-0.9zM56.4,102.7h0.9v0.9h-0.9zM63.6,97.6h0.9v0.9h-0.9zM51.1,91.5h0.9v0.9h-0.9zM53.3,103.5h0.9v0.9h-0.9zM57.8,102.2h0.9v0.9h-0.9zM57.6,97.5h0.9v0.9h-0.9zM60.8,96.6h0.9v0.9h-0.9zM67.4,102.4h0.9v0.9h-0.9zM65.1,98.1h0.9v0.9h-0.9zM56.7,96.7h0.9v0.9h-0.9zM60.1,86.8h0.9v0.9h-0.9zM60.9,100.1h0.9v0.9h-0.9zM57.4,93.4h0.9v0.9h-0.9zM61.9,99.3h0.9v0.9h-0.9zM57.3,100.7h0.9v0.9h-0.9zM55.7,88.7h0.9v0.9h-0.9zM55.6,100.1h0.9v0.9h-0.9zM59.3,100.9h0.9v0.9h-0.9zM54.6,100.6h0.9v0.9h-0.9zM64.5,103.6h0.9v0.9h-0.9zM64.3,97.6h0.9v0.9h-0.9zM63.1,100.7h0.9v0.9h-0.9zM66.1,103.1h0.9v0.9h-0.9zM57.1,100.6h0.9v0.9h-0.9zM66.2,100.9h0.9v0.9h-0.9zM59.1,96.7h0.9v0.9h-0.9zM59.4,103.8h0.9v0.9h-0.9zM51.8,100.0h0.9v0.9h-0.9zM60.8,96.7h0.9v0.9h-0.9zM65.7,91.8h0.9v0.9h-0.9zM59.0,99.3h0.9v0.9h-0.9zM52.8,97.5h0.9v0.9h-0.9zM63.3,102.7h0.9v0.9h-0.9zM59.7,88.3h0.9v0.9h-0.9zM67.2,93.3h0.9v0.9h-0.9zM61.1,95.2h0.9v0.9h-0.9zM53.8,90.5h0.9v0.9h-0.9zM55.1,99.6h0.9v0.9h-0.9zM60.9,98.5h0.9v0.9h-0.9zM58.8,97.6h0.9v0.9h-0.9zM63.2,100.2h0.9v0.9h-0.9zM60.1,103.3h0.9v0.9h-0.9zM67.0,99.2h0.9v0.9h-0.9zM66.7,91.6h0.9v0.9h-0.9zM57.6,101.4h0.9v0.9h-0.9zM58.6,103.7h0.9v0.9h-0.9zM66.4,103.5h0.9v0.9h-0.9zM53.4,92.5h0.9v0.9h-0.9zM66.1,85.7h0.9v0.9h-0.9zM58.7,103.3h0.9v0.9h-0.9zM59.8,97.9h0.9v0.9h-0.9zM64.4,99.3h0.9v0.9h-0.9zM67.7,101.8h0.9v0.9h-0.9zM51.2,98.8h0.9v0.9h-0.9zM63.8,101.6h0.9v0.9h-0.9zM58.2,102.0h0.9v0.9h-0.9zM65.9,99.6h0.9v0.9h-0.9zM54.9,101.8h0.9v0.9h-0.9zM52.3,101.2h0.9v0.9h-0.9zM57.6,103.1h0.9v0.9h-0.9zM63.2,97.5h0.9v0.9h-0.9zM51.6,102.9h0.9v0.9h-0.9zM52.7,95.3h0.9v0.9h-0.9zM60.9,103.1h0.9v0.9h-0.9zM65.1,98.1h0.9v0.9h-0.9zM62.8,101.9h0.9v0.9h-0.9zM51.9,101.6h0.9v0.9h-0.9zM55.5,101.7h0.9v0.9h-0.9zM67.5,92.0h0.9v0.9h-0.9zM65.7,90.1h0.9v0.9h-0.9zM64.0,95.2h0.9v0.9h-0.9zM59.0,95.3h0.9v0.9h-0.9zM53.0,94.5h0.9v0.9h-0.9zM54.7,103.7h0.9v0.9h-0.9zM61.6,97.4h0.9v0.9h-0.9zM65.6,97.0h0.9v0.9h-0.9zM67.5,103.0h0.9v0.9h-0.9zM55.5,103.9h0.9v0.9h-0.9zM52.9,102.7h0.9v0.9h-0.9zM64.5,90.0h0.9v0.9h-0.9zM61.3,96.8h0.9v0.9h-0.9zM51.1,98.6h0.9v0.9h-0.9zM64.1,96.4h0.9v0.9h-0.9zM59.8,98.0h0.9v0.9h-0.9zM62.1,100.3h0.9v0.9h-0.9zM52.4,100.7h0.9v0.9h-0.9zM64.5,99.8h0.9v0.9h-0.9zM60.3,100.7h0.9v0.9h-0.9zM60.9,92.8h0.9v0.9h-0.9zM55.1,89.9h0.9v0.9h-0.9zM57.3,91.4h0.9v0.9h-0.9zM58.4,98.5h0.9v0.9h-0.9zM61.9,85.7h0.9v0.9h-0.9zM54.1,94.3h0.9v0.9h-0.9zM59.0,98.6h0.9v0.9h-0.9zM63.1,101.0h0.9v0.9h-0.9zM56.3,95.7h0.9v0.9h-0.9zM61.2,102.9h0.9v0.9h-0.9zM61.7,100.6h0.9v0.9h-0.9zM55.9,96.9h0.9v0.9h-0.9zM60.1,103.7h0.9v0.9h-0.9zM54.8,95.6h0.9v0.9h-0.9zM57.0,103.2h0.9v0.9h-0.9zM55.3,95.8h0.9v0.9h-0.9zM66.9,96.2h0.9v0.9h-0.9zM55.2,91.1h0.9v0.9h-0.9zM51.4,95.1h0.9v0.9h-0.9zM65.6,99.7h0.9v0.9h-0.9zM58.5,101.3h0.9v0.9h-0.9zM62.6,98.3h0.9v0.9h-0.9zM64.4,100.4h0.9v0.9h-0.9zM62.6,98.4h0.9v0.9h-0.9zM54.7,101.2h0.9v0.9h-0.9zM55.4,102.3h0.9v0.9h-0.9zM60.7,94.2h0.9v0.9h-0.9zM66.7,102.0h0.9v0.9h-0.9zM59.0,89.2h0.9v0.9h-0.9zM59.8,98.7h0.9v0.9h-0.9zM66.9,102.5h0.9v0.9h-0.9zM59.3,96.3h0.9v0.9h-0.9zM54.4,97.5h0.9v0.9h-0.9zM61.6,103.9h0.9v0.9h-0.9zM66.8,96.1h0.9v0.9h-0.9zM64.0,103.5h0.9v0.9h-0.9zM62.9,102.5h0.9v0.9h-0.9zM61.1,103.1h0.9v0.9h-0.9zM51.6,99.3h0.9v0.9h-0.9zM58.7,97.3h0.9v0.9h-0.9zM51.8,99.1h0.9v0.9h-0.9zM53.1,95.8h0.9v0.9h-0.9zM53.8,96.7h0.9v0.9h-0.9zM63.0,99.0h0.9v0.9h-0.9zM62.0,91.5h0.9v0.9h-0.9zM64.7,97.6h0.9v0.9h-0.9zM64.8,97.3h0.9v0.9h-0.9zM56.8,99.9h0.9v0.9h-0.9zM63.0,95.3h0.9v0.9h-0.9zM51.1,93.0h0.9v0.9h-0.9zM67.2,95.8h0.9v0.9h-0.9zM61.5,100.5h0.9v0.9h-0.9zM60.8,101.6h0.9v0.9h-0.9zM54.1,101.7h0.9v0.9h-0.9zM58.9,102.0h0.9v0.9h-0.9zM51.8,100.5h0.9v0.9h-0.9zM66.4,98.4h0.9v0.9h-0.9zM64.1,95.6h0.9v0.9h-0.9zM60.2,91.4h0.9v0.9h-0.9zM66.9,97.6h0.9v0.9h-0.9zM63.0,101.1h0.9v0.9h-0.9zM53.9,103.9h0.9v0.9h-0.9zM66.3,95.3h0.9v0.9h-0.9zM59.4,103.1h0.9v0.9h-0.9zM63.1,99.2h0.9v0.9h-0.9zM58.8,94.9h0.9v0.9h-0.9zM63.2,102.8h0.9v0.9h-0.9zM54.9,96.8h0.9v0.9h-0.9zM62.2,99.6h0.9v0.9h-0.9zM52.1,97.3h0.9v0.9h-0.9zM55.5,101.5h0.9v0.9h-0.9zM64.1,85.5h0.9v0.9h-0.9zM59.3,103.0h0.9v0.9h-0.9zM65.8,101.2h0.9v0.9h-0.9zM63.0,103.6h0.9v0.9h-0.9zM61.6,101.8h0.9v0.9h-0.9zM59.9,93.7h0.9v0.9h-0.9zM54.1,102.9h0.9v0.9h-0.9zM56.3,102.8h0.9v0.9h-0.9zM65.5,100.5h0.9v0.9h-0.9zM63.1,96.4h0.9v0.9h-0.9zM59.4,100.5h0.9v0.9h-0.9zM51.4,97.4h0.9v0.9h-0.9zM57.0,98.1h0.9v0.9h-0.9zM66.4,81.6h0.9v0.9h-0.9zM62.1,98.3h0.9v0.9h-0.9zM55.8,96.5h0.9v0.9h-0.9zM64.7,92.5h0.9v0.9h-0.9zM63.6,98.4h0.9v0.9h-0.9zM55.5,96.2h0.9v0.9h-0.9zM63.9,99.6h0.9v0.9h-0.9zM65.3,96.4h0.9v0.9h-0.9zM57.1,103.8h0.9v0.9h-0.9zM52.3,96.8h0.9v0.9h-0.9zM59.3,96.4h0.9v0.9h-0.9zM60.3,96.5h0.9v0.9h-0.9zM57.1,102.1h0.9v0.9h-0.9zM62.7,102.2h0.9v0.9h-0.9zM55.4,96.0h0.9v0.9h-0.9zM54.8,102.2h0.9v0.9h-0.9zM66.9,100.9h0.9v0.9h-0.9zM66.3,98.4h0.9v0.9h-0.9zM59.7,98.5h0.9v0.9h-0.9zM52.8,103.0h0.9v0.9h-0.9zM59.5,102.3h0.9v0.9h-0.9zM67.3,101.9h0.9v0.9h-0.9zM55.7,103.5h0.9v0.9h-0.9zM66.8,97.4h0.9v0.9h-0.9zM65.6,91.2h0.9v0.9h-0.9zM52.2,99.6h0.9v0.9h-0.9zM57.6,94.4h0.9v0.9h-0.9zM58.2,100.9h0.9v0.9h-0.9zM65.8,97.3h0.9v0.9h-0.9zM66.2,98.6h0.9v0.9h-0.9zM64.2,103.6h0.9v0.9h-0.9zM62.0,103.2h0.9v0.9h-0.9zM52.3,102.5h0.9v0.9h-0.9zM66.3,101.7h0.9v0.9h-0.9zM67.5,98.8h0.9v0.9h-0.9zM54.3,98.0h0.9v0.9h-0.9zM60.5,102.4h0.9v0.9h-0.9zM63.6,102.1h0.9v0.9h-0.9zM67.5,97.5h0.9v0.9h-0.9zM65.0,94.1h0.9v0.9h-0.9zM63.2,99.7h0.9v0.9h-0.9zM60.3,87.6h0.9v0.9h-0.9zM61.7,98.3h0.9v0.9h-0.9zM62.4,92.7h0.9v0.9h-0.9zM56.5,101.2h0.9v0.9h-0.9zM65.6,98.3h0.9v0.9h-0.9zM67.9,102.9h0.9v0.9h-0.9zM52.0,98.3h0.9v0.9h-0.9zM52.3,98.2h0.9v0.9h-0.9zM67.1,101.6h0.9v0.9h-0.9z" fill="#fff" fill-opacity="0.55"/>
<path d="M66.9,92.8h0.9v0.9h-0.9zM70.4,68.3h0.9v0.9h-0.9zM66.7,71.0h0.9v0.9h-0.9zM62.4,90.7h0.9v0.9h-0.9zM68.0,98.8h0.9v0.9h-0.9zM67.1,83.0h0.9v0.9h-0.9zM70.3,95.2h0.9v0.9h-0.9zM69.3,67.8h0.9v0.9h-0.9zM73.9,93.9h0.9v0.9h-0.9zM72.0,87.7h0.9v0.9h-0.9zM69.7,90.6h0.9v0.9h-0.9zM64.8,93.1h0.9v0.9h-0.9zM66.1,87.8h0.9v0.9h-0.9zM66.0,91.8h0.9v0.9h-0.9zM69.0,88.9h0.9v0.9h-0.9zM66.3,78.1h0.9v0.9h-0.9zM68.4,78.1h0.9v0.9h-0.9zM67.4,70.1h0.9v0.9h-0.9zM70.4,76.8h0.9v0.9h-0.9zM66.5,87.0h0.9v0.9h-0.9zM66.5,79.6h0.9v0.9h-0.9zM67.3,69.4h0.9v0.9h-0.9zM68.0,70.8h0.9v0.9h-0.9zM65.4,86.8h0.9v0.9h-0.9zM67.8,62.0h0.9v0.9h-0.9zM67.5,84.6h0.9v0.9h-0.9zM69.6,87.1h0.9v0.9h-0.9zM69.1,90.2h0.9v0.9h-0.9zM67.3,71.1h0.9v0.9h-0.9zM70.0,76.4h0.9v0.9h-0.9zM68.5,90.9h0.9v0.9h-0.9zM70.8,98.7h0.9v0.9h-0.9zM66.8,77.0h0.9v0.9h-0.9zM69.9,62.5h0.9v0.9h-0.9zM65.4,90.3h0.9v0.9h-0.9zM67.0,69.4h0.9v0.9h-0.9zM70.5,89.3h0.9v0.9h-0.9zM70.8,77.5h0.9v0.9h-0.9zM67.8,77.4h0.9v0.9h-0.9zM69.3,54.3h0.9v0.9h-0.9zM66.8,91.7h0.9v0.9h-0.9zM66.6,81.1h0.9v0.9h-0.9zM68.8,89.1h0.9v0.9h-0.9zM67.4,66.6h0.9v0.9h-0.9zM74.7,72.3h0.9v0.9h-0.9zM72.7,58.1h0.9v0.9h-0.9zM68.8,79.3h0.9v0.9h-0.9zM70.9,68.2h0.9v0.9h-0.9zM66.5,71.8h0.9v0.9h-0.9zM67.3,85.6h0.9v0.9h-0.9zM66.6,78.7h0.9v0.9h-0.9zM72.1,101.6h0.9v0.9h-0.9zM63.9,69.1h0.9v0.9h-0.9zM67.6,99.7h0.9v0.9h-0.9zM69.4,101.6h0.9v0.9h-0.9zM66.4,77.8h0.9v0.9h-0.9zM71.0,89.8h0.9v0.9h-0.9zM63.9,78.3h0.9v0.9h-0.9zM69.0,90.6h0.9v0.9h-0.9zM68.9,101.7h0.9v0.9h-0.9zM69.5,83.2h0.9v0.9h-0.9zM67.7,66.2h0.9v0.9h-0.9zM70.6,92.3h0.9v0.9h-0.9zM70.8,76.9h0.9v0.9h-0.9zM66.1,76.9h0.9v0.9h-0.9zM67.8,81.9h0.9v0.9h-0.9zM70.9,69.6h0.9v0.9h-0.9zM67.3,91.4h0.9v0.9h-0.9zM69.8,70.5h0.9v0.9h-0.9zM66.0,71.3h0.9v0.9h-0.9zM68.7,85.5h0.9v0.9h-0.9zM68.4,73.7h0.9v0.9h-0.9zM68.1,81.0h0.9v0.9h-0.9zM70.0,83.1h0.9v0.9h-0.9zM66.5,66.1h0.9v0.9h-0.9zM72.2,80.9h0.9v0.9h-0.9zM68.1,81.7h0.9v0.9h-0.9zM71.3,77.8h0.9v0.9h-0.9zM69.0,78.8h0.9v0.9h-0.9zM69.9,68.3h0.9v0.9h-0.9zM69.0,96.0h0.9v0.9h-0.9zM71.4,90.4h0.9v0.9h-0.9zM69.3,103.4h0.9v0.9h-0.9zM70.3,101.0h0.9v0.9h-0.9zM65.6,67.1h0.9v0.9h-0.9zM70.5,78.4h0.9v0.9h-0.9zM67.5,69.1h0.9v0.9h-0.9zM72.2,65.8h0.9v0.9h-0.9zM68.8,63.1h0.9v0.9h-0.9zM74.5,75.3h0.9v0.9h-0.9zM66.4,57.8h0.9v0.9h-0.9zM69.4,67.4h0.9v0.9h-0.9zM65.0,97.3h0.9v0.9h-0.9zM66.7,67.6h0.9v0.9h-0.9zM68.9,79.5h0.9v0.9h-0.9zM71.3,83.3h0.9v0.9h-0.9zM72.4,97.4h0.9v0.9h-0.9zM72.9,97.2h0.9v0.9h-0.9zM68.7,89.4h0.9v0.9h-0.9zM68.6,60.9h0.9v0.9h-0.9zM65.7,92.1h0.9v0.9h-0.9zM62.7,70.8h0.9v0.9h-0.9zM65.4,81.2h0.9v0.9h-0.9zM66.0,85.4h0.9v0.9h-0.9zM68.1,75.7h0.9v0.9h-0.9zM66.5,51.9h0.9v0.9h-0.9zM68.7,64.5h0.9v0.9h-0.9zM67.8,87.1h0.9v0.9h-0.9zM71.1,91.6h0.9v0.9h-0.9zM72.2,62.8h0.9v0.9h-0.9zM70.2,103.3h0.9v0.9h-0.9zM69.5,67.0h0.9v0.9h-0.9zM69.5,75.0h0.9v0.9h-0.9zM67.0,96.5h0.9v0.9h-0.9zM68.1,66.9h0.9v0.9h-0.9zM66.5,91.2h0.9v0.9h-0.9zM69.0,97.9h0.9v0.9h-0.9zM67.9,69.2h0.9v0.9h-0.9zM67.0,68.1h0.9v0.9h-0.9zM74.9,84.7h0.9v0.9h-0.9zM67.8,99.1h0.9v0.9h-0.9zM70.1,79.6h0.9v0.9h-0.9zM70.1,85.7h0.9v0.9h-0.9zM67.8,81.6h0.9v0.9h-0.9zM68.1,98.6h0.9v0.9h-0.9zM69.5,92.6h0.9v0.9h-0.9zM70.7,73.4h0.9v0.9h-0.9zM68.9,100.8h0.9v0.9h-0.9zM70.8,93.0h0.9v0.9h-0.9zM67.9,77.2h0.9v0.9h-0.9zM66.4,78.4h0.9v0.9h-0.9zM68.4,62.6h0.9v0.9h-0.9zM71.4,71.7h0.9v0.9h-0.9zM69.2,90.2h0.9v0.9h-0.9zM67.2,57.5h0.9v0.9h-0.9zM70.9,87.6h0.9v0.9h-0.9zM67.9,97.4h0.9v0.9h-0.9zM70.7,69.1h0.9v0.9h-0.9zM68.3,58.2h0.9v0.9h-0.9zM67.9,101.1h0.9v0.9h-0.9zM66.5,93.2h0.9v0.9h-0.9zM64.9,78.0h0.9v0.9h-0.9zM69.6,92.3h0.9v0.9h-0.9zM72.7,49.0h0.9v0.9h-0.9zM74.6,90.1h0.9v0.9h-0.9zM68.7,85.6h0.9v0.9h-0.9zM68.6,73.7h0.9v0.9h-0.9zM68.5,80.3h0.9v0.9h-0.9zM70.2,91.2h0.9v0.9h-0.9zM70.9,90.0h0.9v0.9h-0.9zM66.2,100.9h0.9v0.9h-0.9zM62.0,83.6h0.9v0.9h-0.9zM69.3,74.9h0.9v0.9h-0.9zM73.1,67.3h0.9v0.9h-0.9zM65.7,75.2h0.9v0.9h-0.9zM69.6,92.8h0.9v0.9h-0.9zM68.8,91.1h0.9v0.9h-0.9zM66.8,73.9h0.9v0.9h-0.9zM68.9,63.8h0.9v0.9h-0.9zM69.0,76.7h0.9v0.9h-0.9zM70.2,68.3h0.9v0.9h-0.9zM67.3,74.4h0.9v0.9h-0.9zM67.7,68.5h0.9v0.9h-0.9zM67.9,63.7h0.9v0.9h-0.9zM69.8,91.1h0.9v0.9h-0.9zM68.5,79.5h0.9v0.9h-0.9zM66.4,69.0h0.9v0.9h-0.9zM68.0,69.8h0.9v0.9h-0.9zM65.7,84.3h0.9v0.9h-0.9zM68.5,76.6h0.9v0.9h-0.9zM66.6,81.3h0.9v0.9h-0.9zM66.9,76.2h0.9v0.9h-0.9zM69.0,91.8h0.9v0.9h-0.9zM70.4,73.8h0.9v0.9h-0.9zM71.5,66.4h0.9v0.9h-0.9zM68.1,99.7h0.9v0.9h-0.9zM74.3,83.8h0.9v0.9h-0.9zM67.7,77.0h0.9v0.9h-0.9zM65.6,80.1h0.9v0.9h-0.9zM67.5,71.8h0.9v0.9h-0.9zM71.4,71.5h0.9v0.9h-0.9zM72.6,93.4h0.9v0.9h-0.9zM70.1,74.1h0.9v0.9h-0.9zM67.3,55.0h0.9v0.9h-0.9zM69.2,78.4h0.9v0.9h-0.9zM69.5,73.0h0.9v0.9h-0.9zM69.7,61.8h0.9v0.9h-0.9zM63.2,88.5h0.9v0.9h-0.9zM71.1,39.5h0.9v0.9h-0.9zM71.7,77.3h0.9v0.9h-0.9zM68.1,61.2h0.9v0.9h-0.9zM66.1,91.7h0.9v0.9h-0.9zM66.8,81.5h0.9v0.9h-0.9zM70.7,64.2h0.9v0.9h-0.9zM67.4,66.5h0.9v0.9h-0.9zM65.2,72.8h0.9v0.9h-0.9zM71.2,82.7h0.9v0.9h-0.9zM70.2,80.2h0.9v0.9h-0.9zM67.5,83.1h0.9v0.9h-0.9zM72.9,87.1h0.9v0.9h-0.9zM70.0,55.1h0.9v0.9h-0.9zM66.6,93.1h0.9v0.9h-0.9zM71.5,76.7h0.9v0.9h-0.9zM68.0,75.9h0.9v0.9h-0.9zM70.5,82.3h0.9v0.9h-0.9zM72.2,98.1h0.9v0.9h-0.9zM67.8,73.8h0.9v0.9h-0.9zM68.0,70.1h0.9v0.9h-0.9zM67.5,81.1h0.9v0.9h-0.9zM70.7,60.6h0.9v0.9h-0.9zM65.2,71.6h0.9v0.9h-0.9zM67.8,88.2h0.9v0.9h-0.9zM66.6,102.5h0.9v0.9h-0.9zM67.3,79.1h0.9v0.9h-0.9zM68.7,97.9h0.9v0.9h-0.9zM69.3,82.4h0.9v0.9h-0.9zM67.2,84.3h0.9v0.9h-0.9zM69.5,77.3h0.9v0.9h-0.9zM68.5,57.1h0.9v0.9h-0.9zM67.3,98.0h0.9v0.9h-0.9zM72.0,81.0h0.9v0.9h-0.9zM67.5,95.6h0.9v0.9h-0.9zM67.0,100.6h0.9v0.9h-0.9zM71.3,67.6h0.9v0.9h-0.9zM68.0,65.6h0.9v0.9h-0.9zM69.2,76.6h0.9v0.9h-0.9zM64.9,67.8h0.9v0.9h-0.9zM69.1,61.4h0.9v0.9h-0.9zM71.1,88.1h0.9v0.9h-0.9zM68.1,101.0h0.9v0.9h-0.9zM66.3,91.3h0.9v0.9h-0.9zM65.3,77.6h0.9v0.9h-0.9zM70.1,74.8h0.9v0.9h-0.9zM68.3,90.8h0.9v0.9h-0.9zM72.2,99.7h0.9v0.9h-0.9zM69.6,78.5h0.9v0.9h-0.9zM73.0,52.7h0.9v0.9h-0.9zM70.6,81.4h0.9v0.9h-0.9zM70.2,86.3h0.9v0.9h-0.9zM68.1,82.0h0.9v0.9h-0.9zM68.4,97.8h0.9v0.9h-0.9zM67.9,74.6h0.9v0.9h-0.9zM70.1,90.8h0.9v0.9h-0.9zM69.6,85.9h0.9v0.9h-0.9zM72.1,97.2h0.9v0.9h-0.9zM69.0,79.2h0.9v0.9h-0.9zM70.1,56.6h0.9v0.9h-0.9zM67.3,72.4h0.9v0.9h-0.9zM68.9,76.8h0.9v0.9h-0.9zM74.5,92.0h0.9v0.9h-0.9zM68.5,77.7h0.9v0.9h-0.9zM71.5,93.3h0.9v0.9h-0.9zM70.8,98.5h0.9v0.9h-0.9zM67.7,73.0h0.9v0.9h-0.9zM66.8,83.4h0.9v0.9h-0.9zM70.9,67.7h0.9v0.9h-0.9zM67.2,63.8h0.9v0.9h-0.9zM73.3,92.9h0.9v0.9h-0.9zM69.1,65.4h0.9v0.9h-0.9zM66.0,73.2h0.9v0.9h-0.9zM68.6,64.7h0.9v0.9h-0.9zM68.0,98.6h0.9v0.9h-0.9zM68.6,83.4h0.9v0.9h-0.9zM63.5,78.3h0.9v0.9h-0.9zM68.2,72.6h0.9v0.9h-0.9zM65.2,81.0h0.9v0.9h-0.9zM66.1,74.6h0.9v0.9h-0.9zM64.7,80.7h0.9v0.9h-0.9zM70.7,70.5h0.9v0.9h-0.9zM69.3,61.3h0.9v0.9h-0.9zM69.9,89.4h0.9v0.9h-0.9zM67.6,94.1h0.9v0.9h-0.9zM66.4,82.6h0.9v0.9h-0.9zM72.6,81.7h0.9v0.9h-0.9zM65.8,97.7h0.9v0.9h-0.9zM69.8,78.2h0.9v0.9h-0.9zM64.2,56.4h0.9v0.9h-0.9zM64.9,102.2h0.9v0.9h-0.9zM69.2,70.4h0.9v0.9h-0.9zM71.3,102.0h0.9v0.9h-0.9zM66.5,88.6h0.9v0.9h-0.9zM64.6,87.1h0.9v0.9h-0.9zM72.9,62.7h0.9v0.9h-0.9zM68.7,73.3h0.9v0.9h-0.9zM68.3,83.2h0.9v0.9h-0.9zM69.2,94.2h0.9v0.9h-0.9zM69.8,96.3h0.9v0.9h-0.9zM71.0,97.0h0.9v0.9h-0.9zM66.9,87.6h0.9v0.9h-0.9zM67.6,70.5h0.9v0.9h-0.9zM73.2,86.0h0.9v0.9h-0.9zM68.6,53.3h0.9v0.9h-0.9zM68.0,92.5h0.9v0.9h-0.9zM68.0,74.6h0.9v0.9h-0.9zM72.1,77.8h0.9v0.9h-0.9zM67.7,80.6h0.9v0.9h-0.9zM68.0,96.4h0.9v0.9h-0.9zM69.9,81.1h0.9v0.9h-0.9zM67.7,78.9h0.9v0.9h-0.9zM72.6,77.8h0.9v0.9h-0.9zM70.1,60.5h0.9v0.9h-0.9zM69.3,91.4h0.9v0.9h-0.9zM71.6,86.3h0.9v0.9h-0.9zM69.9,86.4h0.9v0.9h-0.9zM69.0,70.9h0.9v0.9h-0.9zM69.9,80.5h0.9v0.9h-0.9zM70.1,92.6h0.9v0.9h-0.9zM68.9,76.0h0.9v0.9h-0.9zM69.3,65.0h0.9v0.9h-0.9zM69.2,69.9h0.9v0.9h-0.9zM69.6,83.7h0.9v0.9h-0.9zM68.0,65.6h0.9v0.9h-0.9zM68.6,72.7h0.9v0.9h-0.9zM68.2,91.5h0.9v0.9h-0.9zM70.8,64.4h0.9v0.9h-0.9zM70.8,100.6h0.9v0.9h-0.9zM71.2,85.8h0.9v0.9h-0.9zM67.8,61.2h0.9v0.9h-0.9zM68.7,85.9h0.9v0.9h-0.9zM66.0,65.4h0.9v0.9h-0.9zM73.3,83.6h0.9v0.9h-0.9zM70.4,74.0h0.9v0.9h-0.9zM64.9,79.6h0.9v0.9h-0.9zM71.7,72.9h0.9v0.9h-0.9zM64.2,79.6h0.9v0.9h-0.9zM67.9,82.2h0.9v0.9h-0.9zM66.0,77.8h0.9v0.9h-0.9zM67.2,94.1h0.9v0.9h-0.9zM68.9,93.9h0.9v0.9h-0.9zM68.4,52.9h0.9v0.9h-0.9zM63.8,89.3h0.9v0.9h-0.9zM70.6,94.0h0.9v0.9h-0.9zM68.3,57.6h0.9v0.9h-0.9zM67.3,87.5h0.9v0.9h-0.9zM71.8,77.3h0.9v0.9h-0.9zM67.2,71.4h0.9v0.9h-0.9zM71.0,93.9h0.9v0.9h-0.9zM64.2,98.6h0.9v0.9h-0.9zM66.3,61.9h0.9v0.9h-0.9zM64.7,72.1h0.9v0.9h-0.9zM65.6,72.8h0.9v0.9h-0.9zM68.9,87.7h0.9v0.9h-0.9zM67.4,60.3h0.9v0.9h-0.9zM67.5,72.7h0.9v0.9h-0.9zM64.2,84.0h0.9v0.9h-0.9zM65.0,58.3h0.9v0.9h-0.9zM72.2,94.9h0.9v0.9h-0.9zM72.0,83.6h0.9v0.9h-0.9zM67.5,80.8h0.9v0.9h-0.9zM65.3,92.1h0.9v0.9h-0.9zM69.2,77.8h0.9v0.9h-0.9zM64.1,80.5h0.9v0.9h-0.9zM72.4,101.8h0.9v0.9h-0.9zM70.6,77.2h0.9v0.9h-0.9zM68.9,89.6h0.9v0.9h-0.9zM69.0,96.3h0.9v0.9h-0.9zM66.9,50.3h0.9v0.9h-0.9zM62.7,69.6h0.9v0.9h-0.9zM65.2,91.1h0.9v0.9h-0.9zM71.1,82.0h0.9v0.9h-0.9zM69.8,83.1h0.9v0.9h-0.9zM68.9,75.6h0.9v0.9h-0.9zM67.6,98.3h0.9v0.9h-0.9zM67.9,81.4h0.9v0.9h-0.9zM71.4,95.5h0.9v0.9h-0.9zM67.6,85.5h0.9v0.9h-0.9zM66.1,83.8h0.9v0.9h-0.9zM69.3,82.0h0.9v0.9h-0.9zM68.9,87.0h0.9v0.9h-0.9zM62.5,70.7h0.9v0.9h-0.9zM68.7,75.3h0.9v0.9h-0.9zM66.2,78.8h0.9v0.9h-0.9zM72.4,78.9h0.9v0.9h-0.9zM67.0,75.4h0.9v0.9h-0.9zM65.7,88.6h0.9v0.9h-0.9zM66.2,94.5h0.9v0.9h-0.9zM70.7,89.8h0.9v0.9h-0.9zM71.0,80.8h0.9v0.9h-0.9zM64.3,81.1h0.9v0.9h-0.9zM70.1,60.9h0.9v0.9h-0.9zM65.6,97.0h0.9v0.9h-0.9zM69.6,100.4h0.9v0.9h-0.9zM70.1,82.9h0.9v0.9h-0.9zM69.6,93.6h0.9v0.9h-0.9zM68.5,79.1h0.9v0.9h-0.9zM69.3,77.7h0.9v0.9h-0.9zM74.3,71.5h0.9v0.9h-0.9zM64.9,64.3h0.9v0.9h-0.9zM71.0,76.5h0.9v0.9h-0.9zM68.9,79.1h0.9v0.9h-0.9zM69.2,62.1h0.9v0.9h-0.9zM68.7,74.1h0.9v0.9h-0.9zM71.1,90.5h0.9v0.9h-0.9zM65.5,68.8h0.9v0.9h-0.9zM69.9,98.4h0.9v0.9h-0.9zM70.4,79.9h0.9v0.9h-0.9zM71.2,49.7h0.9v0.9h-0.9zM67.2,68.7h0.9v0.9h-0.9zM66.1,89.7h0.9v0.9h-0.9zM69.2,85.9h0.9v0.9h-0.9zM68.2,90.5h0.9v0.9h-0.9zM70.4,74.2h0.9v0.9h-0.9zM70.8,69.3h0.9v0.9h-0.9zM72.8,64.2h0.9v0.9h-0.9zM67.8,67.2h0.9v0.9h-0.9zM68.6,100.0h0.9v0.9h-0.9zM71.9,87.3h0.9v0.9h-0.9zM67.1,94.4h0.9v0.9h-0.9zM61.6,71.5h0.9v0.9h-0.9zM70.8,81.5h0.9v0.9h-0.9zM74.5,72.7h0.9v0.9h-0.9zM65.3,79.1h0.9v0.9h-0.9zM64.3,84.2h0.9v0.9h-0.9zM71.6,72.8h0.9v0.9h-0.9zM67.4,65.4h0.9v0.9h-0.9zM70.4,93.4h0.9v0.9h-0.9zM70.0,85.4h0.9v0.9h-0.9zM70.9,80.3h0.9v0.9h-0.9zM70.3,93.2h0.9v0.9h-0.9zM71.7,89.0h0.9v0.9h-0.9zM68.7,91.7h0.9v0.9h-0.9zM64.8,57.8h0.9v0.9h-0.9zM72.4,83.9h0.9v0.9h-0.9zM66.0,74.0h0.9v0.9h-0.9zM68.2,83.0h0.9v0.9h-0.9zM66.7,95.7h0.9v0.9h-0.9zM70.2,58.9h0.9v0.9h-0.9zM65.6,82.8h0.9v0.9h-0.9zM69.2,76.2h0.9v0.9h-0.9zM68.6,84.2h0.9v0.9h-0.9zM65.8,82.8h0.9v0.9h-0.9zM74.1,73.1h0.9v0.9h-0.9zM66.1,91.1h0.9v0.9h-0.9zM71.8,96.4h0.9v0.9h-0.9zM67.0,81.0h0.9v0.9h-0.9zM69.0,79.1h0.9v0.9h-0.9zM69.5,96.9h0.9v0.9h-0.9zM69.9,81.9h0.9v0.9h-0.9zM70.3,83.2h0.9v0.9h-0.9zM71.5,94.6h0.9v0.9h-0.9zM73.6,57.3h0.9v0.9h-0.9zM68.8,77.8h0.9v0.9h-0.9zM66.8,83.0h0.9v0.9h-0.9zM69.8,89.2h0.9v0.9h-0.9zM68.2,63.8h0.9v0.9h-0.9zM69.9,90.4h0.9v0.9h-0.9zM73.7,94.9h0.9v0.9h-0.9zM68.6,66.2h0.9v0.9h-0.9zM75.2,72.7h0.9v0.9h-0.9zM69.0,92.3h0.9v0.9h-0.9zM69.8,100.4h0.9v0.9h-0.9zM66.0,72.5h0.9v0.9h-0.9zM69.0,65.0h0.9v0.9h-0.9zM67.0,101.1h0.9v0.9h-0.9zM69.3,80.6h0.9v0.9h-0.9zM67.1,82.7h0.9v0.9h-0.9zM68.5,67.1h0.9v0.9h-0.9zM70.5,64.3h0.9v0.9h-0.9zM71.7,77.3h0.9v0.9h-0.9zM62.9,60.6h0.9v0.9h-0.9zM69.2,70.0h0.9v0.9h-0.9zM73.0,101.1h0.9v0.9h-0.9zM73.7,94.4h0.9v0.9h-0.9zM71.9,73.6h0.9v0.9h-0.9zM71.7,76.0h0.9v0.9h-0.9zM68.4,63.2h0.9v0.9h-0.9zM68.7,87.6h0.9v0.9h-0.9zM68.4,66.7h0.9v0.9h-0.9zM70.8,94.6h0.9v0.9h-0.9z" fill="#000" fill-opacity="0.5"/>
<path d="M78.2,60.5h0.9v0.9h-0.9zM104.7,25.5h0.9v0.9h-0.9zM54.7,53.5h0.9v0.9h-0.9zM58.6,52.8h0.9v0.9h-0.9zM68.3,75.1h0.9v0.9h-0.9zM80.7,47.5h0.9v0.9h-0.9zM75.7,27.7h0.9v0.9h-0.9zM115.0,79.0h0.9v0.9h-0.9zM61.7,51.4h0.9v0.9h-0.9zM58.0,62.0h0.9v0.9h-0.9zM59.4,42.2h0.9v0.9h-0.9zM112.8,55.4h0.9v0.9h-0.9zM93.1,46.1h0.9v0.9h-0.9zM111.6,47.9h0.9v0.9h-0.9zM62.2,42.9h0.9v0.9h-0.9zM77.9,44.7h0.9v0.9h-0.9zM87.1,40.0h0.9v0.9h-0.9zM63.4,25.2h0.9v0.9h-0.9zM114.6,69.8h0.9v0.9h-0.9zM56.2,85.8h0.9v0.9h-0.9zM80.8,25.1h0.9v0.9h-0.9zM109.1,53.9h0.9v0.9h-0.9zM61.3,67.9h0.9v0.9h-0.9zM77.9,25.5h0.9v0.9h-0.9zM59.2,62.9h0.9v0.9h-0.9z" fill="#555" fill-opacity="0.4"/>
</g>
<rect x="50.8" y="17.5" width="87.5" height="87" fill="none" stroke="#666" stroke-width="1"/>
<rect x="74.5" y="40.8" width="35.8" height="25.4" fill="none" stroke="#555" stroke-width="0.9"/>
<line x1="104.5" y1="52.4" x2="155" y2="52.4" stroke="#000" stroke-width="1"/>
<polygon points="159.5,52.4 153.5,49.1 153.5,55.699999999999996" fill="#000"/>
<line x1="37.8" y1="93" x2="37.8" y2="119.5" stroke="#000" stroke-width="1.1"/>
<line x1="37.8" y1="119.5" x2="65" y2="119.5" stroke="#000" stroke-width="1.1"/>
<polygon points="37.8,88.3 34.38999999999999,94.5 41.21,94.5" fill="#000"/>
<polygon points="69.4,119.5 63.2,116.09 63.2,122.91" fill="#000"/>
<text x="40.4" y="83.7" font-size="8.8" font-weight="bold" text-anchor="start" transform="rotate(-90 40.4 83.7)" fill="#000">CD45</text>
<text x="72.9" y="122.5" font-size="8.8" font-weight="bold" text-anchor="start" fill="#000">EPCR</text>
<path d="M169.2,54.3h0.9v0.9h-0.9zM161.5,55.2h0.9v0.9h-0.9zM181.7,67.6h0.9v0.9h-0.9zM168.5,48.1h0.9v0.9h-0.9zM162.7,54.7h0.9v0.9h-0.9zM187.7,60.5h0.9v0.9h-0.9zM162.9,41.8h0.9v0.9h-0.9zM175.6,48.2h0.9v0.9h-0.9zM164.3,58.1h0.9v0.9h-0.9zM174.0,56.2h0.9v0.9h-0.9zM168.7,58.5h0.9v0.9h-0.9zM166.6,36.9h0.9v0.9h-0.9zM170.0,34.4h0.9v0.9h-0.9zM179.5,53.6h0.9v0.9h-0.9zM176.4,43.8h0.9v0.9h-0.9zM173.2,41.7h0.9v0.9h-0.9zM169.5,46.2h0.9v0.9h-0.9zM173.7,38.3h0.9v0.9h-0.9zM161.6,50.0h0.9v0.9h-0.9zM166.2,51.7h0.9v0.9h-0.9zM166.3,35.2h0.9v0.9h-0.9zM175.6,49.4h0.9v0.9h-0.9zM175.6,43.9h0.9v0.9h-0.9zM167.3,58.4h0.9v0.9h-0.9zM173.9,46.5h0.9v0.9h-0.9zM170.7,52.4h0.9v0.9h-0.9zM164.2,49.5h0.9v0.9h-0.9zM162.9,30.3h0.9v0.9h-0.9zM171.6,47.9h0.9v0.9h-0.9zM174.9,52.0h0.9v0.9h-0.9zM175.3,54.1h0.9v0.9h-0.9zM162.1,58.0h0.9v0.9h-0.9zM190.2,41.9h0.9v0.9h-0.9zM160.5,53.2h0.9v0.9h-0.9zM176.9,56.1h0.9v0.9h-0.9zM181.6,34.5h0.9v0.9h-0.9zM172.9,51.2h0.9v0.9h-0.9zM179.5,39.0h0.9v0.9h-0.9zM170.2,43.7h0.9v0.9h-0.9zM168.8,45.7h0.9v0.9h-0.9zM168.9,31.0h0.9v0.9h-0.9zM169.8,47.6h0.9v0.9h-0.9zM164.8,41.1h0.9v0.9h-0.9zM163.5,61.5h0.9v0.9h-0.9zM177.0,45.3h0.9v0.9h-0.9zM174.6,76.7h0.9v0.9h-0.9zM162.7,51.3h0.9v0.9h-0.9zM165.5,60.4h0.9v0.9h-0.9zM178.4,45.9h0.9v0.9h-0.9zM174.7,39.8h0.9v0.9h-0.9zM182.4,44.3h0.9v0.9h-0.9zM166.1,30.8h0.9v0.9h-0.9zM186.2,36.2h0.9v0.9h-0.9zM162.7,45.2h0.9v0.9h-0.9zM179.2,47.5h0.9v0.9h-0.9zM169.9,47.2h0.9v0.9h-0.9zM176.4,46.7h0.9v0.9h-0.9zM171.2,46.3h0.9v0.9h-0.9zM161.6,59.1h0.9v0.9h-0.9zM164.8,35.1h0.9v0.9h-0.9zM166.7,47.3h0.9v0.9h-0.9zM176.2,33.7h0.9v0.9h-0.9zM160.5,48.6h0.9v0.9h-0.9zM172.9,37.1h0.9v0.9h-0.9zM161.5,48.6h0.9v0.9h-0.9zM168.9,32.4h0.9v0.9h-0.9zM163.4,60.4h0.9v0.9h-0.9zM162.0,56.5h0.9v0.9h-0.9zM182.1,41.3h0.9v0.9h-0.9zM164.9,52.7h0.9v0.9h-0.9zM160.7,52.0h0.9v0.9h-0.9zM179.2,49.4h0.9v0.9h-0.9zM172.5,45.6h0.9v0.9h-0.9zM177.6,39.6h0.9v0.9h-0.9zM182.0,46.8h0.9v0.9h-0.9zM167.6,32.2h0.9v0.9h-0.9zM166.7,49.1h0.9v0.9h-0.9zM179.4,32.4h0.9v0.9h-0.9zM169.1,40.8h0.9v0.9h-0.9zM161.0,47.0h0.9v0.9h-0.9zM164.3,54.9h0.9v0.9h-0.9zM173.9,43.9h0.9v0.9h-0.9zM171.0,38.3h0.9v0.9h-0.9zM162.1,40.3h0.9v0.9h-0.9zM169.6,39.4h0.9v0.9h-0.9zM166.8,39.2h0.9v0.9h-0.9zM171.8,36.7h0.9v0.9h-0.9zM169.9,47.9h0.9v0.9h-0.9zM177.3,40.3h0.9v0.9h-0.9zM161.4,33.5h0.9v0.9h-0.9zM175.7,41.4h0.9v0.9h-0.9zM177.4,46.3h0.9v0.9h-0.9zM167.9,30.2h0.9v0.9h-0.9zM164.9,54.1h0.9v0.9h-0.9zM165.4,53.1h0.9v0.9h-0.9zM191.0,57.1h0.9v0.9h-0.9zM172.4,35.8h0.9v0.9h-0.9zM166.0,41.1h0.9v0.9h-0.9zM171.4,28.8h0.9v0.9h-0.9zM163.5,54.2h0.9v0.9h-0.9zM171.1,53.7h0.9v0.9h-0.9zM176.4,36.7h0.9v0.9h-0.9zM170.3,47.7h0.9v0.9h-0.9zM163.9,56.2h0.9v0.9h-0.9zM173.7,57.3h0.9v0.9h-0.9zM167.3,53.3h0.9v0.9h-0.9zM169.6,38.5h0.9v0.9h-0.9zM169.4,32.0h0.9v0.9h-0.9zM168.6,48.6h0.9v0.9h-0.9zM175.2,37.5h0.9v0.9h-0.9zM160.0,40.4h0.9v0.9h-0.9zM189.7,48.3h0.9v0.9h-0.9zM164.3,40.9h0.9v0.9h-0.9zM183.3,36.5h0.9v0.9h-0.9zM169.1,46.3h0.9v0.9h-0.9zM164.5,40.5h0.9v0.9h-0.9zM179.8,59.8h0.9v0.9h-0.9zM167.9,53.4h0.9v0.9h-0.9zM173.5,48.0h0.9v0.9h-0.9zM169.0,58.0h0.9v0.9h-0.9zM174.3,45.0h0.9v0.9h-0.9zM168.2,55.4h0.9v0.9h-0.9zM165.5,40.5h0.9v0.9h-0.9zM167.9,42.5h0.9v0.9h-0.9zM179.5,50.2h0.9v0.9h-0.9zM169.3,42.2h0.9v0.9h-0.9zM180.6,51.0h0.9v0.9h-0.9zM185.7,55.2h0.9v0.9h-0.9zM168.4,42.0h0.9v0.9h-0.9zM167.9,48.6h0.9v0.9h-0.9zM176.0,51.4h0.9v0.9h-0.9zM181.8,33.3h0.9v0.9h-0.9zM170.2,34.2h0.9v0.9h-0.9zM162.3,41.6h0.9v0.9h-0.9zM165.1,38.2h0.9v0.9h-0.9zM167.6,55.7h0.9v0.9h-0.9zM161.7,26.1h0.9v0.9h-0.9zM165.5,54.9h0.9v0.9h-0.9zM165.8,50.6h0.9v0.9h-0.9zM161.9,59.6h0.9v0.9h-0.9zM173.3,56.5h0.9v0.9h-0.9zM167.9,58.6h0.9v0.9h-0.9zM170.5,42.6h0.9v0.9h-0.9zM165.2,47.5h0.9v0.9h-0.9zM163.2,36.2h0.9v0.9h-0.9zM171.0,53.4h0.9v0.9h-0.9zM167.8,54.6h0.9v0.9h-0.9zM181.9,35.6h0.9v0.9h-0.9zM171.9,38.3h0.9v0.9h-0.9zM165.2,48.6h0.9v0.9h-0.9zM176.3,51.9h0.9v0.9h-0.9zM174.9,63.4h0.9v0.9h-0.9zM167.2,56.9h0.9v0.9h-0.9zM180.9,51.4h0.9v0.9h-0.9zM167.8,32.4h0.9v0.9h-0.9zM169.5,53.8h0.9v0.9h-0.9zM168.1,45.4h0.9v0.9h-0.9zM181.0,41.4h0.9v0.9h-0.9zM162.9,47.3h0.9v0.9h-0.9zM178.4,52.3h0.9v0.9h-0.9zM170.5,42.5h0.9v0.9h-0.9zM179.3,55.0h0.9v0.9h-0.9zM174.6,41.3h0.9v0.9h-0.9zM160.3,44.3h0.9v0.9h-0.9zM166.2,31.0h0.9v0.9h-0.9zM169.8,57.7h0.9v0.9h-0.9zM160.4,43.8h0.9v0.9h-0.9zM183.6,48.7h0.9v0.9h-0.9zM165.8,48.7h0.9v0.9h-0.9zM175.9,37.9h0.9v0.9h-0.9zM169.3,32.3h0.9v0.9h-0.9zM176.3,49.8h0.9v0.9h-0.9zM175.5,58.0h0.9v0.9h-0.9zM170.3,49.1h0.9v0.9h-0.9zM173.0,51.2h0.9v0.9h-0.9zM162.0,44.5h0.9v0.9h-0.9zM168.9,47.3h0.9v0.9h-0.9zM164.4,45.8h0.9v0.9h-0.9zM172.2,48.7h0.9v0.9h-0.9zM174.4,54.4h0.9v0.9h-0.9zM174.2,55.7h0.9v0.9h-0.9zM176.3,59.6h0.9v0.9h-0.9zM174.7,41.4h0.9v0.9h-0.9zM187.5,57.2h0.9v0.9h-0.9zM179.4,53.6h0.9v0.9h-0.9zM170.4,36.7h0.9v0.9h-0.9zM173.3,43.8h0.9v0.9h-0.9zM167.0,27.7h0.9v0.9h-0.9zM181.6,36.5h0.9v0.9h-0.9zM161.7,51.2h0.9v0.9h-0.9zM174.3,39.8h0.9v0.9h-0.9zM169.9,49.3h0.9v0.9h-0.9zM171.2,51.7h0.9v0.9h-0.9zM175.8,43.7h0.9v0.9h-0.9zM167.1,38.1h0.9v0.9h-0.9zM175.6,52.3h0.9v0.9h-0.9zM165.4,68.2h0.9v0.9h-0.9zM169.7,49.8h0.9v0.9h-0.9zM172.4,44.9h0.9v0.9h-0.9zM172.4,35.2h0.9v0.9h-0.9zM167.0,63.7h0.9v0.9h-0.9zM176.6,43.3h0.9v0.9h-0.9zM165.6,33.4h0.9v0.9h-0.9zM169.1,45.4h0.9v0.9h-0.9zM165.2,32.9h0.9v0.9h-0.9zM171.2,50.8h0.9v0.9h-0.9zM178.6,51.6h0.9v0.9h-0.9zM181.4,57.8h0.9v0.9h-0.9zM169.2,37.5h0.9v0.9h-0.9zM173.3,55.7h0.9v0.9h-0.9zM175.2,42.0h0.9v0.9h-0.9zM181.0,48.9h0.9v0.9h-0.9zM165.9,35.0h0.9v0.9h-0.9zM174.5,31.5h0.9v0.9h-0.9zM160.2,35.1h0.9v0.9h-0.9zM182.8,62.4h0.9v0.9h-0.9zM168.3,43.5h0.9v0.9h-0.9zM175.3,58.2h0.9v0.9h-0.9zM163.9,66.9h0.9v0.9h-0.9zM168.4,57.2h0.9v0.9h-0.9zM164.7,64.9h0.9v0.9h-0.9zM168.4,35.5h0.9v0.9h-0.9zM184.7,40.8h0.9v0.9h-0.9zM170.0,35.7h0.9v0.9h-0.9zM175.1,48.7h0.9v0.9h-0.9zM167.8,43.4h0.9v0.9h-0.9zM165.7,40.5h0.9v0.9h-0.9zM176.7,34.4h0.9v0.9h-0.9zM161.2,50.7h0.9v0.9h-0.9zM187.0,45.1h0.9v0.9h-0.9zM167.6,44.7h0.9v0.9h-0.9zM171.9,45.4h0.9v0.9h-0.9zM178.2,55.9h0.9v0.9h-0.9zM174.1,61.2h0.9v0.9h-0.9zM168.2,42.0h0.9v0.9h-0.9zM192.4,29.5h0.9v0.9h-0.9zM172.7,37.3h0.9v0.9h-0.9zM178.0,28.0h0.9v0.9h-0.9zM169.0,43.5h0.9v0.9h-0.9zM161.9,57.1h0.9v0.9h-0.9zM167.0,51.1h0.9v0.9h-0.9zM166.0,48.3h0.9v0.9h-0.9zM166.6,47.7h0.9v0.9h-0.9zM169.2,40.8h0.9v0.9h-0.9zM173.3,45.3h0.9v0.9h-0.9zM162.7,37.5h0.9v0.9h-0.9zM173.3,59.0h0.9v0.9h-0.9zM160.1,43.2h0.9v0.9h-0.9zM173.4,56.4h0.9v0.9h-0.9zM175.4,36.3h0.9v0.9h-0.9zM170.3,55.1h0.9v0.9h-0.9zM171.8,45.0h0.9v0.9h-0.9zM161.1,48.5h0.9v0.9h-0.9zM169.5,47.3h0.9v0.9h-0.9zM181.3,57.7h0.9v0.9h-0.9zM164.0,49.1h0.9v0.9h-0.9zM167.7,47.9h0.9v0.9h-0.9zM182.3,55.3h0.9v0.9h-0.9zM170.3,41.0h0.9v0.9h-0.9zM168.8,50.3h0.9v0.9h-0.9zM166.2,56.9h0.9v0.9h-0.9zM170.2,36.3h0.9v0.9h-0.9zM185.4,20.8h0.9v0.9h-0.9zM168.0,45.9h0.9v0.9h-0.9zM177.4,57.1h0.9v0.9h-0.9zM181.0,61.1h0.9v0.9h-0.9zM172.4,48.0h0.9v0.9h-0.9zM177.7,46.8h0.9v0.9h-0.9zM160.5,42.9h0.9v0.9h-0.9zM175.0,52.5h0.9v0.9h-0.9zM161.7,57.8h0.9v0.9h-0.9zM172.3,33.4h0.9v0.9h-0.9zM173.5,56.1h0.9v0.9h-0.9zM174.0,44.2h0.9v0.9h-0.9zM164.0,57.1h0.9v0.9h-0.9zM171.7,46.9h0.9v0.9h-0.9zM167.0,37.7h0.9v0.9h-0.9zM178.3,53.9h0.9v0.9h-0.9zM164.9,60.8h0.9v0.9h-0.9zM168.3,37.9h0.9v0.9h-0.9zM177.4,59.5h0.9v0.9h-0.9zM167.1,36.0h0.9v0.9h-0.9zM169.5,25.1h0.9v0.9h-0.9zM170.4,60.8h0.9v0.9h-0.9zM172.1,40.4h0.9v0.9h-0.9zM175.3,42.5h0.9v0.9h-0.9zM179.5,43.8h0.9v0.9h-0.9zM185.4,43.8h0.9v0.9h-0.9zM171.4,38.5h0.9v0.9h-0.9zM160.4,50.1h0.9v0.9h-0.9zM172.6,38.2h0.9v0.9h-0.9zM174.2,43.3h0.9v0.9h-0.9zM165.8,46.3h0.9v0.9h-0.9zM173.0,53.6h0.9v0.9h-0.9zM179.3,50.4h0.9v0.9h-0.9zM164.5,40.8h0.9v0.9h-0.9zM172.8,36.2h0.9v0.9h-0.9zM168.7,43.5h0.9v0.9h-0.9zM169.3,48.6h0.9v0.9h-0.9zM177.8,61.8h0.9v0.9h-0.9zM176.7,56.1h0.9v0.9h-0.9zM161.9,56.4h0.9v0.9h-0.9zM179.8,34.8h0.9v0.9h-0.9zM189.0,41.9h0.9v0.9h-0.9zM170.5,39.8h0.9v0.9h-0.9zM165.7,56.7h0.9v0.9h-0.9zM171.9,43.6h0.9v0.9h-0.9zM178.7,38.5h0.9v0.9h-0.9zM163.6,41.9h0.9v0.9h-0.9zM164.4,53.2h0.9v0.9h-0.9zM168.3,37.5h0.9v0.9h-0.9zM166.5,29.1h0.9v0.9h-0.9zM171.2,47.9h0.9v0.9h-0.9zM174.6,44.9h0.9v0.9h-0.9zM173.0,38.6h0.9v0.9h-0.9zM170.2,48.4h0.9v0.9h-0.9zM160.9,52.3h0.9v0.9h-0.9zM171.1,47.5h0.9v0.9h-0.9zM166.4,65.1h0.9v0.9h-0.9zM170.0,40.1h0.9v0.9h-0.9zM163.6,52.3h0.9v0.9h-0.9zM168.4,39.9h0.9v0.9h-0.9zM164.6,55.4h0.9v0.9h-0.9zM170.6,56.5h0.9v0.9h-0.9zM169.9,36.3h0.9v0.9h-0.9zM176.5,49.9h0.9v0.9h-0.9zM165.1,44.2h0.9v0.9h-0.9zM162.7,54.5h0.9v0.9h-0.9zM166.9,51.3h0.9v0.9h-0.9zM172.0,44.7h0.9v0.9h-0.9zM172.8,44.8h0.9v0.9h-0.9zM161.1,43.2h0.9v0.9h-0.9zM161.1,53.8h0.9v0.9h-0.9zM174.9,41.7h0.9v0.9h-0.9zM174.7,49.2h0.9v0.9h-0.9zM177.3,38.6h0.9v0.9h-0.9zM170.2,38.1h0.9v0.9h-0.9zM164.9,59.3h0.9v0.9h-0.9zM173.7,54.0h0.9v0.9h-0.9zM164.1,28.7h0.9v0.9h-0.9zM178.3,55.2h0.9v0.9h-0.9zM164.5,59.2h0.9v0.9h-0.9zM168.6,52.5h0.9v0.9h-0.9zM168.6,61.3h0.9v0.9h-0.9zM166.1,27.7h0.9v0.9h-0.9zM167.6,48.7h0.9v0.9h-0.9zM172.1,40.5h0.9v0.9h-0.9zM168.3,36.8h0.9v0.9h-0.9zM168.2,47.8h0.9v0.9h-0.9zM171.8,61.8h0.9v0.9h-0.9zM173.2,36.6h0.9v0.9h-0.9zM170.5,46.9h0.9v0.9h-0.9zM162.5,53.5h0.9v0.9h-0.9zM184.3,53.1h0.9v0.9h-0.9zM175.8,56.6h0.9v0.9h-0.9zM169.0,55.7h0.9v0.9h-0.9zM163.9,48.6h0.9v0.9h-0.9zM175.3,58.7h0.9v0.9h-0.9zM167.8,44.4h0.9v0.9h-0.9zM173.5,46.3h0.9v0.9h-0.9zM171.0,54.2h0.9v0.9h-0.9zM164.3,54.9h0.9v0.9h-0.9zM172.8,44.6h0.9v0.9h-0.9zM160.6,41.3h0.9v0.9h-0.9zM169.7,55.4h0.9v0.9h-0.9zM171.4,36.9h0.9v0.9h-0.9zM176.4,50.6h0.9v0.9h-0.9zM173.3,38.2h0.9v0.9h-0.9zM161.7,55.1h0.9v0.9h-0.9zM180.5,50.3h0.9v0.9h-0.9zM168.6,43.0h0.9v0.9h-0.9zM169.3,58.0h0.9v0.9h-0.9zM164.6,56.4h0.9v0.9h-0.9zM164.7,52.2h0.9v0.9h-0.9zM180.3,40.7h0.9v0.9h-0.9zM176.8,46.9h0.9v0.9h-0.9zM163.0,48.8h0.9v0.9h-0.9zM174.8,40.6h0.9v0.9h-0.9zM168.0,41.9h0.9v0.9h-0.9zM164.3,45.1h0.9v0.9h-0.9zM176.1,42.6h0.9v0.9h-0.9zM179.3,43.6h0.9v0.9h-0.9zM164.9,56.6h0.9v0.9h-0.9zM180.5,41.2h0.9v0.9h-0.9zM174.4,36.6h0.9v0.9h-0.9zM167.0,43.7h0.9v0.9h-0.9zM175.3,35.8h0.9v0.9h-0.9zM166.2,40.8h0.9v0.9h-0.9zM170.7,36.0h0.9v0.9h-0.9zM160.0,72.2h0.9v0.9h-0.9zM171.6,33.6h0.9v0.9h-0.9zM176.2,35.3h0.9v0.9h-0.9zM179.3,39.5h0.9v0.9h-0.9zM161.9,51.2h0.9v0.9h-0.9zM185.1,52.3h0.9v0.9h-0.9zM174.9,36.4h0.9v0.9h-0.9zM177.5,48.2h0.9v0.9h-0.9zM170.0,59.3h0.9v0.9h-0.9zM163.8,56.8h0.9v0.9h-0.9zM176.2,41.4h0.9v0.9h-0.9zM170.9,48.0h0.9v0.9h-0.9zM174.3,38.3h0.9v0.9h-0.9zM168.3,47.8h0.9v0.9h-0.9zM170.2,47.2h0.9v0.9h-0.9zM171.9,45.3h0.9v0.9h-0.9zM166.3,56.2h0.9v0.9h-0.9zM165.2,44.2h0.9v0.9h-0.9zM163.5,36.8h0.9v0.9h-0.9zM173.3,46.6h0.9v0.9h-0.9zM169.0,51.0h0.9v0.9h-0.9zM168.7,53.0h0.9v0.9h-0.9zM183.4,50.1h0.9v0.9h-0.9zM168.0,61.7h0.9v0.9h-0.9zM175.2,32.2h0.9v0.9h-0.9zM179.8,48.9h0.9v0.9h-0.9zM176.3,36.8h0.9v0.9h-0.9zM163.7,41.2h0.9v0.9h-0.9zM174.1,37.0h0.9v0.9h-0.9zM164.8,55.4h0.9v0.9h-0.9zM165.2,48.0h0.9v0.9h-0.9zM163.4,31.9h0.9v0.9h-0.9zM169.4,45.9h0.9v0.9h-0.9zM176.0,54.8h0.9v0.9h-0.9zM166.2,36.8h0.9v0.9h-0.9zM169.3,48.5h0.9v0.9h-0.9zM168.7,41.8h0.9v0.9h-0.9zM162.6,40.5h0.9v0.9h-0.9zM169.4,42.7h0.9v0.9h-0.9zM182.3,44.6h0.9v0.9h-0.9zM173.3,42.9h0.9v0.9h-0.9zM168.6,38.4h0.9v0.9h-0.9zM166.4,33.7h0.9v0.9h-0.9zM162.2,50.8h0.9v0.9h-0.9zM169.1,42.0h0.9v0.9h-0.9zM175.3,42.1h0.9v0.9h-0.9zM173.2,43.7h0.9v0.9h-0.9zM177.1,55.4h0.9v0.9h-0.9zM170.5,56.7h0.9v0.9h-0.9zM173.7,60.7h0.9v0.9h-0.9zM169.1,33.3h0.9v0.9h-0.9zM171.5,49.1h0.9v0.9h-0.9zM167.3,45.2h0.9v0.9h-0.9zM168.0,35.9h0.9v0.9h-0.9zM182.6,40.1h0.9v0.9h-0.9zM162.1,33.0h0.9v0.9h-0.9zM163.8,46.6h0.9v0.9h-0.9zM180.8,52.3h0.9v0.9h-0.9zM164.6,36.0h0.9v0.9h-0.9zM161.8,46.3h0.9v0.9h-0.9zM176.4,42.7h0.9v0.9h-0.9zM181.8,64.0h0.9v0.9h-0.9zM171.1,27.9h0.9v0.9h-0.9zM178.0,46.1h0.9v0.9h-0.9zM174.9,55.7h0.9v0.9h-0.9zM162.6,47.6h0.9v0.9h-0.9zM171.3,40.3h0.9v0.9h-0.9zM175.1,45.8h0.9v0.9h-0.9zM167.0,63.6h0.9v0.9h-0.9zM171.2,61.4h0.9v0.9h-0.9zM168.9,56.1h0.9v0.9h-0.9zM164.5,48.3h0.9v0.9h-0.9zM177.9,27.8h0.9v0.9h-0.9zM173.9,44.6h0.9v0.9h-0.9zM178.0,48.6h0.9v0.9h-0.9zM169.4,35.7h0.9v0.9h-0.9zM191.5,40.5h0.9v0.9h-0.9zM167.6,40.6h0.9v0.9h-0.9zM167.8,48.9h0.9v0.9h-0.9zM160.2,56.3h0.9v0.9h-0.9zM168.1,52.3h0.9v0.9h-0.9zM167.8,43.6h0.9v0.9h-0.9zM165.1,49.7h0.9v0.9h-0.9zM173.0,38.3h0.9v0.9h-0.9zM167.6,56.4h0.9v0.9h-0.9zM176.4,46.1h0.9v0.9h-0.9zM164.6,57.9h0.9v0.9h-0.9zM166.7,50.2h0.9v0.9h-0.9zM165.6,53.0h0.9v0.9h-0.9zM182.8,48.4h0.9v0.9h-0.9zM161.5,45.4h0.9v0.9h-0.9zM169.2,43.8h0.9v0.9h-0.9zM178.4,57.2h0.9v0.9h-0.9zM184.6,51.6h0.9v0.9h-0.9zM174.9,39.9h0.9v0.9h-0.9zM165.6,55.0h0.9v0.9h-0.9zM171.0,37.1h0.9v0.9h-0.9zM165.7,19.8h0.9v0.9h-0.9zM169.9,36.2h0.9v0.9h-0.9zM169.6,36.5h0.9v0.9h-0.9zM163.2,42.4h0.9v0.9h-0.9zM190.3,36.5h0.9v0.9h-0.9zM161.3,42.2h0.9v0.9h-0.9zM177.7,54.0h0.9v0.9h-0.9zM175.0,44.1h0.9v0.9h-0.9zM170.9,40.2h0.9v0.9h-0.9zM168.6,39.9h0.9v0.9h-0.9zM184.1,50.5h0.9v0.9h-0.9zM164.4,46.0h0.9v0.9h-0.9zM166.6,57.7h0.9v0.9h-0.9zM169.7,41.4h0.9v0.9h-0.9zM174.9,49.8h0.9v0.9h-0.9zM164.9,40.2h0.9v0.9h-0.9zM171.0,32.5h0.9v0.9h-0.9zM163.3,55.9h0.9v0.9h-0.9zM176.3,56.8h0.9v0.9h-0.9zM166.7,41.7h0.9v0.9h-0.9zM167.9,42.7h0.9v0.9h-0.9zM179.3,45.0h0.9v0.9h-0.9zM179.8,40.7h0.9v0.9h-0.9zM172.7,61.3h0.9v0.9h-0.9zM164.5,41.2h0.9v0.9h-0.9zM165.5,32.8h0.9v0.9h-0.9zM167.8,41.3h0.9v0.9h-0.9zM186.1,42.8h0.9v0.9h-0.9zM176.9,46.7h0.9v0.9h-0.9zM172.0,53.3h0.9v0.9h-0.9zM165.8,47.3h0.9v0.9h-0.9zM171.0,61.6h0.9v0.9h-0.9zM180.2,48.4h0.9v0.9h-0.9zM160.1,54.7h0.9v0.9h-0.9zM169.5,57.3h0.9v0.9h-0.9zM170.3,48.6h0.9v0.9h-0.9zM174.7,40.5h0.9v0.9h-0.9zM165.1,67.2h0.9v0.9h-0.9zM163.6,55.2h0.9v0.9h-0.9zM174.9,54.2h0.9v0.9h-0.9zM179.9,35.2h0.9v0.9h-0.9zM176.9,28.8h0.9v0.9h-0.9zM170.3,49.9h0.9v0.9h-0.9zM177.4,56.5h0.9v0.9h-0.9zM163.1,44.6h0.9v0.9h-0.9zM168.8,40.8h0.9v0.9h-0.9zM163.9,41.1h0.9v0.9h-0.9zM178.3,59.0h0.9v0.9h-0.9zM175.4,61.8h0.9v0.9h-0.9zM170.6,37.4h0.9v0.9h-0.9zM165.1,48.8h0.9v0.9h-0.9zM177.4,57.7h0.9v0.9h-0.9zM163.4,55.4h0.9v0.9h-0.9zM166.0,52.2h0.9v0.9h-0.9zM176.6,60.0h0.9v0.9h-0.9zM166.1,49.1h0.9v0.9h-0.9zM173.0,43.3h0.9v0.9h-0.9zM170.6,52.2h0.9v0.9h-0.9zM186.7,51.0h0.9v0.9h-0.9zM165.8,30.8h0.9v0.9h-0.9zM162.9,51.5h0.9v0.9h-0.9zM174.9,50.9h0.9v0.9h-0.9zM174.2,41.7h0.9v0.9h-0.9zM181.5,37.1h0.9v0.9h-0.9zM173.6,44.6h0.9v0.9h-0.9zM167.9,53.2h0.9v0.9h-0.9zM179.2,48.4h0.9v0.9h-0.9zM165.1,45.1h0.9v0.9h-0.9zM169.4,59.7h0.9v0.9h-0.9zM176.1,61.0h0.9v0.9h-0.9zM175.4,40.2h0.9v0.9h-0.9zM176.7,55.5h0.9v0.9h-0.9zM169.0,51.1h0.9v0.9h-0.9zM167.6,35.9h0.9v0.9h-0.9zM169.2,53.7h0.9v0.9h-0.9zM167.3,27.2h0.9v0.9h-0.9zM164.1,56.6h0.9v0.9h-0.9zM171.5,56.9h0.9v0.9h-0.9zM164.4,43.3h0.9v0.9h-0.9zM162.6,40.1h0.9v0.9h-0.9zM173.6,48.2h0.9v0.9h-0.9zM166.4,49.6h0.9v0.9h-0.9zM160.4,43.5h0.9v0.9h-0.9zM181.4,59.1h0.9v0.9h-0.9zM179.1,41.9h0.9v0.9h-0.9zM174.4,37.0h0.9v0.9h-0.9zM165.9,49.1h0.9v0.9h-0.9zM174.4,28.7h0.9v0.9h-0.9zM169.0,48.3h0.9v0.9h-0.9zM161.6,52.0h0.9v0.9h-0.9zM170.8,40.5h0.9v0.9h-0.9zM181.9,49.3h0.9v0.9h-0.9zM175.3,63.4h0.9v0.9h-0.9zM166.3,45.0h0.9v0.9h-0.9zM173.1,69.2h0.9v0.9h-0.9zM174.0,48.8h0.9v0.9h-0.9zM160.7,39.4h0.9v0.9h-0.9zM170.7,49.6h0.9v0.9h-0.9zM163.2,45.1h0.9v0.9h-0.9zM164.0,52.5h0.9v0.9h-0.9zM174.5,42.0h0.9v0.9h-0.9zM166.5,36.1h0.9v0.9h-0.9zM166.5,66.4h0.9v0.9h-0.9zM169.8,54.6h0.9v0.9h-0.9zM174.1,60.1h0.9v0.9h-0.9zM167.5,39.0h0.9v0.9h-0.9zM177.5,55.2h0.9v0.9h-0.9zM165.0,56.7h0.9v0.9h-0.9zM169.8,46.6h0.9v0.9h-0.9zM183.3,51.7h0.9v0.9h-0.9zM172.2,44.2h0.9v0.9h-0.9zM171.3,56.4h0.9v0.9h-0.9zM173.2,40.3h0.9v0.9h-0.9zM173.2,45.9h0.9v0.9h-0.9zM172.1,45.3h0.9v0.9h-0.9zM167.1,27.4h0.9v0.9h-0.9zM174.9,42.9h0.9v0.9h-0.9zM172.3,27.1h0.9v0.9h-0.9zM171.7,55.7h0.9v0.9h-0.9zM171.3,35.3h0.9v0.9h-0.9zM177.0,42.3h0.9v0.9h-0.9zM165.7,48.7h0.9v0.9h-0.9zM167.7,65.1h0.9v0.9h-0.9zM168.9,66.1h0.9v0.9h-0.9zM173.2,35.9h0.9v0.9h-0.9zM169.9,47.5h0.9v0.9h-0.9zM180.4,58.4h0.9v0.9h-0.9zM188.6,41.1h0.9v0.9h-0.9zM166.7,67.8h0.9v0.9h-0.9zM163.3,50.2h0.9v0.9h-0.9zM181.7,38.0h0.9v0.9h-0.9zM167.3,40.3h0.9v0.9h-0.9zM173.7,50.6h0.9v0.9h-0.9zM169.6,52.9h0.9v0.9h-0.9zM164.1,43.6h0.9v0.9h-0.9zM173.3,65.0h0.9v0.9h-0.9zM169.6,47.5h0.9v0.9h-0.9zM179.5,47.7h0.9v0.9h-0.9zM179.4,49.1h0.9v0.9h-0.9zM178.3,48.6h0.9v0.9h-0.9zM163.1,39.4h0.9v0.9h-0.9zM173.0,63.8h0.9v0.9h-0.9zM183.5,44.2h0.9v0.9h-0.9zM188.2,37.0h0.9v0.9h-0.9zM163.7,55.3h0.9v0.9h-0.9zM172.6,52.6h0.9v0.9h-0.9zM161.0,50.4h0.9v0.9h-0.9zM176.8,46.5h0.9v0.9h-0.9zM177.4,47.2h0.9v0.9h-0.9zM172.4,44.2h0.9v0.9h-0.9zM173.5,40.2h0.9v0.9h-0.9zM179.5,45.0h0.9v0.9h-0.9zM164.3,58.1h0.9v0.9h-0.9zM168.6,33.5h0.9v0.9h-0.9zM166.6,39.1h0.9v0.9h-0.9zM168.5,38.8h0.9v0.9h-0.9zM170.4,51.1h0.9v0.9h-0.9zM165.7,45.2h0.9v0.9h-0.9zM168.7,54.4h0.9v0.9h-0.9zM164.6,53.7h0.9v0.9h-0.9zM179.1,45.3h0.9v0.9h-0.9zM162.8,44.2h0.9v0.9h-0.9zM161.1,45.5h0.9v0.9h-0.9zM167.2,51.6h0.9v0.9h-0.9zM170.7,50.8h0.9v0.9h-0.9zM169.5,49.5h0.9v0.9h-0.9zM161.6,52.9h0.9v0.9h-0.9zM179.5,57.0h0.9v0.9h-0.9zM168.4,42.9h0.9v0.9h-0.9zM164.4,44.9h0.9v0.9h-0.9zM169.8,38.3h0.9v0.9h-0.9zM170.3,49.3h0.9v0.9h-0.9zM173.8,46.6h0.9v0.9h-0.9zM169.8,67.8h0.9v0.9h-0.9zM177.3,49.9h0.9v0.9h-0.9zM174.1,23.1h0.9v0.9h-0.9zM168.7,50.4h0.9v0.9h-0.9zM170.2,47.9h0.9v0.9h-0.9zM168.8,59.4h0.9v0.9h-0.9zM172.7,44.5h0.9v0.9h-0.9zM168.2,65.8h0.9v0.9h-0.9zM163.5,42.3h0.9v0.9h-0.9zM172.3,48.3h0.9v0.9h-0.9zM172.1,59.2h0.9v0.9h-0.9zM178.3,50.8h0.9v0.9h-0.9zM170.2,46.4h0.9v0.9h-0.9zM168.2,56.0h0.9v0.9h-0.9zM160.6,37.7h0.9v0.9h-0.9zM166.5,38.3h0.9v0.9h-0.9zM164.5,57.7h0.9v0.9h-0.9zM160.2,44.8h0.9v0.9h-0.9zM165.7,38.1h0.9v0.9h-0.9zM167.0,56.9h0.9v0.9h-0.9zM183.6,44.4h0.9v0.9h-0.9zM164.0,44.4h0.9v0.9h-0.9zM173.4,55.4h0.9v0.9h-0.9zM162.9,51.3h0.9v0.9h-0.9zM169.7,57.3h0.9v0.9h-0.9zM166.9,45.1h0.9v0.9h-0.9zM163.6,35.1h0.9v0.9h-0.9zM171.9,53.4h0.9v0.9h-0.9zM178.2,49.4h0.9v0.9h-0.9zM166.5,38.7h0.9v0.9h-0.9zM161.3,40.5h0.9v0.9h-0.9zM172.4,47.8h0.9v0.9h-0.9zM167.8,37.6h0.9v0.9h-0.9zM169.8,51.8h0.9v0.9h-0.9zM162.3,34.8h0.9v0.9h-0.9zM167.5,49.4h0.9v0.9h-0.9zM168.0,60.9h0.9v0.9h-0.9zM171.0,38.0h0.9v0.9h-0.9zM175.7,41.2h0.9v0.9h-0.9zM175.0,47.9h0.9v0.9h-0.9zM179.0,38.0h0.9v0.9h-0.9zM175.3,50.8h0.9v0.9h-0.9zM163.2,53.3h0.9v0.9h-0.9zM186.7,50.2h0.9v0.9h-0.9zM164.2,45.6h0.9v0.9h-0.9zM179.6,49.3h0.9v0.9h-0.9zM180.9,41.1h0.9v0.9h-0.9zM179.6,32.8h0.9v0.9h-0.9zM168.7,44.3h0.9v0.9h-0.9zM166.3,58.0h0.9v0.9h-0.9zM165.5,50.2h0.9v0.9h-0.9zM183.7,54.4h0.9v0.9h-0.9zM166.9,40.4h0.9v0.9h-0.9zM176.5,57.0h0.9v0.9h-0.9zM171.7,66.4h0.9v0.9h-0.9zM175.7,26.2h0.9v0.9h-0.9zM163.4,54.2h0.9v0.9h-0.9zM167.0,54.5h0.9v0.9h-0.9zM189.0,40.1h0.9v0.9h-0.9zM186.4,46.3h0.9v0.9h-0.9zM176.7,41.8h0.9v0.9h-0.9zM181.7,39.1h0.9v0.9h-0.9zM168.5,55.3h0.9v0.9h-0.9zM168.4,42.0h0.9v0.9h-0.9zM169.8,52.9h0.9v0.9h-0.9zM182.8,59.2h0.9v0.9h-0.9zM183.9,46.7h0.9v0.9h-0.9z" fill="#444" fill-opacity="0.36"/>
<path d="M175.0,41.1h0.9v0.9h-0.9zM173.8,52.2h0.9v0.9h-0.9zM180.6,64.0h0.9v0.9h-0.9zM169.0,66.8h0.9v0.9h-0.9zM180.5,61.8h0.9v0.9h-0.9zM194.8,38.1h0.9v0.9h-0.9zM199.0,44.4h0.9v0.9h-0.9zM184.7,66.1h0.9v0.9h-0.9zM190.9,34.2h0.9v0.9h-0.9zM181.9,66.6h0.9v0.9h-0.9zM178.5,52.0h0.9v0.9h-0.9zM180.8,72.7h0.9v0.9h-0.9zM173.5,41.7h0.9v0.9h-0.9zM166.7,46.7h0.9v0.9h-0.9zM177.1,57.2h0.9v0.9h-0.9zM179.0,32.4h0.9v0.9h-0.9zM161.1,61.2h0.9v0.9h-0.9zM188.6,36.7h0.9v0.9h-0.9zM191.2,23.8h0.9v0.9h-0.9zM207.7,60.1h0.9v0.9h-0.9zM160.1,59.1h0.9v0.9h-0.9zM179.6,47.6h0.9v0.9h-0.9zM175.6,50.3h0.9v0.9h-0.9zM178.8,42.2h0.9v0.9h-0.9zM173.2,59.7h0.9v0.9h-0.9zM186.3,37.0h0.9v0.9h-0.9zM174.1,71.8h0.9v0.9h-0.9zM188.5,72.8h0.9v0.9h-0.9zM163.8,40.5h0.9v0.9h-0.9zM175.5,40.4h0.9v0.9h-0.9zM166.9,44.6h0.9v0.9h-0.9zM177.7,63.0h0.9v0.9h-0.9zM186.7,31.9h0.9v0.9h-0.9zM197.8,49.0h0.9v0.9h-0.9zM168.0,52.6h0.9v0.9h-0.9zM175.2,36.3h0.9v0.9h-0.9zM198.7,46.0h0.9v0.9h-0.9zM172.8,59.5h0.9v0.9h-0.9zM200.1,58.8h0.9v0.9h-0.9zM169.2,58.3h0.9v0.9h-0.9zM193.3,57.6h0.9v0.9h-0.9zM187.8,47.2h0.9v0.9h-0.9zM179.2,32.8h0.9v0.9h-0.9zM171.4,39.3h0.9v0.9h-0.9zM180.1,71.0h0.9v0.9h-0.9zM168.8,51.9h0.9v0.9h-0.9zM194.0,43.7h0.9v0.9h-0.9zM170.6,67.6h0.9v0.9h-0.9zM184.5,59.3h0.9v0.9h-0.9zM190.0,44.1h0.9v0.9h-0.9zM182.7,45.1h0.9v0.9h-0.9zM171.3,54.6h0.9v0.9h-0.9zM185.2,37.7h0.9v0.9h-0.9zM170.7,60.3h0.9v0.9h-0.9zM182.0,61.0h0.9v0.9h-0.9zM176.2,43.3h0.9v0.9h-0.9zM189.4,60.2h0.9v0.9h-0.9zM170.8,61.0h0.9v0.9h-0.9zM198.9,49.6h0.9v0.9h-0.9zM168.3,56.1h0.9v0.9h-0.9zM181.1,59.8h0.9v0.9h-0.9zM163.1,56.0h0.9v0.9h-0.9zM190.7,61.4h0.9v0.9h-0.9zM187.6,67.4h0.9v0.9h-0.9zM170.1,67.7h0.9v0.9h-0.9zM182.5,41.0h0.9v0.9h-0.9zM176.4,56.3h0.9v0.9h-0.9zM184.0,69.3h0.9v0.9h-0.9zM182.3,46.9h0.9v0.9h-0.9zM206.3,49.0h0.9v0.9h-0.9zM170.1,64.2h0.9v0.9h-0.9zM175.0,43.5h0.9v0.9h-0.9zM167.2,67.3h0.9v0.9h-0.9zM167.2,54.2h0.9v0.9h-0.9zM174.5,50.7h0.9v0.9h-0.9zM170.1,54.8h0.9v0.9h-0.9zM187.3,65.7h0.9v0.9h-0.9zM175.7,39.0h0.9v0.9h-0.9zM162.1,53.1h0.9v0.9h-0.9zM180.3,54.5h0.9v0.9h-0.9zM163.2,45.3h0.9v0.9h-0.9zM171.0,61.2h0.9v0.9h-0.9zM175.1,60.5h0.9v0.9h-0.9zM186.2,29.9h0.9v0.9h-0.9zM177.2,68.2h0.9v0.9h-0.9zM173.8,54.6h0.9v0.9h-0.9zM178.5,38.3h0.9v0.9h-0.9zM206.3,51.5h0.9v0.9h-0.9zM187.7,47.7h0.9v0.9h-0.9zM196.9,66.9h0.9v0.9h-0.9zM194.2,64.5h0.9v0.9h-0.9zM188.5,69.7h0.9v0.9h-0.9zM184.8,54.7h0.9v0.9h-0.9zM189.7,42.3h0.9v0.9h-0.9zM181.8,44.6h0.9v0.9h-0.9zM176.8,41.6h0.9v0.9h-0.9zM169.9,55.3h0.9v0.9h-0.9zM181.5,63.1h0.9v0.9h-0.9zM178.9,60.7h0.9v0.9h-0.9zM188.2,44.7h0.9v0.9h-0.9zM176.9,46.7h0.9v0.9h-0.9zM206.6,44.9h0.9v0.9h-0.9zM185.7,43.9h0.9v0.9h-0.9zM188.3,37.9h0.9v0.9h-0.9zM191.5,55.3h0.9v0.9h-0.9zM175.2,38.8h0.9v0.9h-0.9zM200.1,46.2h0.9v0.9h-0.9zM197.4,24.2h0.9v0.9h-0.9zM165.5,74.9h0.9v0.9h-0.9zM201.5,53.3h0.9v0.9h-0.9zM192.0,60.4h0.9v0.9h-0.9zM175.7,54.7h0.9v0.9h-0.9zM166.2,37.0h0.9v0.9h-0.9zM181.5,61.9h0.9v0.9h-0.9zM181.9,38.4h0.9v0.9h-0.9zM190.2,54.2h0.9v0.9h-0.9zM189.0,49.7h0.9v0.9h-0.9zM176.8,65.7h0.9v0.9h-0.9zM196.5,38.7h0.9v0.9h-0.9zM166.7,64.7h0.9v0.9h-0.9zM184.3,53.8h0.9v0.9h-0.9zM168.2,65.3h0.9v0.9h-0.9zM182.3,55.7h0.9v0.9h-0.9zM184.7,46.9h0.9v0.9h-0.9zM184.8,54.7h0.9v0.9h-0.9zM188.7,57.7h0.9v0.9h-0.9zM164.6,44.7h0.9v0.9h-0.9zM176.8,67.1h0.9v0.9h-0.9zM172.2,66.7h0.9v0.9h-0.9zM193.0,63.6h0.9v0.9h-0.9zM207.2,53.0h0.9v0.9h-0.9zM183.9,67.8h0.9v0.9h-0.9zM184.9,65.1h0.9v0.9h-0.9zM178.4,70.1h0.9v0.9h-0.9zM184.2,30.2h0.9v0.9h-0.9zM193.1,50.9h0.9v0.9h-0.9zM169.4,49.6h0.9v0.9h-0.9zM176.6,66.9h0.9v0.9h-0.9zM184.0,52.3h0.9v0.9h-0.9zM179.8,42.4h0.9v0.9h-0.9zM172.3,47.6h0.9v0.9h-0.9zM177.3,39.2h0.9v0.9h-0.9zM175.2,65.2h0.9v0.9h-0.9zM185.5,53.2h0.9v0.9h-0.9zM184.2,50.3h0.9v0.9h-0.9zM165.7,63.7h0.9v0.9h-0.9zM207.0,59.3h0.9v0.9h-0.9zM188.3,82.6h0.9v0.9h-0.9zM165.4,59.5h0.9v0.9h-0.9zM175.9,49.9h0.9v0.9h-0.9zM160.1,52.2h0.9v0.9h-0.9zM184.8,34.1h0.9v0.9h-0.9zM177.3,47.3h0.9v0.9h-0.9zM168.0,60.7h0.9v0.9h-0.9zM199.8,58.2h0.9v0.9h-0.9zM192.4,62.3h0.9v0.9h-0.9zM179.2,60.1h0.9v0.9h-0.9zM196.0,48.1h0.9v0.9h-0.9zM178.2,36.7h0.9v0.9h-0.9zM190.8,57.5h0.9v0.9h-0.9zM183.1,68.9h0.9v0.9h-0.9zM181.0,62.4h0.9v0.9h-0.9zM196.6,43.5h0.9v0.9h-0.9zM169.5,58.0h0.9v0.9h-0.9zM179.3,46.2h0.9v0.9h-0.9zM178.5,44.5h0.9v0.9h-0.9zM181.6,48.6h0.9v0.9h-0.9zM200.5,40.7h0.9v0.9h-0.9zM187.0,54.1h0.9v0.9h-0.9zM199.1,41.6h0.9v0.9h-0.9zM174.4,73.8h0.9v0.9h-0.9zM172.1,48.6h0.9v0.9h-0.9zM175.3,41.5h0.9v0.9h-0.9zM194.7,71.2h0.9v0.9h-0.9zM178.2,44.2h0.9v0.9h-0.9zM163.7,61.0h0.9v0.9h-0.9zM173.6,59.7h0.9v0.9h-0.9zM187.6,58.1h0.9v0.9h-0.9zM181.6,52.9h0.9v0.9h-0.9zM175.9,47.9h0.9v0.9h-0.9zM181.7,59.2h0.9v0.9h-0.9zM191.2,50.5h0.9v0.9h-0.9zM194.7,42.1h0.9v0.9h-0.9zM203.0,64.6h0.9v0.9h-0.9zM175.1,85.9h0.9v0.9h-0.9zM197.4,72.0h0.9v0.9h-0.9zM165.6,51.8h0.9v0.9h-0.9zM185.7,65.7h0.9v0.9h-0.9zM180.9,37.7h0.9v0.9h-0.9zM194.7,51.2h0.9v0.9h-0.9zM185.3,49.4h0.9v0.9h-0.9zM178.6,36.8h0.9v0.9h-0.9zM188.0,45.7h0.9v0.9h-0.9zM179.6,64.6h0.9v0.9h-0.9zM189.9,38.7h0.9v0.9h-0.9zM177.9,53.1h0.9v0.9h-0.9zM181.1,40.6h0.9v0.9h-0.9zM180.9,64.8h0.9v0.9h-0.9zM195.0,70.5h0.9v0.9h-0.9zM189.1,23.2h0.9v0.9h-0.9zM176.7,46.7h0.9v0.9h-0.9zM191.0,53.1h0.9v0.9h-0.9zM184.3,58.9h0.9v0.9h-0.9zM177.4,69.5h0.9v0.9h-0.9zM202.0,62.9h0.9v0.9h-0.9zM173.3,56.1h0.9v0.9h-0.9zM191.8,61.7h0.9v0.9h-0.9zM171.7,64.5h0.9v0.9h-0.9zM188.8,60.1h0.9v0.9h-0.9zM175.0,52.8h0.9v0.9h-0.9zM174.7,49.6h0.9v0.9h-0.9zM176.6,49.3h0.9v0.9h-0.9zM181.0,54.3h0.9v0.9h-0.9zM172.6,51.6h0.9v0.9h-0.9zM178.9,59.0h0.9v0.9h-0.9zM185.3,48.9h0.9v0.9h-0.9zM170.1,33.7h0.9v0.9h-0.9zM164.9,58.0h0.9v0.9h-0.9zM168.9,72.2h0.9v0.9h-0.9zM178.1,48.6h0.9v0.9h-0.9zM178.1,46.7h0.9v0.9h-0.9zM172.4,53.9h0.9v0.9h-0.9zM162.6,54.7h0.9v0.9h-0.9zM178.9,42.4h0.9v0.9h-0.9zM192.4,57.4h0.9v0.9h-0.9zM193.1,45.2h0.9v0.9h-0.9zM165.0,39.1h0.9v0.9h-0.9zM161.1,30.7h0.9v0.9h-0.9zM198.9,47.5h0.9v0.9h-0.9zM182.3,46.8h0.9v0.9h-0.9zM178.3,71.8h0.9v0.9h-0.9zM181.6,42.4h0.9v0.9h-0.9zM188.3,68.5h0.9v0.9h-0.9zM190.8,62.0h0.9v0.9h-0.9zM178.0,65.0h0.9v0.9h-0.9zM170.4,39.0h0.9v0.9h-0.9zM176.9,50.1h0.9v0.9h-0.9zM194.7,41.4h0.9v0.9h-0.9zM193.8,43.9h0.9v0.9h-0.9zM164.8,33.0h0.9v0.9h-0.9zM179.6,36.0h0.9v0.9h-0.9zM182.6,53.7h0.9v0.9h-0.9zM175.2,30.3h0.9v0.9h-0.9zM173.8,58.4h0.9v0.9h-0.9zM180.2,46.7h0.9v0.9h-0.9zM182.5,60.8h0.9v0.9h-0.9zM179.7,43.9h0.9v0.9h-0.9zM189.5,45.0h0.9v0.9h-0.9zM184.4,64.6h0.9v0.9h-0.9zM195.7,72.0h0.9v0.9h-0.9zM192.3,54.8h0.9v0.9h-0.9zM177.6,55.3h0.9v0.9h-0.9zM186.3,88.5h0.9v0.9h-0.9zM187.9,43.3h0.9v0.9h-0.9zM198.3,34.2h0.9v0.9h-0.9zM192.1,37.9h0.9v0.9h-0.9zM166.9,47.1h0.9v0.9h-0.9zM176.6,37.1h0.9v0.9h-0.9zM187.5,51.7h0.9v0.9h-0.9zM196.2,41.0h0.9v0.9h-0.9zM177.3,64.6h0.9v0.9h-0.9zM181.1,76.2h0.9v0.9h-0.9zM165.2,30.5h0.9v0.9h-0.9zM174.5,69.8h0.9v0.9h-0.9zM199.0,36.9h0.9v0.9h-0.9zM172.7,31.2h0.9v0.9h-0.9zM169.9,41.6h0.9v0.9h-0.9zM185.1,66.6h0.9v0.9h-0.9zM208.7,48.8h0.9v0.9h-0.9zM189.9,55.7h0.9v0.9h-0.9zM181.5,76.0h0.9v0.9h-0.9zM188.5,71.6h0.9v0.9h-0.9zM183.6,63.3h0.9v0.9h-0.9zM186.1,51.9h0.9v0.9h-0.9zM171.6,48.3h0.9v0.9h-0.9zM180.2,48.5h0.9v0.9h-0.9zM175.9,44.7h0.9v0.9h-0.9zM190.3,50.2h0.9v0.9h-0.9zM178.6,50.5h0.9v0.9h-0.9zM195.8,46.7h0.9v0.9h-0.9zM197.0,42.8h0.9v0.9h-0.9zM198.4,60.3h0.9v0.9h-0.9zM174.1,58.5h0.9v0.9h-0.9zM193.7,41.8h0.9v0.9h-0.9zM177.3,56.8h0.9v0.9h-0.9zM177.5,49.6h0.9v0.9h-0.9zM180.3,56.8h0.9v0.9h-0.9zM189.4,70.6h0.9v0.9h-0.9zM176.1,87.9h0.9v0.9h-0.9zM176.1,74.1h0.9v0.9h-0.9zM178.5,35.8h0.9v0.9h-0.9zM174.8,49.0h0.9v0.9h-0.9zM192.9,29.1h0.9v0.9h-0.9zM172.4,51.5h0.9v0.9h-0.9zM187.9,57.7h0.9v0.9h-0.9zM190.3,51.2h0.9v0.9h-0.9zM177.2,67.4h0.9v0.9h-0.9zM200.7,57.6h0.9v0.9h-0.9zM181.9,42.9h0.9v0.9h-0.9zM205.3,57.8h0.9v0.9h-0.9zM187.5,34.0h0.9v0.9h-0.9zM187.3,81.9h0.9v0.9h-0.9zM178.1,50.6h0.9v0.9h-0.9zM198.5,50.8h0.9v0.9h-0.9zM190.2,76.1h0.9v0.9h-0.9zM166.0,43.2h0.9v0.9h-0.9zM188.2,54.4h0.9v0.9h-0.9zM180.5,51.1h0.9v0.9h-0.9zM181.6,57.3h0.9v0.9h-0.9zM174.3,49.8h0.9v0.9h-0.9zM182.8,40.2h0.9v0.9h-0.9zM185.3,27.0h0.9v0.9h-0.9zM187.7,51.6h0.9v0.9h-0.9zM166.0,69.1h0.9v0.9h-0.9zM166.0,77.6h0.9v0.9h-0.9zM171.3,67.4h0.9v0.9h-0.9zM179.3,72.2h0.9v0.9h-0.9zM177.4,65.3h0.9v0.9h-0.9zM176.2,30.8h0.9v0.9h-0.9zM184.7,58.7h0.9v0.9h-0.9zM184.8,72.9h0.9v0.9h-0.9zM171.2,36.1h0.9v0.9h-0.9zM183.1,44.8h0.9v0.9h-0.9zM178.8,53.0h0.9v0.9h-0.9zM170.3,66.0h0.9v0.9h-0.9zM178.6,74.3h0.9v0.9h-0.9zM183.0,65.6h0.9v0.9h-0.9zM176.6,45.2h0.9v0.9h-0.9zM173.7,42.6h0.9v0.9h-0.9zM185.4,54.7h0.9v0.9h-0.9zM167.1,34.8h0.9v0.9h-0.9zM169.8,31.4h0.9v0.9h-0.9zM169.5,35.0h0.9v0.9h-0.9zM188.5,39.3h0.9v0.9h-0.9zM173.0,51.6h0.9v0.9h-0.9zM180.4,58.1h0.9v0.9h-0.9zM189.2,60.7h0.9v0.9h-0.9zM175.9,67.9h0.9v0.9h-0.9zM184.5,44.6h0.9v0.9h-0.9zM197.9,39.0h0.9v0.9h-0.9zM185.7,68.0h0.9v0.9h-0.9zM181.4,57.2h0.9v0.9h-0.9zM181.5,61.0h0.9v0.9h-0.9zM182.7,53.1h0.9v0.9h-0.9zM188.5,30.5h0.9v0.9h-0.9zM183.1,49.5h0.9v0.9h-0.9zM203.4,56.5h0.9v0.9h-0.9zM172.2,60.8h0.9v0.9h-0.9zM175.5,38.9h0.9v0.9h-0.9zM176.7,59.0h0.9v0.9h-0.9zM194.2,65.5h0.9v0.9h-0.9zM182.8,51.1h0.9v0.9h-0.9zM182.4,67.4h0.9v0.9h-0.9zM178.6,66.8h0.9v0.9h-0.9zM170.6,52.9h0.9v0.9h-0.9zM189.3,61.4h0.9v0.9h-0.9zM182.5,46.9h0.9v0.9h-0.9zM170.0,48.3h0.9v0.9h-0.9zM198.8,43.9h0.9v0.9h-0.9zM190.1,52.8h0.9v0.9h-0.9zM166.9,54.3h0.9v0.9h-0.9zM189.0,38.9h0.9v0.9h-0.9zM166.3,48.5h0.9v0.9h-0.9zM188.7,45.9h0.9v0.9h-0.9zM185.1,58.5h0.9v0.9h-0.9zM180.2,58.4h0.9v0.9h-0.9zM195.1,50.8h0.9v0.9h-0.9zM183.9,40.4h0.9v0.9h-0.9zM171.5,51.9h0.9v0.9h-0.9zM189.7,45.1h0.9v0.9h-0.9zM163.6,64.0h0.9v0.9h-0.9zM208.2,22.5h0.9v0.9h-0.9zM167.5,54.5h0.9v0.9h-0.9zM185.8,41.8h0.9v0.9h-0.9zM184.0,66.1h0.9v0.9h-0.9zM176.8,61.7h0.9v0.9h-0.9zM181.6,42.0h0.9v0.9h-0.9zM172.8,45.8h0.9v0.9h-0.9zM195.8,66.8h0.9v0.9h-0.9zM182.9,34.5h0.9v0.9h-0.9zM174.3,48.3h0.9v0.9h-0.9zM183.4,37.3h0.9v0.9h-0.9zM175.0,47.6h0.9v0.9h-0.9zM201.8,60.9h0.9v0.9h-0.9zM189.1,54.1h0.9v0.9h-0.9zM164.9,64.0h0.9v0.9h-0.9zM172.1,30.2h0.9v0.9h-0.9zM188.6,48.9h0.9v0.9h-0.9zM180.0,59.1h0.9v0.9h-0.9zM177.3,57.9h0.9v0.9h-0.9zM195.2,49.2h0.9v0.9h-0.9zM175.9,53.2h0.9v0.9h-0.9zM187.7,48.3h0.9v0.9h-0.9zM181.0,44.9h0.9v0.9h-0.9zM179.2,59.5h0.9v0.9h-0.9zM170.4,50.9h0.9v0.9h-0.9zM162.9,44.7h0.9v0.9h-0.9zM181.0,59.3h0.9v0.9h-0.9zM167.9,51.8h0.9v0.9h-0.9zM169.1,56.8h0.9v0.9h-0.9zM183.1,58.3h0.9v0.9h-0.9zM177.6,36.2h0.9v0.9h-0.9zM173.5,37.2h0.9v0.9h-0.9zM172.1,52.3h0.9v0.9h-0.9zM192.7,45.4h0.9v0.9h-0.9zM171.0,55.4h0.9v0.9h-0.9zM162.0,65.0h0.9v0.9h-0.9zM191.5,64.4h0.9v0.9h-0.9zM178.8,61.7h0.9v0.9h-0.9zM176.0,64.4h0.9v0.9h-0.9zM172.4,43.4h0.9v0.9h-0.9zM184.5,47.7h0.9v0.9h-0.9zM187.9,42.9h0.9v0.9h-0.9zM183.2,41.4h0.9v0.9h-0.9zM178.8,78.4h0.9v0.9h-0.9zM167.4,38.5h0.9v0.9h-0.9zM161.3,50.3h0.9v0.9h-0.9zM199.0,47.7h0.9v0.9h-0.9zM190.9,50.8h0.9v0.9h-0.9zM172.6,76.8h0.9v0.9h-0.9zM192.6,31.3h0.9v0.9h-0.9zM168.6,57.9h0.9v0.9h-0.9zM187.6,50.4h0.9v0.9h-0.9zM183.7,59.4h0.9v0.9h-0.9zM175.9,64.8h0.9v0.9h-0.9zM170.1,61.9h0.9v0.9h-0.9zM190.7,55.4h0.9v0.9h-0.9zM176.0,52.8h0.9v0.9h-0.9zM163.4,29.2h0.9v0.9h-0.9zM188.9,42.2h0.9v0.9h-0.9zM184.2,53.6h0.9v0.9h-0.9zM176.9,58.6h0.9v0.9h-0.9zM180.8,38.1h0.9v0.9h-0.9zM173.9,54.3h0.9v0.9h-0.9zM165.2,47.8h0.9v0.9h-0.9zM173.7,27.9h0.9v0.9h-0.9zM200.1,63.4h0.9v0.9h-0.9zM174.6,64.2h0.9v0.9h-0.9zM167.9,71.1h0.9v0.9h-0.9zM175.7,54.7h0.9v0.9h-0.9zM173.3,54.1h0.9v0.9h-0.9zM183.9,53.4h0.9v0.9h-0.9zM170.4,62.0h0.9v0.9h-0.9zM186.5,53.0h0.9v0.9h-0.9zM192.3,44.3h0.9v0.9h-0.9zM194.9,51.1h0.9v0.9h-0.9zM197.6,47.8h0.9v0.9h-0.9zM177.1,55.5h0.9v0.9h-0.9zM192.8,70.0h0.9v0.9h-0.9zM174.7,44.4h0.9v0.9h-0.9zM188.9,67.7h0.9v0.9h-0.9zM188.2,49.1h0.9v0.9h-0.9zM194.8,52.7h0.9v0.9h-0.9zM182.0,60.4h0.9v0.9h-0.9zM173.4,26.3h0.9v0.9h-0.9zM182.6,61.5h0.9v0.9h-0.9zM185.1,59.4h0.9v0.9h-0.9zM181.9,65.3h0.9v0.9h-0.9zM181.4,70.6h0.9v0.9h-0.9zM180.6,62.4h0.9v0.9h-0.9zM173.6,56.6h0.9v0.9h-0.9zM185.0,54.7h0.9v0.9h-0.9zM198.0,53.5h0.9v0.9h-0.9zM193.1,57.2h0.9v0.9h-0.9zM192.7,42.4h0.9v0.9h-0.9zM175.8,64.4h0.9v0.9h-0.9zM170.5,57.7h0.9v0.9h-0.9zM186.6,55.3h0.9v0.9h-0.9zM185.1,59.4h0.9v0.9h-0.9zM177.3,57.9h0.9v0.9h-0.9zM174.0,47.7h0.9v0.9h-0.9zM161.6,51.8h0.9v0.9h-0.9zM160.3,53.4h0.9v0.9h-0.9zM182.5,40.2h0.9v0.9h-0.9zM180.8,56.4h0.9v0.9h-0.9zM176.0,42.2h0.9v0.9h-0.9zM178.7,57.9h0.9v0.9h-0.9z" fill="#555" fill-opacity="0.3"/>
<path d="M171.5,93.1h0.9v0.9h-0.9zM169.1,67.7h0.9v0.9h-0.9zM168.6,94.6h0.9v0.9h-0.9zM167.6,87.5h0.9v0.9h-0.9zM172.2,69.6h0.9v0.9h-0.9zM174.5,56.7h0.9v0.9h-0.9zM166.0,67.1h0.9v0.9h-0.9zM168.0,74.6h0.9v0.9h-0.9zM172.5,68.2h0.9v0.9h-0.9zM176.3,57.2h0.9v0.9h-0.9zM168.1,100.4h0.9v0.9h-0.9zM166.5,80.2h0.9v0.9h-0.9zM171.3,70.6h0.9v0.9h-0.9zM170.6,53.9h0.9v0.9h-0.9zM164.6,79.5h0.9v0.9h-0.9zM169.0,85.2h0.9v0.9h-0.9zM172.6,67.5h0.9v0.9h-0.9zM169.5,56.5h0.9v0.9h-0.9zM165.1,63.9h0.9v0.9h-0.9zM177.8,54.1h0.9v0.9h-0.9zM161.9,85.1h0.9v0.9h-0.9zM167.3,85.2h0.9v0.9h-0.9zM166.6,92.0h0.9v0.9h-0.9zM166.9,72.9h0.9v0.9h-0.9zM169.1,77.5h0.9v0.9h-0.9zM165.9,77.4h0.9v0.9h-0.9zM161.1,66.9h0.9v0.9h-0.9zM163.4,77.4h0.9v0.9h-0.9zM164.9,80.0h0.9v0.9h-0.9zM168.9,64.9h0.9v0.9h-0.9zM165.6,61.7h0.9v0.9h-0.9zM167.5,82.0h0.9v0.9h-0.9zM162.2,56.5h0.9v0.9h-0.9zM169.5,71.1h0.9v0.9h-0.9zM166.9,78.6h0.9v0.9h-0.9zM168.8,83.2h0.9v0.9h-0.9zM164.8,52.2h0.9v0.9h-0.9zM164.6,71.0h0.9v0.9h-0.9zM165.0,77.9h0.9v0.9h-0.9zM165.8,86.8h0.9v0.9h-0.9zM163.9,73.9h0.9v0.9h-0.9zM165.3,95.0h0.9v0.9h-0.9zM162.4,64.1h0.9v0.9h-0.9zM165.2,81.6h0.9v0.9h-0.9zM167.1,72.3h0.9v0.9h-0.9zM166.0,71.6h0.9v0.9h-0.9zM175.6,77.7h0.9v0.9h-0.9zM169.1,83.6h0.9v0.9h-0.9zM162.6,61.8h0.9v0.9h-0.9zM165.2,88.7h0.9v0.9h-0.9zM171.8,68.2h0.9v0.9h-0.9zM161.0,83.2h0.9v0.9h-0.9zM172.3,63.1h0.9v0.9h-0.9zM174.8,66.3h0.9v0.9h-0.9zM170.7,72.0h0.9v0.9h-0.9zM165.4,67.9h0.9v0.9h-0.9zM170.4,80.2h0.9v0.9h-0.9zM170.9,71.2h0.9v0.9h-0.9zM162.9,95.3h0.9v0.9h-0.9zM175.4,72.1h0.9v0.9h-0.9zM161.4,88.9h0.9v0.9h-0.9zM167.7,74.6h0.9v0.9h-0.9zM171.2,77.5h0.9v0.9h-0.9zM167.5,93.8h0.9v0.9h-0.9zM162.2,74.7h0.9v0.9h-0.9zM166.2,76.6h0.9v0.9h-0.9zM178.4,69.9h0.9v0.9h-0.9zM171.4,80.2h0.9v0.9h-0.9zM168.5,69.0h0.9v0.9h-0.9zM170.1,76.7h0.9v0.9h-0.9zM174.1,82.3h0.9v0.9h-0.9zM163.5,45.0h0.9v0.9h-0.9zM174.4,78.9h0.9v0.9h-0.9zM167.8,68.0h0.9v0.9h-0.9zM179.3,87.3h0.9v0.9h-0.9zM167.5,70.3h0.9v0.9h-0.9zM169.8,87.5h0.9v0.9h-0.9zM169.6,83.4h0.9v0.9h-0.9zM168.3,77.5h0.9v0.9h-0.9zM160.8,75.2h0.9v0.9h-0.9zM167.3,73.3h0.9v0.9h-0.9zM165.8,77.1h0.9v0.9h-0.9zM164.2,72.0h0.9v0.9h-0.9zM160.6,97.0h0.9v0.9h-0.9zM162.6,62.0h0.9v0.9h-0.9zM164.4,69.9h0.9v0.9h-0.9zM161.7,49.7h0.9v0.9h-0.9zM175.1,84.2h0.9v0.9h-0.9zM165.1,79.6h0.9v0.9h-0.9zM161.5,57.8h0.9v0.9h-0.9zM168.7,79.7h0.9v0.9h-0.9zM163.6,74.0h0.9v0.9h-0.9zM172.2,75.7h0.9v0.9h-0.9zM167.9,79.8h0.9v0.9h-0.9zM160.7,76.4h0.9v0.9h-0.9zM163.9,55.2h0.9v0.9h-0.9zM171.4,72.1h0.9v0.9h-0.9zM171.9,94.0h0.9v0.9h-0.9zM172.3,88.1h0.9v0.9h-0.9zM169.0,77.6h0.9v0.9h-0.9zM170.4,80.5h0.9v0.9h-0.9zM160.7,81.4h0.9v0.9h-0.9zM171.9,70.0h0.9v0.9h-0.9zM162.5,69.1h0.9v0.9h-0.9zM164.1,79.3h0.9v0.9h-0.9zM170.8,74.2h0.9v0.9h-0.9zM165.5,56.3h0.9v0.9h-0.9zM164.9,64.1h0.9v0.9h-0.9zM164.3,77.4h0.9v0.9h-0.9zM162.7,68.7h0.9v0.9h-0.9zM161.3,71.5h0.9v0.9h-0.9zM165.6,84.0h0.9v0.9h-0.9zM170.2,68.8h0.9v0.9h-0.9zM163.6,76.0h0.9v0.9h-0.9zM169.6,72.4h0.9v0.9h-0.9zM166.2,74.2h0.9v0.9h-0.9zM161.6,76.7h0.9v0.9h-0.9zM169.9,74.5h0.9v0.9h-0.9zM161.3,74.0h0.9v0.9h-0.9zM166.5,77.1h0.9v0.9h-0.9zM164.9,82.3h0.9v0.9h-0.9zM172.4,82.2h0.9v0.9h-0.9zM168.2,86.1h0.9v0.9h-0.9zM166.8,72.4h0.9v0.9h-0.9zM173.0,64.5h0.9v0.9h-0.9zM170.9,61.4h0.9v0.9h-0.9zM168.5,92.1h0.9v0.9h-0.9zM167.2,62.5h0.9v0.9h-0.9zM168.4,72.6h0.9v0.9h-0.9zM170.9,68.9h0.9v0.9h-0.9z" fill="#555" fill-opacity="0.3"/>
<path d="M209.6,90.3h0.9v0.9h-0.9zM201.8,70.5h0.9v0.9h-0.9zM211.9,66.2h0.9v0.9h-0.9zM183.6,74.5h0.9v0.9h-0.9zM222.1,60.2h0.9v0.9h-0.9zM207.2,57.4h0.9v0.9h-0.9zM176.7,73.4h0.9v0.9h-0.9zM161.9,53.3h0.9v0.9h-0.9zM165.3,58.2h0.9v0.9h-0.9zM210.0,71.5h0.9v0.9h-0.9zM161.7,23.3h0.9v0.9h-0.9zM205.8,57.7h0.9v0.9h-0.9zM220.9,62.3h0.9v0.9h-0.9zM162.4,57.5h0.9v0.9h-0.9zM212.5,59.6h0.9v0.9h-0.9zM212.0,59.1h0.9v0.9h-0.9zM189.1,59.3h0.9v0.9h-0.9zM181.3,57.1h0.9v0.9h-0.9zM232.0,69.0h0.9v0.9h-0.9zM226.0,92.0h0.9v0.9h-0.9zM192.2,67.0h0.9v0.9h-0.9zM183.0,72.5h0.9v0.9h-0.9zM206.5,70.0h0.9v0.9h-0.9zM174.4,51.2h0.9v0.9h-0.9zM236.2,103.0h0.9v0.9h-0.9zM164.0,57.6h0.9v0.9h-0.9zM193.8,81.5h0.9v0.9h-0.9zM192.0,74.7h0.9v0.9h-0.9zM203.8,92.3h0.9v0.9h-0.9zM162.4,91.5h0.9v0.9h-0.9zM205.7,80.6h0.9v0.9h-0.9zM188.3,82.5h0.9v0.9h-0.9zM211.8,83.5h0.9v0.9h-0.9zM162.6,94.6h0.9v0.9h-0.9zM196.4,88.2h0.9v0.9h-0.9zM194.5,56.4h0.9v0.9h-0.9z" fill="#666" fill-opacity="0.3"/>
<rect x="159.6" y="17.5" width="87.7" height="87.3" fill="none" stroke="#666" stroke-width="1"/>
<rect x="181.6" y="71.7" width="46" height="33" fill="none" stroke="#444" stroke-width="0.9"/>
<line x1="207" y1="94" x2="236" y2="117" stroke="#444" stroke-width="0.7"/>
<path d="M232,117.5 L237.5,118.3 L235,113.8" stroke="#444" stroke-width="0.6" fill="none"/>
<line x1="149.1" y1="93" x2="149.1" y2="119.5" stroke="#000" stroke-width="1.1"/>
<line x1="149.1" y1="119.5" x2="176" y2="119.5" stroke="#000" stroke-width="1.1"/>
<polygon points="149.1,88.5 145.69,94.7 152.51,94.7" fill="#000"/>
<polygon points="180.3,119.5 174.10000000000002,116.09 174.10000000000002,122.91" fill="#000"/>
<text x="152" y="83.2" font-size="8.8" font-weight="bold" text-anchor="start" transform="rotate(-90 152 83.2)" fill="#000">CD48</text>
<text x="183.8" y="121.8" font-size="8.8" font-weight="bold" text-anchor="start" fill="#000">CD150</text>
<text x="231" y="126" font-size="6.4" font-weight="bold" text-anchor="start" fill="#000">ESLAM</text>
<line x1="320.4" y1="19.60000000000001" x2="320.4" y2="112" stroke="#555" stroke-width="0.8"/>
<line x1="320.4" y1="112" x2="455" y2="112" stroke="#555" stroke-width="0.8"/>
<line x1="318.4" y1="112.0" x2="320.4" y2="112.0" stroke="#555" stroke-width="0.7"/>
<text x="315" y="114.0" font-size="5.6" font-weight="bold" text-anchor="end" fill="#000">0</text>
<line x1="318.4" y1="98.8" x2="320.4" y2="98.8" stroke="#555" stroke-width="0.7"/>
<text x="315" y="100.8" font-size="5.6" font-weight="bold" text-anchor="end" fill="#000">1</text>
<line x1="318.4" y1="85.6" x2="320.4" y2="85.6" stroke="#555" stroke-width="0.7"/>
<text x="315" y="87.6" font-size="5.6" font-weight="bold" text-anchor="end" fill="#000">2</text>
<line x1="318.4" y1="72.4" x2="320.4" y2="72.4" stroke="#555" stroke-width="0.7"/>
<text x="315" y="74.4" font-size="5.6" font-weight="bold" text-anchor="end" fill="#000">3</text>
<line x1="318.4" y1="59.2" x2="320.4" y2="59.2" stroke="#555" stroke-width="0.7"/>
<text x="315" y="61.2" font-size="5.6" font-weight="bold" text-anchor="end" fill="#000">4</text>
<line x1="318.4" y1="46.0" x2="320.4" y2="46.0" stroke="#555" stroke-width="0.7"/>
<text x="315" y="48.0" font-size="5.6" font-weight="bold" text-anchor="end" fill="#000">5</text>
<line x1="318.4" y1="32.80000000000001" x2="320.4" y2="32.80000000000001" stroke="#555" stroke-width="0.7"/>
<text x="315" y="34.80000000000001" font-size="5.6" font-weight="bold" text-anchor="end" fill="#000">6</text>
<line x1="318.4" y1="19.60000000000001" x2="320.4" y2="19.60000000000001" stroke="#555" stroke-width="0.7"/>
<text x="315" y="21.60000000000001" font-size="5.6" font-weight="bold" text-anchor="end" fill="#000">7</text>
<line x1="364.5" y1="112" x2="364.5" y2="114" stroke="#555" stroke-width="0.7"/>
<line x1="409.5" y1="112" x2="409.5" y2="114" stroke="#555" stroke-width="0.7"/>
<line x1="455" y1="112" x2="455" y2="114" stroke="#555" stroke-width="0.7"/>
<rect x="333.2" y="30.159999999999997" width="19.19999999999999" height="81.84" fill="#fff" stroke="#333" stroke-width="0.7"/>
<line x1="342.8" y1="24.88000000000001" x2="342.8" y2="30.159999999999997" stroke="#444" stroke-width="0.7"/>
<line x1="341.3" y1="24.88000000000001" x2="344.3" y2="24.88000000000001" stroke="#444" stroke-width="0.7"/>
<rect x="378.2" y="49.03600000000001" width="18.600000000000023" height="62.96399999999999" fill="#b3b3b3" stroke="#666" stroke-width="0.7"/>
<line x1="387.5" y1="38.476" x2="387.5" y2="49.03600000000001" stroke="#444" stroke-width="0.7"/>
<line x1="386.0" y1="38.476" x2="389.0" y2="38.476" stroke="#444" stroke-width="0.7"/>
<rect x="423.1" y="74.248" width="18.299999999999955" height="37.751999999999995" fill="#000" stroke="#333" stroke-width="0.7"/>
<line x1="432.2" y1="70.024" x2="432.2" y2="74.248" stroke="#444" stroke-width="0.7"/>
<line x1="430.7" y1="70.024" x2="433.7" y2="70.024" stroke="#444" stroke-width="0.7"/>
<text x="364.1" y="9" font-size="8.9" font-weight="normal" text-anchor="middle" fill="#000">NS</text>
<path d="M341.2,19.9 Q341.2,16.2 344.2,16.2 L361.85,16.2 Q364.85,16.2 364.85,12.5 Q364.85,16.2 367.85,16.2 L385.5,16.2 Q388.5,16.2 388.5,19.9" stroke="#222" stroke-width="1.0" fill="none"/>
<text x="409.2" y="28.1" font-size="16.7" font-weight="bold" text-anchor="middle" fill="#000">**</text>
<path d="M388,35.5 Q388,31.15 391.0,31.15 L407.65,31.15 Q410.65,31.15 410.65,26.8 Q410.65,31.15 413.65,31.15 L430.3,31.15 Q433.3,31.15 433.3,35.5" stroke="#222" stroke-width="1.0" fill="none"/>
<rect x="436.3" y="28.2" width="55.4" height="35.6" fill="#fff" stroke="#222" stroke-width="0.9"/>
<rect x="439.2" y="32.7" width="8.2" height="6" fill="#fff" stroke="#222" stroke-width="0.8"/>
<text x="451.9" y="38.7" font-size="8.5" font-weight="normal" text-anchor="start" fill="#000" word-spacing="1">wt, n=5</text>
<rect x="439.2" y="43.1" width="8.2" height="6" fill="#b3b3b3" stroke="#222" stroke-width="0.8"/>
<text x="451.9" y="49.1" font-size="8.5" font-weight="normal" text-anchor="start" fill="#000" word-spacing="1">het, n=5</text>
<rect x="439.2" y="52.9" width="8.2" height="6" fill="#000" stroke="#222" stroke-width="0.8"/>
<text x="451.9" y="58.9" font-size="8.5" font-weight="normal" text-anchor="start" fill="#000" word-spacing="1">hom, n=5</text>
<text x="292.9" y="64.5" font-size="10.1" font-weight="bold" text-anchor="middle" transform="rotate(-90 292.9 64.5)" fill="#000">Number of HSCs (E-SLAM)</text>
<text x="304.3" y="65.5" font-size="10.6" font-weight="bold" text-anchor="middle" transform="rotate(-90 304.3 65.5)" fill="#000">per 1x10<tspan font-size="6.6" dy="-4">5</tspan><tspan dy="4"> BM MNCs</tspan></text>
<text x="0" y="157.1" font-size="13.8" font-weight="bold" text-anchor="start" fill="#000">B</text>
<line x1="75.2" y1="160.92000000000002" x2="75.2" y2="236.6" stroke="#555" stroke-width="0.8"/>
<line x1="75.2" y1="236.6" x2="232" y2="236.6" stroke="#555" stroke-width="0.8"/>
<line x1="73.2" y1="236.6" x2="75.2" y2="236.6" stroke="#555" stroke-width="0.7"/>
<text x="70.7" y="238.6" font-size="5.6" font-weight="bold" text-anchor="end" fill="#000">0</text>
<line x1="73.2" y1="227.14" x2="75.2" y2="227.14" stroke="#555" stroke-width="0.7"/>
<text x="70.7" y="229.14" font-size="5.6" font-weight="bold" text-anchor="end" fill="#000">10</text>
<line x1="73.2" y1="217.68" x2="75.2" y2="217.68" stroke="#555" stroke-width="0.7"/>
<text x="70.7" y="219.68" font-size="5.6" font-weight="bold" text-anchor="end" fill="#000">20</text>
<line x1="73.2" y1="208.22" x2="75.2" y2="208.22" stroke="#555" stroke-width="0.7"/>
<text x="70.7" y="210.22" font-size="5.6" font-weight="bold" text-anchor="end" fill="#000">30</text>
<line x1="73.2" y1="198.76" x2="75.2" y2="198.76" stroke="#555" stroke-width="0.7"/>
<text x="70.7" y="200.76" font-size="5.6" font-weight="bold" text-anchor="end" fill="#000">40</text>
<line x1="73.2" y1="189.3" x2="75.2" y2="189.3" stroke="#555" stroke-width="0.7"/>
<text x="70.7" y="191.3" font-size="5.6" font-weight="bold" text-anchor="end" fill="#000">50</text>
<line x1="73.2" y1="179.84" x2="75.2" y2="179.84" stroke="#555" stroke-width="0.7"/>
<text x="70.7" y="181.84" font-size="5.6" font-weight="bold" text-anchor="end" fill="#000">60</text>
<line x1="73.2" y1="170.38" x2="75.2" y2="170.38" stroke="#555" stroke-width="0.7"/>
<text x="70.7" y="172.38" font-size="5.6" font-weight="bold" text-anchor="end" fill="#000">70</text>
<line x1="73.2" y1="160.92000000000002" x2="75.2" y2="160.92000000000002" stroke="#555" stroke-width="0.7"/>
<text x="70.7" y="162.92000000000002" font-size="5.6" font-weight="bold" text-anchor="end" fill="#000">80</text>
<rect x="79.2" y="192.4218" width="5.150000000000006" height="44.178200000000004" fill="#fff" stroke="#444" stroke-width="0.6"/>
<rect x="84.35000000000001" y="191.192" width="5.1499999999999915" height="45.40799999999999" fill="#b3b3b3" stroke="#666" stroke-width="0.6"/>
<text x="84.35000000000001" y="245.2" font-size="5.6" font-weight="bold" text-anchor="middle" fill="#000">1</text>
<rect x="96.47" y="196.5842" width="5.150000000000006" height="40.015799999999984" fill="#fff" stroke="#444" stroke-width="0.6"/>
<rect x="101.62" y="213.6122" width="5.1499999999999915" height="22.987799999999993" fill="#b3b3b3" stroke="#666" stroke-width="0.6"/>
<text x="101.62" y="245.2" font-size="5.6" font-weight="bold" text-anchor="middle" fill="#000">2</text>
<line x1="92.985" y1="236.6" x2="92.985" y2="238.1" stroke="#555" stroke-width="0.6"/>
<rect x="113.74000000000001" y="203.49" width="5.150000000000006" height="33.109999999999985" fill="#fff" stroke="#444" stroke-width="0.6"/>
<rect x="118.89000000000001" y="214.369" width="5.1499999999999915" height="22.230999999999995" fill="#b3b3b3" stroke="#666" stroke-width="0.6"/>
<text x="118.89000000000001" y="245.2" font-size="5.6" font-weight="bold" text-anchor="middle" fill="#000">3</text>
<line x1="110.25500000000001" y1="236.6" x2="110.25500000000001" y2="238.1" stroke="#555" stroke-width="0.6"/>
<rect x="131.01" y="201.40879999999999" width="5.150000000000006" height="35.19120000000001" fill="#fff" stroke="#444" stroke-width="0.6"/>
<rect x="136.16" y="216.261" width="5.150000000000006" height="20.339" fill="#b3b3b3" stroke="#666" stroke-width="0.6"/>
<text x="136.16" y="245.2" font-size="5.6" font-weight="bold" text-anchor="middle" fill="#000">4</text>
<line x1="127.52499999999999" y1="236.6" x2="127.52499999999999" y2="238.1" stroke="#555" stroke-width="0.6"/>
<rect x="148.28" y="195.3544" width="5.150000000000006" height="41.245599999999996" fill="#fff" stroke="#444" stroke-width="0.6"/>
<rect x="153.43" y="205.5712" width="5.150000000000006" height="31.02879999999999" fill="#b3b3b3" stroke="#666" stroke-width="0.6"/>
<text x="153.43" y="245.2" font-size="5.6" font-weight="bold" text-anchor="middle" fill="#000">5</text>
<line x1="144.79500000000002" y1="236.6" x2="144.79500000000002" y2="238.1" stroke="#555" stroke-width="0.6"/>
<rect x="165.55" y="201.598" width="5.150000000000006" height="35.00199999999998" fill="#fff" stroke="#444" stroke-width="0.6"/>
<rect x="170.70000000000002" y="223.829" width="5.150000000000006" height="12.770999999999987" fill="#b3b3b3" stroke="#666" stroke-width="0.6"/>
<text x="170.70000000000002" y="245.2" font-size="5.6" font-weight="bold" text-anchor="middle" fill="#000">6</text>
<line x1="162.065" y1="236.6" x2="162.065" y2="238.1" stroke="#555" stroke-width="0.6"/>
<rect x="182.82" y="205.5712" width="5.150000000000006" height="31.02879999999999" fill="#fff" stroke="#444" stroke-width="0.6"/>
<rect x="187.97" y="224.302" width="5.150000000000006" height="12.298000000000002" fill="#b3b3b3" stroke="#666" stroke-width="0.6"/>
<text x="187.97" y="245.2" font-size="5.6" font-weight="bold" text-anchor="middle" fill="#000">7</text>
<line x1="179.33499999999998" y1="236.6" x2="179.33499999999998" y2="238.1" stroke="#555" stroke-width="0.6"/>
<rect x="200.09" y="184.2862" width="5.150000000000006" height="52.313799999999986" fill="#fff" stroke="#444" stroke-width="0.6"/>
<rect x="205.24" y="199.9898" width="5.150000000000006" height="36.61019999999999" fill="#b3b3b3" stroke="#666" stroke-width="0.6"/>
<text x="205.24" y="245.2" font-size="5.6" font-weight="bold" text-anchor="middle" fill="#000">8</text>
<line x1="196.60500000000002" y1="236.6" x2="196.60500000000002" y2="238.1" stroke="#555" stroke-width="0.6"/>
<rect x="217.36" y="169.3394" width="5.150000000000006" height="67.26059999999998" fill="#fff" stroke="#444" stroke-width="0.6"/>
<rect x="222.51000000000002" y="179.84" width="5.150000000000006" height="56.75999999999999" fill="#b3b3b3" stroke="#666" stroke-width="0.6"/>
<text x="222.51000000000002" y="245.2" font-size="5.6" font-weight="bold" text-anchor="middle" fill="#000">9</text>
<line x1="213.875" y1="236.6" x2="213.875" y2="238.1" stroke="#555" stroke-width="0.6"/>
<text x="55" y="195" font-size="10.2" font-weight="bold" text-anchor="middle" transform="rotate(-90 55 195)" fill="#000">Chimerism %</text>
<text x="153.5" y="258.4" font-size="11.15" font-weight="bold" text-anchor="middle" fill="#000">Recipients</text>
<rect x="126" y="149.4" width="54.5" height="28" fill="#fff" stroke="#222" stroke-width="0.9"/>
<rect x="129" y="155.5" width="9.5" height="6" fill="#fff" stroke="#222" stroke-width="0.8"/>
<rect x="129" y="166.2" width="9.5" height="6" fill="#b3b3b3" stroke="#222" stroke-width="0.8"/>
<text x="141.2" y="161.9" font-size="8.55" font-weight="normal" text-anchor="start" fill="#000">1 month</text>
<text x="141.2" y="172.3" font-size="8.55" font-weight="normal" text-anchor="start" fill="#000">4 months</text>
<text x="269.1" y="157.3" font-size="13.8" font-weight="bold" text-anchor="start" fill="#000">C</text>
<line x1="313.3" y1="160.0" x2="313.3" y2="237.7" stroke="#555" stroke-width="0.8"/>
<line x1="313.3" y1="237.7" x2="469.6" y2="237.7" stroke="#555" stroke-width="0.8"/>
<line x1="311.8" y1="229.92999999999998" x2="313.3" y2="229.92999999999998" stroke="#555" stroke-width="0.6"/>
<line x1="311.8" y1="214.39" x2="313.3" y2="214.39" stroke="#555" stroke-width="0.6"/>
<line x1="311.8" y1="198.85" x2="313.3" y2="198.85" stroke="#555" stroke-width="0.6"/>
<line x1="311.8" y1="183.31" x2="313.3" y2="183.31" stroke="#555" stroke-width="0.6"/>
<line x1="311.8" y1="167.76999999999998" x2="313.3" y2="167.76999999999998" stroke="#555" stroke-width="0.6"/>
<line x1="311.3" y1="237.7" x2="313.3" y2="237.7" stroke="#555" stroke-width="0.7"/>
<text x="308.8" y="239.7" font-size="5.6" font-weight="bold" text-anchor="end" fill="#000">0</text>
<line x1="311.3" y1="222.16" x2="313.3" y2="222.16" stroke="#555" stroke-width="0.7"/>
<text x="308.8" y="224.16" font-size="5.6" font-weight="bold" text-anchor="end" fill="#000">20</text>
<line x1="311.3" y1="206.61999999999998" x2="313.3" y2="206.61999999999998" stroke="#555" stroke-width="0.7"/>
<text x="308.8" y="208.61999999999998" font-size="5.6" font-weight="bold" text-anchor="end" fill="#000">40</text>
<line x1="311.3" y1="191.07999999999998" x2="313.3" y2="191.07999999999998" stroke="#555" stroke-width="0.7"/>
<text x="308.8" y="193.07999999999998" font-size="5.6" font-weight="bold" text-anchor="end" fill="#000">60</text>
<line x1="311.3" y1="175.54" x2="313.3" y2="175.54" stroke="#555" stroke-width="0.7"/>
<text x="308.8" y="177.54" font-size="5.6" font-weight="bold" text-anchor="end" fill="#000">80</text>
<line x1="311.3" y1="160.0" x2="313.3" y2="160.0" stroke="#555" stroke-width="0.7"/>
<text x="308.8" y="162.0" font-size="5.6" font-weight="bold" text-anchor="end" fill="#000">100</text>
<rect x="316.8" y="170.33409999999998" width="5.300000000000011" height="67.36590000000001" fill="#fff" stroke="#444" stroke-width="0.6"/>
<rect x="322.1" y="185.09709999999998" width="5.300000000000011" height="52.602900000000005" fill="#b3b3b3" stroke="#666" stroke-width="0.6"/>
<text x="322.1" y="246" font-size="5.6" font-weight="bold" text-anchor="middle" fill="#000">1</text>
<rect x="334.07" y="176.4724" width="5.300000000000011" height="61.227599999999995" fill="#fff" stroke="#444" stroke-width="0.6"/>
<rect x="339.37" y="198.4615" width="5.300000000000011" height="39.23849999999999" fill="#b3b3b3" stroke="#666" stroke-width="0.6"/>
<text x="339.37" y="246" font-size="5.6" font-weight="bold" text-anchor="middle" fill="#000">2</text>
<line x1="330.735" y1="237.7" x2="330.735" y2="239.2" stroke="#555" stroke-width="0.6"/>
<rect x="351.34000000000003" y="185.40789999999998" width="5.300000000000011" height="52.292100000000005" fill="#fff" stroke="#444" stroke-width="0.6"/>
<rect x="356.64000000000004" y="196.5967" width="5.300000000000011" height="41.10329999999999" fill="#b3b3b3" stroke="#666" stroke-width="0.6"/>
<text x="356.64000000000004" y="246" font-size="5.6" font-weight="bold" text-anchor="middle" fill="#000">3</text>
<line x1="348.00500000000005" y1="237.7" x2="348.00500000000005" y2="239.2" stroke="#555" stroke-width="0.6"/>
<rect x="368.61" y="189.52599999999998" width="5.300000000000011" height="48.17400000000001" fill="#fff" stroke="#444" stroke-width="0.6"/>
<rect x="373.91" y="198.07299999999998" width="5.300000000000011" height="39.62700000000001" fill="#b3b3b3" stroke="#666" stroke-width="0.6"/>
<text x="373.91" y="246" font-size="5.6" font-weight="bold" text-anchor="middle" fill="#000">4</text>
<line x1="365.27500000000003" y1="237.7" x2="365.27500000000003" y2="239.2" stroke="#555" stroke-width="0.6"/>
<rect x="385.88" y="180.1243" width="5.300000000000011" height="57.57569999999998" fill="#fff" stroke="#444" stroke-width="0.6"/>
<rect x="391.18" y="199.2385" width="5.300000000000011" height="38.4615" fill="#b3b3b3" stroke="#666" stroke-width="0.6"/>
<text x="391.18" y="246" font-size="5.6" font-weight="bold" text-anchor="middle" fill="#000">5</text>
<line x1="382.545" y1="237.7" x2="382.545" y2="239.2" stroke="#555" stroke-width="0.6"/>
<rect x="403.15" y="184.16469999999998" width="5.300000000000011" height="53.53530000000001" fill="#fff" stroke="#444" stroke-width="0.6"/>
<rect x="408.45" y="199.93779999999998" width="5.300000000000011" height="37.76220000000001" fill="#b3b3b3" stroke="#666" stroke-width="0.6"/>
<text x="408.45" y="246" font-size="5.6" font-weight="bold" text-anchor="middle" fill="#000">6</text>
<line x1="399.815" y1="237.7" x2="399.815" y2="239.2" stroke="#555" stroke-width="0.6"/>
<rect x="420.42" y="185.40789999999998" width="5.300000000000011" height="52.292100000000005" fill="#fff" stroke="#444" stroke-width="0.6"/>
<rect x="425.72" y="199.93779999999998" width="5.300000000000011" height="37.76220000000001" fill="#b3b3b3" stroke="#666" stroke-width="0.6"/>
<text x="425.72" y="246" font-size="5.6" font-weight="bold" text-anchor="middle" fill="#000">7</text>
<line x1="417.08500000000004" y1="237.7" x2="417.08500000000004" y2="239.2" stroke="#555" stroke-width="0.6"/>
<rect x="437.69" y="184.7086" width="5.300000000000011" height="52.9914" fill="#fff" stroke="#444" stroke-width="0.6"/>
<rect x="442.99" y="195.81969999999998" width="5.300000000000011" height="41.880300000000005" fill="#b3b3b3" stroke="#666" stroke-width="0.6"/>
<text x="442.99" y="246" font-size="5.6" font-weight="bold" text-anchor="middle" fill="#000">8</text>
<line x1="434.355" y1="237.7" x2="434.355" y2="239.2" stroke="#555" stroke-width="0.6"/>
<rect x="454.96000000000004" y="168.7801" width="5.300000000000011" height="68.91989999999998" fill="#fff" stroke="#444" stroke-width="0.6"/>
<rect x="460.26000000000005" y="172.6651" width="5.300000000000011" height="65.0349" fill="#b3b3b3" stroke="#666" stroke-width="0.6"/>
<text x="460.26000000000005" y="246" font-size="5.6" font-weight="bold" text-anchor="middle" fill="#000">9</text>
<line x1="451.62500000000006" y1="237.7" x2="451.62500000000006" y2="239.2" stroke="#555" stroke-width="0.6"/>
<text x="296" y="200" font-size="10.2" font-weight="bold" text-anchor="middle" transform="rotate(-90 296 200)" fill="#000">Hematocrit %</text>
<text x="386.7" y="259.5" font-size="11.15" font-weight="bold" text-anchor="middle" fill="#000">Recipients</text>
<rect x="369.8" y="149.6" width="54.8" height="27.7" fill="#fff" stroke="#222" stroke-width="0.9"/>
<rect x="372.7" y="155.7" width="9.8" height="6" fill="#fff" stroke="#222" stroke-width="0.8"/>
<rect x="372.7" y="166.4" width="9.8" height="6" fill="#b3b3b3" stroke="#222" stroke-width="0.8"/>
<text x="384.9" y="162.1" font-size="8.55" font-weight="normal" text-anchor="start" fill="#000">1 month</text>
<text x="384.9" y="172.5" font-size="8.55" font-weight="normal" text-anchor="start" fill="#000">4 months</text>
<text x="0.2" y="282.4" font-size="13.8" font-weight="bold" text-anchor="start" fill="#000">D</text>
<line x1="53.6" y1="301.87" x2="53.6" y2="400.6" stroke="#555" stroke-width="0.8"/>
<line x1="53.6" y1="400.6" x2="240" y2="400.6" stroke="#555" stroke-width="0.8"/>
<line x1="51.6" y1="400.6" x2="53.6" y2="400.6" stroke="#555" stroke-width="0.7"/>
<text x="49.6" y="402.3" font-size="4.8" font-weight="bold" text-anchor="end" fill="#000">0</text>
<line x1="51.6" y1="389.63" x2="53.6" y2="389.63" stroke="#555" stroke-width="0.7"/>
<text x="49.6" y="391.33" font-size="4.8" font-weight="bold" text-anchor="end" fill="#000">10</text>
<line x1="51.6" y1="378.66" x2="53.6" y2="378.66" stroke="#555" stroke-width="0.7"/>
<text x="49.6" y="380.36" font-size="4.8" font-weight="bold" text-anchor="end" fill="#000">20</text>
<line x1="51.6" y1="367.69000000000005" x2="53.6" y2="367.69000000000005" stroke="#555" stroke-width="0.7"/>
<text x="49.6" y="369.39000000000004" font-size="4.8" font-weight="bold" text-anchor="end" fill="#000">30</text>
<line x1="51.6" y1="356.72" x2="53.6" y2="356.72" stroke="#555" stroke-width="0.7"/>
<text x="49.6" y="358.42" font-size="4.8" font-weight="bold" text-anchor="end" fill="#000">40</text>
<line x1="51.6" y1="345.75" x2="53.6" y2="345.75" stroke="#555" stroke-width="0.7"/>
<text x="49.6" y="347.45" font-size="4.8" font-weight="bold" text-anchor="end" fill="#000">50</text>
<line x1="51.6" y1="334.78000000000003" x2="53.6" y2="334.78000000000003" stroke="#555" stroke-width="0.7"/>
<text x="49.6" y="336.48" font-size="4.8" font-weight="bold" text-anchor="end" fill="#000">60</text>
<line x1="51.6" y1="323.81000000000006" x2="53.6" y2="323.81000000000006" stroke="#555" stroke-width="0.7"/>
<text x="49.6" y="325.51000000000005" font-size="4.8" font-weight="bold" text-anchor="end" fill="#000">70</text>
<line x1="51.6" y1="312.84000000000003" x2="53.6" y2="312.84000000000003" stroke="#555" stroke-width="0.7"/>
<text x="49.6" y="314.54" font-size="4.8" font-weight="bold" text-anchor="end" fill="#000">80</text>
<line x1="51.6" y1="301.87" x2="53.6" y2="301.87" stroke="#555" stroke-width="0.7"/>
<text x="49.6" y="303.57" font-size="4.8" font-weight="bold" text-anchor="end" fill="#000">90</text>
<line x1="113.5" y1="400.6" x2="113.5" y2="402.1" stroke="#555" stroke-width="0.6"/>
<line x1="173.5" y1="400.6" x2="173.5" y2="402.1" stroke="#555" stroke-width="0.6"/>
<line x1="64.87" y1="338.72920000000005" x2="64.87" y2="345.75" stroke="#555" stroke-width="0.7"/>
<line x1="63.67" y1="338.72920000000005" x2="66.07000000000001" y2="338.72920000000005" stroke="#555" stroke-width="0.7"/>
<rect x="60.2" y="345.75" width="9.340000000000003" height="54.85000000000002" fill="#b3b3b3" stroke="#666" stroke-width="0.6"/>
<text x="64.87" y="411" font-size="5.2" font-weight="bold" text-anchor="middle" fill="#000">1</text>
<line x1="74.21000000000001" y1="307.355" x2="74.21000000000001" y2="314.0467" stroke="#555" stroke-width="0.7"/>
<line x1="73.01" y1="307.355" x2="75.41000000000001" y2="307.355" stroke="#555" stroke-width="0.7"/>
<rect x="69.54" y="314.0467" width="9.340000000000003" height="86.55330000000004" fill="#b3b3b3" stroke="#666" stroke-width="0.6"/>
<text x="74.21000000000001" y="411" font-size="5.2" font-weight="bold" text-anchor="middle" fill="#000">2</text>
<line x1="83.55" y1="316.0213" x2="83.55" y2="323.15180000000004" stroke="#555" stroke-width="0.7"/>
<line x1="82.35" y1="316.0213" x2="84.75" y2="316.0213" stroke="#555" stroke-width="0.7"/>
<rect x="78.88" y="323.15180000000004" width="9.340000000000003" height="77.44819999999999" fill="#b3b3b3" stroke="#666" stroke-width="0.6"/>
<text x="83.55" y="411" font-size="5.2" font-weight="bold" text-anchor="middle" fill="#000">3</text>
<line x1="92.89" y1="316.8989" x2="92.89" y2="326.2234" stroke="#555" stroke-width="0.7"/>
<line x1="91.69" y1="316.8989" x2="94.09" y2="316.8989" stroke="#555" stroke-width="0.7"/>
<rect x="88.22" y="326.2234" width="9.340000000000003" height="74.3766" fill="#b3b3b3" stroke="#666" stroke-width="0.6"/>
<text x="92.89" y="411" font-size="5.2" font-weight="bold" text-anchor="middle" fill="#000">4</text>
<line x1="102.23" y1="313.05940000000004" x2="102.23" y2="323.15180000000004" stroke="#555" stroke-width="0.7"/>
<line x1="101.03" y1="313.05940000000004" x2="103.43" y2="313.05940000000004" stroke="#555" stroke-width="0.7"/>
<rect x="97.56" y="323.15180000000004" width="9.340000000000003" height="77.44819999999999" fill="#b3b3b3" stroke="#666" stroke-width="0.6"/>
<text x="102.23" y="411" font-size="5.2" font-weight="bold" text-anchor="middle" fill="#000">5</text>
<line x1="124.65" y1="320.519" x2="124.65" y2="326.9913" stroke="#555" stroke-width="0.7"/>
<line x1="123.45" y1="320.519" x2="125.85000000000001" y2="320.519" stroke="#555" stroke-width="0.7"/>
<rect x="120.0" y="326.9913" width="9.300000000000011" height="73.6087" fill="#b3b3b3" stroke="#666" stroke-width="0.6"/>
<text x="124.65" y="411" font-size="5.2" font-weight="bold" text-anchor="middle" fill="#000">1</text>
<line x1="133.95000000000002" y1="315.034" x2="133.95000000000002" y2="317.9959" stroke="#555" stroke-width="0.7"/>
<line x1="132.75000000000003" y1="315.034" x2="135.15" y2="315.034" stroke="#555" stroke-width="0.7"/>
<rect x="129.3" y="317.9959" width="9.300000000000011" height="82.60410000000002" fill="#b3b3b3" stroke="#666" stroke-width="0.6"/>
<text x="133.95000000000002" y="411" font-size="5.2" font-weight="bold" text-anchor="middle" fill="#000">2</text>
<line x1="143.25" y1="308.452" x2="143.25" y2="311.5236" stroke="#555" stroke-width="0.7"/>
<line x1="142.05" y1="308.452" x2="144.45" y2="308.452" stroke="#555" stroke-width="0.7"/>
<rect x="138.6" y="311.5236" width="9.300000000000011" height="89.07640000000004" fill="#b3b3b3" stroke="#666" stroke-width="0.6"/>
<text x="143.25" y="411" font-size="5.2" font-weight="bold" text-anchor="middle" fill="#000">3</text>
<line x1="152.55" y1="309.98780000000005" x2="152.55" y2="312.5109" stroke="#555" stroke-width="0.7"/>
<line x1="151.35000000000002" y1="309.98780000000005" x2="153.75" y2="309.98780000000005" stroke="#555" stroke-width="0.7"/>
<rect x="147.9" y="312.5109" width="9.300000000000011" height="88.08910000000003" fill="#b3b3b3" stroke="#666" stroke-width="0.6"/>
<text x="152.55" y="411" font-size="5.2" font-weight="bold" text-anchor="middle" fill="#000">4</text>
<line x1="161.85" y1="309.21990000000005" x2="161.85" y2="315.034" stroke="#555" stroke-width="0.7"/>
<line x1="160.65" y1="309.21990000000005" x2="163.04999999999998" y2="309.21990000000005" stroke="#555" stroke-width="0.7"/>
<rect x="157.2" y="315.034" width="9.300000000000011" height="85.56600000000003" fill="#b3b3b3" stroke="#666" stroke-width="0.6"/>
<text x="161.85" y="411" font-size="5.2" font-weight="bold" text-anchor="middle" fill="#000">5</text>
<line x1="184.65" y1="347.5052" x2="184.65" y2="352.0029" stroke="#555" stroke-width="0.7"/>
<line x1="183.45000000000002" y1="347.5052" x2="185.85" y2="347.5052" stroke="#555" stroke-width="0.7"/>
<rect x="180.0" y="352.0029" width="9.300000000000011" height="48.59710000000001" fill="#b3b3b3" stroke="#666" stroke-width="0.6"/>
<text x="184.65" y="411" font-size="5.2" font-weight="bold" text-anchor="middle" fill="#000">1</text>
<line x1="193.95000000000002" y1="351.235" x2="193.95000000000002" y2="356.2812" stroke="#555" stroke-width="0.7"/>
<line x1="192.75000000000003" y1="351.235" x2="195.15" y2="351.235" stroke="#555" stroke-width="0.7"/>
<rect x="189.3" y="356.2812" width="9.300000000000011" height="44.31880000000001" fill="#b3b3b3" stroke="#666" stroke-width="0.6"/>
<text x="193.95000000000002" y="411" font-size="5.2" font-weight="bold" text-anchor="middle" fill="#000">2</text>
<line x1="203.25" y1="351.4544" x2="203.25" y2="357.0491" stroke="#555" stroke-width="0.7"/>
<line x1="202.05" y1="351.4544" x2="204.45" y2="351.4544" stroke="#555" stroke-width="0.7"/>
<rect x="198.6" y="357.0491" width="9.300000000000011" height="43.55090000000001" fill="#b3b3b3" stroke="#666" stroke-width="0.6"/>
<text x="203.25" y="411" font-size="5.2" font-weight="bold" text-anchor="middle" fill="#000">3</text>
<line x1="212.55" y1="361.21770000000004" x2="212.55" y2="367.47060000000005" stroke="#555" stroke-width="0.7"/>
<line x1="211.35000000000002" y1="361.21770000000004" x2="213.75" y2="361.21770000000004" stroke="#555" stroke-width="0.7"/>
<rect x="207.9" y="367.47060000000005" width="9.300000000000011" height="33.129399999999976" fill="#b3b3b3" stroke="#666" stroke-width="0.6"/>
<text x="212.55" y="411" font-size="5.2" font-weight="bold" text-anchor="middle" fill="#000">4</text>
<line x1="221.85" y1="366.70270000000005" x2="221.85" y2="371.9683" stroke="#555" stroke-width="0.7"/>
<line x1="220.65" y1="366.70270000000005" x2="223.04999999999998" y2="366.70270000000005" stroke="#555" stroke-width="0.7"/>
<rect x="217.2" y="371.9683" width="9.300000000000011" height="28.631700000000023" fill="#b3b3b3" stroke="#666" stroke-width="0.6"/>
<text x="221.85" y="411" font-size="5.2" font-weight="bold" text-anchor="middle" fill="#000">5</text>
<text x="37.8" y="350" font-size="11.05" font-weight="bold" text-anchor="middle" transform="rotate(-90 37.8 350)" fill="#000">% donor (CD45.2)</text>
<path d="M82.1,289.5 Q82.1,284.45 85.1,284.45 L138.64999999999998,284.45 Q141.64999999999998,284.45 141.64999999999998,279.4 Q141.64999999999998,284.45 144.64999999999998,284.45 L198.2,284.45 Q201.2,284.45 201.2,289.5" stroke="#222" stroke-width="1.0" fill="none"/>
<text x="140.7" y="280.4" font-size="17.8" font-weight="bold" text-anchor="middle" fill="#000">**</text>
<path d="M142.1,306.8 Q142.1,301.5 145.1,301.5 L170.1,301.5 Q173.1,301.5 173.1,296.2 Q173.1,301.5 176.1,301.5 L201.1,301.5 Q204.1,301.5 204.1,306.8" stroke="#222" stroke-width="1.0" fill="none"/>
<text x="173" y="299.1" font-size="17.8" font-weight="bold" text-anchor="middle" fill="#000">**</text>
<text x="30.9" y="413.8" font-size="10.0" font-weight="bold" text-anchor="middle" fill="#000">months</text>
<text x="32" y="426.3" font-size="10.0" font-weight="bold" text-anchor="middle" fill="#000">post BMT</text>
<text x="81.7" y="421.8" font-size="8.6" font-weight="bold" text-anchor="middle" fill="#000">WT</text>
<text x="81.7" y="431.8" font-size="8.2" font-weight="bold" text-anchor="middle" fill="#000">n=4</text>
<text x="144.6" y="421.8" font-size="8.6" font-weight="bold" text-anchor="middle" fill="#000">HET</text>
<text x="144.6" y="431.8" font-size="8.2" font-weight="bold" text-anchor="middle" fill="#000">n=8</text>
<text x="203.9" y="421.8" font-size="8.6" font-weight="bold" text-anchor="middle" fill="#000">HOM</text>
<text x="203.9" y="431.8" font-size="8.2" font-weight="bold" text-anchor="middle" fill="#000">n=9</text>
<text x="258" y="282.4" font-size="13.8" font-weight="bold" text-anchor="start" fill="#000">E</text>
<line x1="309.1" y1="296.26000000000005" x2="309.1" y2="402.1" stroke="#555" stroke-width="0.8"/>
<line x1="309.1" y1="402.1" x2="487.5" y2="402.1" stroke="#555" stroke-width="0.8"/>
<line x1="307.1" y1="402.1" x2="309.1" y2="402.1" stroke="#555" stroke-width="0.7"/>
<text x="305.1" y="403.8" font-size="4.8" font-weight="bold" text-anchor="end" fill="#000">0</text>
<line x1="307.1" y1="390.34000000000003" x2="309.1" y2="390.34000000000003" stroke="#555" stroke-width="0.7"/>
<text x="305.1" y="392.04" font-size="4.8" font-weight="bold" text-anchor="end" fill="#000">10</text>
<line x1="307.1" y1="378.58000000000004" x2="309.1" y2="378.58000000000004" stroke="#555" stroke-width="0.7"/>
<text x="305.1" y="380.28000000000003" font-size="4.8" font-weight="bold" text-anchor="end" fill="#000">20</text>
<line x1="307.1" y1="366.82000000000005" x2="309.1" y2="366.82000000000005" stroke="#555" stroke-width="0.7"/>
<text x="305.1" y="368.52000000000004" font-size="4.8" font-weight="bold" text-anchor="end" fill="#000">30</text>
<line x1="307.1" y1="355.06" x2="309.1" y2="355.06" stroke="#555" stroke-width="0.7"/>
<text x="305.1" y="356.76" font-size="4.8" font-weight="bold" text-anchor="end" fill="#000">40</text>
<line x1="307.1" y1="343.3" x2="309.1" y2="343.3" stroke="#555" stroke-width="0.7"/>
<text x="305.1" y="345.0" font-size="4.8" font-weight="bold" text-anchor="end" fill="#000">50</text>
<line x1="307.1" y1="331.54" x2="309.1" y2="331.54" stroke="#555" stroke-width="0.7"/>
<text x="305.1" y="333.24" font-size="4.8" font-weight="bold" text-anchor="end" fill="#000">60</text>
<line x1="307.1" y1="319.78000000000003" x2="309.1" y2="319.78000000000003" stroke="#555" stroke-width="0.7"/>
<text x="305.1" y="321.48" font-size="4.8" font-weight="bold" text-anchor="end" fill="#000">70</text>
<line x1="307.1" y1="308.02000000000004" x2="309.1" y2="308.02000000000004" stroke="#555" stroke-width="0.7"/>
<text x="305.1" y="309.72" font-size="4.8" font-weight="bold" text-anchor="end" fill="#000">80</text>
<line x1="307.1" y1="296.26000000000005" x2="309.1" y2="296.26000000000005" stroke="#555" stroke-width="0.7"/>
<text x="305.1" y="297.96000000000004" font-size="4.8" font-weight="bold" text-anchor="end" fill="#000">90</text>
<line x1="369" y1="402.1" x2="369" y2="403.6" stroke="#555" stroke-width="0.6"/>
<line x1="428.3" y1="402.1" x2="428.3" y2="403.6" stroke="#555" stroke-width="0.6"/>
<line x1="320.54999999999995" y1="351.2968" x2="320.54999999999995" y2="363.0568" stroke="#555" stroke-width="0.7"/>
<line x1="319.34999999999997" y1="351.2968" x2="321.74999999999994" y2="351.2968" stroke="#555" stroke-width="0.7"/>
<rect x="315.9" y="363.0568" width="9.300000000000011" height="39.04320000000001" fill="#b3b3b3" stroke="#666" stroke-width="0.6"/>
<text x="320.54999999999995" y="412" font-size="5.2" font-weight="bold" text-anchor="middle" fill="#000">1</text>
<line x1="329.84999999999997" y1="316.3696" x2="329.84999999999997" y2="340.12480000000005" stroke="#555" stroke-width="0.7"/>
<line x1="328.65" y1="316.3696" x2="331.04999999999995" y2="316.3696" stroke="#555" stroke-width="0.7"/>
<rect x="325.2" y="340.12480000000005" width="9.300000000000011" height="61.97519999999997" fill="#b3b3b3" stroke="#666" stroke-width="0.6"/>
<text x="329.84999999999997" y="412" font-size="5.2" font-weight="bold" text-anchor="middle" fill="#000">2</text>
<line x1="339.15" y1="305.1976" x2="339.15" y2="323.19040000000007" stroke="#555" stroke-width="0.7"/>
<line x1="337.95" y1="305.1976" x2="340.34999999999997" y2="305.1976" stroke="#555" stroke-width="0.7"/>
<rect x="334.5" y="323.19040000000007" width="9.300000000000011" height="78.90959999999995" fill="#b3b3b3" stroke="#666" stroke-width="0.6"/>
<text x="339.15" y="412" font-size="5.2" font-weight="bold" text-anchor="middle" fill="#000">3</text>
<line x1="348.44999999999993" y1="304.37440000000004" x2="348.44999999999993" y2="318.1336" stroke="#555" stroke-width="0.7"/>
<line x1="347.24999999999994" y1="304.37440000000004" x2="349.6499999999999" y2="304.37440000000004" stroke="#555" stroke-width="0.7"/>
<rect x="343.79999999999995" y="318.1336" width="9.300000000000011" height="83.96640000000002" fill="#b3b3b3" stroke="#666" stroke-width="0.6"/>
<text x="348.44999999999993" y="412" font-size="5.2" font-weight="bold" text-anchor="middle" fill="#000">4</text>
<line x1="357.74999999999994" y1="301.552" x2="357.74999999999994" y2="311.7832" stroke="#555" stroke-width="0.7"/>
<line x1="356.54999999999995" y1="301.552" x2="358.94999999999993" y2="301.552" stroke="#555" stroke-width="0.7"/>
<rect x="353.09999999999997" y="311.7832" width="9.300000000000011" height="90.3168" fill="#b3b3b3" stroke="#666" stroke-width="0.6"/>
<text x="357.74999999999994" y="412" font-size="5.2" font-weight="bold" text-anchor="middle" fill="#000">5</text>
<line x1="380.15" y1="322.4848" x2="380.15" y2="332.48080000000004" stroke="#555" stroke-width="0.7"/>
<line x1="378.95" y1="322.4848" x2="381.34999999999997" y2="322.4848" stroke="#555" stroke-width="0.7"/>
<rect x="375.5" y="332.48080000000004" width="9.300000000000011" height="69.61919999999998" fill="#b3b3b3" stroke="#666" stroke-width="0.6"/>
<text x="380.15" y="412" font-size="5.2" font-weight="bold" text-anchor="middle" fill="#000">1</text>
<line x1="389.45" y1="317.54560000000004" x2="389.45" y2="320.48560000000003" stroke="#555" stroke-width="0.7"/>
<line x1="388.25" y1="317.54560000000004" x2="390.65" y2="317.54560000000004" stroke="#555" stroke-width="0.7"/>
<rect x="384.8" y="320.48560000000003" width="9.300000000000011" height="81.61439999999999" fill="#b3b3b3" stroke="#666" stroke-width="0.6"/>
<text x="389.45" y="412" font-size="5.2" font-weight="bold" text-anchor="middle" fill="#000">2</text>
<line x1="398.75" y1="308.7256" x2="398.75" y2="316.0168" stroke="#555" stroke-width="0.7"/>
<line x1="397.55" y1="308.7256" x2="399.95" y2="308.7256" stroke="#555" stroke-width="0.7"/>
<rect x="394.1" y="316.0168" width="9.300000000000011" height="86.08320000000003" fill="#b3b3b3" stroke="#666" stroke-width="0.6"/>
<text x="398.75" y="412" font-size="5.2" font-weight="bold" text-anchor="middle" fill="#000">3</text>
<line x1="408.04999999999995" y1="315.54640000000006" x2="408.04999999999995" y2="324.9544" stroke="#555" stroke-width="0.7"/>
<line x1="406.84999999999997" y1="315.54640000000006" x2="409.24999999999994" y2="315.54640000000006" stroke="#555" stroke-width="0.7"/>
<rect x="403.4" y="324.9544" width="9.300000000000011" height="77.1456" fill="#b3b3b3" stroke="#666" stroke-width="0.6"/>
<text x="408.04999999999995" y="412" font-size="5.2" font-weight="bold" text-anchor="middle" fill="#000">4</text>
<line x1="417.34999999999997" y1="315.54640000000006" x2="417.34999999999997" y2="328.71760000000006" stroke="#555" stroke-width="0.7"/>
<line x1="416.15" y1="315.54640000000006" x2="418.54999999999995" y2="315.54640000000006" stroke="#555" stroke-width="0.7"/>
<rect x="412.7" y="328.71760000000006" width="9.300000000000011" height="73.38239999999996" fill="#b3b3b3" stroke="#666" stroke-width="0.6"/>
<text x="417.34999999999997" y="412" font-size="5.2" font-weight="bold" text-anchor="middle" fill="#000">5</text>
<line x1="439.625" y1="372.4648" x2="439.625" y2="379.28560000000004" stroke="#555" stroke-width="0.7"/>
<line x1="438.425" y1="372.4648" x2="440.825" y2="372.4648" stroke="#555" stroke-width="0.7"/>
<rect x="435.0" y="379.28560000000004" width="9.25" height="22.814399999999978" fill="#b3b3b3" stroke="#666" stroke-width="0.6"/>
<text x="439.625" y="412" font-size="5.2" font-weight="bold" text-anchor="middle" fill="#000">1</text>
<line x1="448.875" y1="390.4576" x2="448.875" y2="393.7504" stroke="#555" stroke-width="0.7"/>
<line x1="447.675" y1="390.4576" x2="450.075" y2="390.4576" stroke="#555" stroke-width="0.7"/>
<rect x="444.25" y="393.7504" width="9.25" height="8.34960000000001" fill="#b3b3b3" stroke="#666" stroke-width="0.6"/>
<text x="448.875" y="412" font-size="5.2" font-weight="bold" text-anchor="middle" fill="#000">2</text>
<line x1="458.125" y1="397.0432" x2="458.125" y2="399.2776" stroke="#555" stroke-width="0.7"/>
<line x1="456.925" y1="397.0432" x2="459.325" y2="397.0432" stroke="#555" stroke-width="0.7"/>
<rect x="453.5" y="399.2776" width="9.25" height="2.822400000000016" fill="#b3b3b3" stroke="#666" stroke-width="0.6"/>
<text x="458.125" y="412" font-size="5.2" font-weight="bold" text-anchor="middle" fill="#000">3</text>
<line x1="467.375" y1="397.0432" x2="467.375" y2="398.8072" stroke="#555" stroke-width="0.7"/>
<line x1="466.175" y1="397.0432" x2="468.575" y2="397.0432" stroke="#555" stroke-width="0.7"/>
<rect x="462.75" y="398.8072" width="9.25" height="3.2927999999999997" fill="#b3b3b3" stroke="#666" stroke-width="0.6"/>
<text x="467.375" y="412" font-size="5.2" font-weight="bold" text-anchor="middle" fill="#000">4</text>
<line x1="476.625" y1="396.80800000000005" x2="476.625" y2="397.98400000000004" stroke="#555" stroke-width="0.7"/>
<line x1="475.425" y1="396.80800000000005" x2="477.825" y2="396.80800000000005" stroke="#555" stroke-width="0.7"/>
<rect x="472.0" y="397.98400000000004" width="9.25" height="4.1159999999999854" fill="#b3b3b3" stroke="#666" stroke-width="0.6"/>
<text x="476.625" y="412" font-size="5.2" font-weight="bold" text-anchor="middle" fill="#000">5</text>
<text x="282.3" y="348.7" font-size="11.2" font-weight="bold" text-anchor="middle" transform="rotate(-90 282.3 348.7)" fill="#000">% donor GM</text>
<text x="294" y="346.6" font-size="11.0" font-weight="bold" text-anchor="middle" transform="rotate(-90 294 346.6)" fill="#000">(donor GM/total GM)</text>
<path d="M337.3,289.4 Q337.3,283.65 340.3,283.65 L393.70000000000005,283.65 Q396.70000000000005,283.65 396.70000000000005,277.9 Q396.70000000000005,283.65 399.70000000000005,283.65 L453.1,283.65 Q456.1,283.65 456.1,289.4" stroke="#222" stroke-width="1.0" fill="none"/>
<text x="396.4" y="280.3" font-size="17.8" font-weight="bold" text-anchor="middle" fill="#000">**</text>
<path d="M397.3,306.7 Q397.3,300.5 400.3,300.5 L425.6,300.5 Q428.6,300.5 428.6,294.3 Q428.6,300.5 431.6,300.5 L456.9,300.5 Q459.9,300.5 459.9,306.7" stroke="#222" stroke-width="1.0" fill="none"/>
<text x="428.5" y="299" font-size="17.8" font-weight="bold" text-anchor="middle" fill="#000">**</text>
<text x="283.2" y="413.2" font-size="10.0" font-weight="bold" text-anchor="middle" fill="#000">months</text>
<text x="284.6" y="425.2" font-size="10.0" font-weight="bold" text-anchor="middle" fill="#000">post BMT</text>
<text x="338.2" y="421.8" font-size="8.6" font-weight="bold" text-anchor="middle" fill="#000">WT</text>
<text x="338.2" y="431.8" font-size="8.2" font-weight="bold" text-anchor="middle" fill="#000">n=4</text>
<text x="398.8" y="421.8" font-size="8.6" font-weight="bold" text-anchor="middle" fill="#000">HET</text>
<text x="398.8" y="431.8" font-size="8.2" font-weight="bold" text-anchor="middle" fill="#000">n=8</text>
<text x="457.5" y="421.8" font-size="8.6" font-weight="bold" text-anchor="middle" fill="#000">HOM</text>
<text x="457.5" y="431.8" font-size="8.2" font-weight="bold" text-anchor="middle" fill="#000">n=9</text>
<text x="0" y="454.8" font-size="13.8" font-weight="bold" text-anchor="start" fill="#000">F</text>
<line x1="35.3" y1="492.6" x2="35.3" y2="574.5" stroke="#555" stroke-width="0.8"/>
<line x1="35.3" y1="574.5" x2="160.2" y2="574.5" stroke="#555" stroke-width="0.8"/>
<line x1="33.3" y1="574.5" x2="35.3" y2="574.5" stroke="#555" stroke-width="0.7"/>
<text x="30.9" y="576.5" font-size="5.4" font-weight="bold" text-anchor="end" fill="#000">0</text>
<line x1="33.3" y1="565.4" x2="35.3" y2="565.4" stroke="#555" stroke-width="0.7"/>
<text x="30.9" y="567.4" font-size="5.4" font-weight="bold" text-anchor="end" fill="#000">5</text>
<line x1="33.3" y1="556.3" x2="35.3" y2="556.3" stroke="#555" stroke-width="0.7"/>
<text x="30.9" y="558.3" font-size="5.4" font-weight="bold" text-anchor="end" fill="#000">10</text>
<line x1="33.3" y1="547.2" x2="35.3" y2="547.2" stroke="#555" stroke-width="0.7"/>
<text x="30.9" y="549.2" font-size="5.4" font-weight="bold" text-anchor="end" fill="#000">15</text>
<line x1="33.3" y1="538.1" x2="35.3" y2="538.1" stroke="#555" stroke-width="0.7"/>
<text x="30.9" y="540.1" font-size="5.4" font-weight="bold" text-anchor="end" fill="#000">20</text>
<line x1="33.3" y1="529.0" x2="35.3" y2="529.0" stroke="#555" stroke-width="0.7"/>
<text x="30.9" y="531.0" font-size="5.4" font-weight="bold" text-anchor="end" fill="#000">25</text>
<line x1="33.3" y1="519.9" x2="35.3" y2="519.9" stroke="#555" stroke-width="0.7"/>
<text x="30.9" y="521.9" font-size="5.4" font-weight="bold" text-anchor="end" fill="#000">30</text>
<line x1="33.3" y1="510.8" x2="35.3" y2="510.8" stroke="#555" stroke-width="0.7"/>
<text x="30.9" y="512.8" font-size="5.4" font-weight="bold" text-anchor="end" fill="#000">35</text>
<line x1="33.3" y1="501.7" x2="35.3" y2="501.7" stroke="#555" stroke-width="0.7"/>
<text x="30.9" y="503.7" font-size="5.4" font-weight="bold" text-anchor="end" fill="#000">40</text>
<line x1="33.3" y1="492.6" x2="35.3" y2="492.6" stroke="#555" stroke-width="0.7"/>
<text x="30.9" y="494.6" font-size="5.4" font-weight="bold" text-anchor="end" fill="#000">45</text>
<line x1="97.7" y1="574.5" x2="97.7" y2="576.0" stroke="#555" stroke-width="0.6"/>
<line x1="57.300000000000004" y1="497.15" x2="57.300000000000004" y2="502.246" stroke="#555" stroke-width="0.7"/>
<line x1="56.1" y1="497.15" x2="58.50000000000001" y2="497.15" stroke="#555" stroke-width="0.7"/>
<rect x="48.2" y="502.246" width="18.200000000000003" height="72.25400000000002" fill="#fff" stroke="#333" stroke-width="0.7"/>
<line x1="75.4" y1="533.914" x2="75.4" y2="538.282" stroke="#555" stroke-width="0.7"/>
<line x1="74.2" y1="533.914" x2="76.60000000000001" y2="533.914" stroke="#555" stroke-width="0.7"/>
<rect x="66.4" y="538.282" width="18.0" height="36.21799999999996" fill="#000" stroke="#333" stroke-width="0.7"/>
<line x1="119.89999999999999" y1="499.88" x2="119.89999999999999" y2="509.16200000000003" stroke="#555" stroke-width="0.7"/>
<line x1="118.69999999999999" y1="499.88" x2="121.1" y2="499.88" stroke="#555" stroke-width="0.7"/>
<rect x="110.6" y="509.16200000000003" width="18.599999999999994" height="65.33799999999997" fill="#fff" stroke="#333" stroke-width="0.7"/>
<line x1="138.0" y1="555.026" x2="138.0" y2="560.122" stroke="#555" stroke-width="0.7"/>
<line x1="136.8" y1="555.026" x2="139.2" y2="555.026" stroke="#555" stroke-width="0.7"/>
<rect x="129.2" y="560.122" width="17.600000000000023" height="14.378000000000043" fill="#000" stroke="#333" stroke-width="0.7"/>
<text x="66.4" y="585.3" font-size="5.4" font-weight="bold" text-anchor="middle" fill="#000">1 month</text>
<text x="128.8" y="585.3" font-size="5.4" font-weight="bold" text-anchor="middle" fill="#000">4 months</text>
<text x="7.7" y="536" font-size="8.85" font-weight="bold" text-anchor="middle" transform="rotate(-90 7.7 536)" fill="#000">Total repopulating ability</text>
<text x="17.6" y="535.6" font-size="8.9" font-weight="bold" text-anchor="middle" transform="rotate(-90 17.6 535.6)" fill="#000">(donor/donor+comp)</text>
<text x="67.9" y="484.5" font-size="17.2" font-weight="bold" text-anchor="middle" fill="#000">***</text>
<path d="M58.5,489.3 Q58.5,485.8 61.5,485.8 L65.2,485.8 Q68.2,485.8 68.2,482.3 Q68.2,485.8 71.2,485.8 L74.9,485.8 Q77.9,485.8 77.9,489.3" stroke="#222" stroke-width="1.0" fill="none"/>
<text x="130" y="490.1" font-size="17.8" font-weight="bold" text-anchor="middle" fill="#000">**</text>
<path d="M119.3,493.4 Q119.3,489.7 122.3,489.7 L126.69999999999999,489.7 Q129.7,489.7 129.7,486 Q129.7,489.7 132.7,489.7 L137.1,489.7 Q140.1,489.7 140.1,493.4" stroke="#222" stroke-width="1.0" fill="none"/>
<text x="176" y="455.2" font-size="13.8" font-weight="bold" text-anchor="start" fill="#000">G</text>
<line x1="213.5" y1="492.52" x2="213.5" y2="574.9" stroke="#555" stroke-width="0.8"/>
<line x1="213.5" y1="574.9" x2="339.4" y2="574.9" stroke="#555" stroke-width="0.8"/>
<line x1="211.5" y1="574.9" x2="213.5" y2="574.9" stroke="#555" stroke-width="0.7"/>
<text x="209.1" y="576.9" font-size="5.4" font-weight="bold" text-anchor="end" fill="#000">0</text>
<line x1="211.5" y1="561.17" x2="213.5" y2="561.17" stroke="#555" stroke-width="0.7"/>
<text x="209.1" y="563.17" font-size="5.4" font-weight="bold" text-anchor="end" fill="#000">10</text>
<line x1="211.5" y1="547.4399999999999" x2="213.5" y2="547.4399999999999" stroke="#555" stroke-width="0.7"/>
<text x="209.1" y="549.4399999999999" font-size="5.4" font-weight="bold" text-anchor="end" fill="#000">20</text>
<line x1="211.5" y1="533.71" x2="213.5" y2="533.71" stroke="#555" stroke-width="0.7"/>
<text x="209.1" y="535.71" font-size="5.4" font-weight="bold" text-anchor="end" fill="#000">30</text>
<line x1="211.5" y1="519.98" x2="213.5" y2="519.98" stroke="#555" stroke-width="0.7"/>
<text x="209.1" y="521.98" font-size="5.4" font-weight="bold" text-anchor="end" fill="#000">40</text>
<line x1="211.5" y1="506.25" x2="213.5" y2="506.25" stroke="#555" stroke-width="0.7"/>
<text x="209.1" y="508.25" font-size="5.4" font-weight="bold" text-anchor="end" fill="#000">50</text>
<line x1="211.5" y1="492.52" x2="213.5" y2="492.52" stroke="#555" stroke-width="0.7"/>
<text x="209.1" y="494.52" font-size="5.4" font-weight="bold" text-anchor="end" fill="#000">60</text>
<line x1="276.4" y1="574.9" x2="276.4" y2="576.4" stroke="#555" stroke-width="0.6"/>
<line x1="235.75" y1="514.4879999999999" x2="235.75" y2="521.7649" stroke="#555" stroke-width="0.7"/>
<line x1="234.55" y1="514.4879999999999" x2="236.95" y2="514.4879999999999" stroke="#555" stroke-width="0.7"/>
<rect x="226.1" y="521.7649" width="19.30000000000001" height="53.135099999999966" fill="#fff" stroke="#333" stroke-width="0.7"/>
<line x1="254.25" y1="562.543" x2="254.25" y2="563.6414" stroke="#555" stroke-width="0.7"/>
<line x1="253.05" y1="562.543" x2="255.45" y2="562.543" stroke="#555" stroke-width="0.7"/>
<rect x="245.4" y="563.6414" width="17.700000000000017" height="11.258600000000001" fill="#000" stroke="#333" stroke-width="0.7"/>
<line x1="298.5" y1="498.83579999999995" x2="298.5" y2="511.6047" stroke="#555" stroke-width="0.7"/>
<line x1="297.3" y1="498.83579999999995" x2="299.7" y2="498.83579999999995" stroke="#555" stroke-width="0.7"/>
<rect x="289.2" y="511.6047" width="18.600000000000023" height="63.2953" fill="#fff" stroke="#333" stroke-width="0.7"/>
<line x1="316.9" y1="566.1128" x2="316.9" y2="569.8199" stroke="#555" stroke-width="0.7"/>
<line x1="315.7" y1="566.1128" x2="318.09999999999997" y2="566.1128" stroke="#555" stroke-width="0.7"/>
<rect x="307.8" y="569.8199" width="18.19999999999999" height="5.080100000000016" fill="#000" stroke="#333" stroke-width="0.7"/>
<text x="245" y="585.3" font-size="5.4" font-weight="bold" text-anchor="middle" fill="#000">1 month</text>
<text x="307.6" y="585.3" font-size="5.4" font-weight="bold" text-anchor="middle" fill="#000">4 months</text>
<text x="186.2" y="529.9" font-size="8.9" font-weight="bold" text-anchor="middle" transform="rotate(-90 186.2 529.9)" fill="#000">Myeloid repopulating ability</text>
<text x="196.4" y="528.4" font-size="8.85" font-weight="bold" text-anchor="middle" transform="rotate(-90 196.4 528.4)" fill="#000">(donor/donor+comp)</text>
<text x="245" y="500.7" font-size="17.8" font-weight="bold" text-anchor="middle" fill="#000">**</text>
<path d="M235.3,504.7 Q235.3,500.4 238.3,500.4 L242.25,500.4 Q245.25,500.4 245.25,496.1 Q245.25,500.4 248.25,500.4 L252.2,500.4 Q255.2,500.4 255.2,504.7" stroke="#222" stroke-width="1.0" fill="none"/>
<text x="309.5" y="491" font-size="17.8" font-weight="bold" text-anchor="middle" fill="#000">**</text>
<path d="M299.5,496 Q299.5,491.3 302.5,491.3 L306.55,491.3 Q309.55,491.3 309.55,486.6 Q309.55,491.3 312.55,491.3 L316.6,491.3 Q319.6,491.3 319.6,496" stroke="#222" stroke-width="1.0" fill="none"/>
<rect x="261.5" y="446.2" width="57.6" height="28.8" fill="#fff" stroke="#222" stroke-width="0.9"/>
<rect x="265.3" y="450.7" width="8.9" height="6.8" fill="#fff" stroke="#222" stroke-width="0.8"/>
<rect x="265.3" y="462.4" width="8.9" height="6.5" fill="#000" stroke="#222" stroke-width="0.8"/>
<text x="277.9" y="456.6" font-size="8.6" font-weight="normal" text-anchor="start" fill="#000" word-spacing="1">wt, n=6</text>
<text x="277.9" y="468" font-size="8.6" font-weight="normal" text-anchor="start" fill="#000" word-spacing="1">hom, n=6</text>
<text x="351.2" y="454.8" font-size="13.8" font-weight="bold" text-anchor="start" fill="#000">H</text>
<line x1="393.7" y1="486.00000000000006" x2="393.7" y2="574.7" stroke="#555" stroke-width="0.8"/>
<line x1="393.7" y1="574.7" x2="519" y2="574.7" stroke="#555" stroke-width="0.8"/>
<line x1="391.7" y1="574.7" x2="393.7" y2="574.7" stroke="#555" stroke-width="0.7"/>
<text x="389.3" y="576.7" font-size="5.4" font-weight="bold" text-anchor="end" fill="#000">0</text>
<line x1="391.7" y1="565.83" x2="393.7" y2="565.83" stroke="#555" stroke-width="0.7"/>
<text x="389.3" y="567.83" font-size="5.4" font-weight="bold" text-anchor="end" fill="#000">5</text>
<line x1="391.7" y1="556.96" x2="393.7" y2="556.96" stroke="#555" stroke-width="0.7"/>
<text x="389.3" y="558.96" font-size="5.4" font-weight="bold" text-anchor="end" fill="#000">10</text>
<line x1="391.7" y1="548.09" x2="393.7" y2="548.09" stroke="#555" stroke-width="0.7"/>
<text x="389.3" y="550.09" font-size="5.4" font-weight="bold" text-anchor="end" fill="#000">15</text>
<line x1="391.7" y1="539.22" x2="393.7" y2="539.22" stroke="#555" stroke-width="0.7"/>
<text x="389.3" y="541.22" font-size="5.4" font-weight="bold" text-anchor="end" fill="#000">20</text>
<line x1="391.7" y1="530.35" x2="393.7" y2="530.35" stroke="#555" stroke-width="0.7"/>
<text x="389.3" y="532.35" font-size="5.4" font-weight="bold" text-anchor="end" fill="#000">25</text>
<line x1="391.7" y1="521.48" x2="393.7" y2="521.48" stroke="#555" stroke-width="0.7"/>
<text x="389.3" y="523.48" font-size="5.4" font-weight="bold" text-anchor="end" fill="#000">30</text>
<line x1="391.7" y1="512.61" x2="393.7" y2="512.61" stroke="#555" stroke-width="0.7"/>
<text x="389.3" y="514.61" font-size="5.4" font-weight="bold" text-anchor="end" fill="#000">35</text>
<line x1="391.7" y1="503.74" x2="393.7" y2="503.74" stroke="#555" stroke-width="0.7"/>
<text x="389.3" y="505.74" font-size="5.4" font-weight="bold" text-anchor="end" fill="#000">40</text>
<line x1="391.7" y1="494.87000000000006" x2="393.7" y2="494.87000000000006" stroke="#555" stroke-width="0.7"/>
<text x="389.3" y="496.87000000000006" font-size="5.4" font-weight="bold" text-anchor="end" fill="#000">45</text>
<line x1="391.7" y1="486.00000000000006" x2="393.7" y2="486.00000000000006" stroke="#555" stroke-width="0.7"/>
<text x="389.3" y="488.00000000000006" font-size="5.4" font-weight="bold" text-anchor="end" fill="#000">50</text>
<line x1="456.4" y1="574.7" x2="456.4" y2="576.2" stroke="#555" stroke-width="0.6"/>
<line x1="415.6" y1="506.22360000000003" x2="415.6" y2="509.4168000000001" stroke="#555" stroke-width="0.7"/>
<line x1="414.40000000000003" y1="506.22360000000003" x2="416.8" y2="506.22360000000003" stroke="#555" stroke-width="0.7"/>
<rect x="406.6" y="509.4168000000001" width="18.0" height="65.28319999999997" fill="#fff" stroke="#333" stroke-width="0.7"/>
<line x1="433.55" y1="520.2382" x2="433.55" y2="525.9150000000001" stroke="#555" stroke-width="0.7"/>
<line x1="432.35" y1="520.2382" x2="434.75" y2="520.2382" stroke="#555" stroke-width="0.7"/>
<rect x="424.6" y="525.9150000000001" width="17.899999999999977" height="48.78499999999997" fill="#000" stroke="#333" stroke-width="0.7"/>
<line x1="478.70000000000005" y1="490.2576" x2="478.70000000000005" y2="500.36940000000004" stroke="#555" stroke-width="0.7"/>
<line x1="477.50000000000006" y1="490.2576" x2="479.90000000000003" y2="490.2576" stroke="#555" stroke-width="0.7"/>
<rect x="469.3" y="500.36940000000004" width="18.80000000000001" height="74.3306" fill="#fff" stroke="#333" stroke-width="0.7"/>
<line x1="496.9" y1="540.6392000000001" x2="496.9" y2="548.09" stroke="#555" stroke-width="0.7"/>
<line x1="495.7" y1="540.6392000000001" x2="498.09999999999997" y2="540.6392000000001" stroke="#555" stroke-width="0.7"/>
<rect x="488.1" y="548.09" width="17.599999999999966" height="26.610000000000014" fill="#000" stroke="#333" stroke-width="0.7"/>
<text x="424.8" y="585.3" font-size="5.4" font-weight="bold" text-anchor="middle" fill="#000">1 month</text>
<text x="487.5" y="585.3" font-size="5.4" font-weight="bold" text-anchor="middle" fill="#000">4 months</text>
<text x="367.3" y="524.5" font-size="9.0" font-weight="bold" text-anchor="middle" transform="rotate(-90 367.3 524.5)" fill="#000">Lymphoid repopulating ability</text>
<text x="376.5" y="524.5" font-size="9.0" font-weight="bold" text-anchor="middle" transform="rotate(-90 376.5 524.5)" fill="#000">(donor/donor+comp)</text>
<text x="425.6" y="493.1" font-size="17.8" font-weight="bold" text-anchor="middle" fill="#000">*</text>
<path d="M415.5,496.5 Q415.5,492.0 418.5,492.0 L422.45,492.0 Q425.45,492.0 425.45,487.5 Q425.45,492.0 428.45,492.0 L432.4,492.0 Q435.4,492.0 435.4,496.5" stroke="#222" stroke-width="1.0" fill="none"/>
<text x="487.5" y="483.5" font-size="17.8" font-weight="bold" text-anchor="middle" fill="#000">**</text>
<path d="M477.4,488.2 Q477.4,483.35 480.4,483.35 L484.45,483.35 Q487.45,483.35 487.45,478.5 Q487.45,483.35 490.45,483.35 L494.5,483.35 Q497.5,483.35 497.5,488.2" stroke="#222" stroke-width="1.0" fill="none"/>
<text x="0.1" y="610.8" font-size="13.8" font-weight="bold" text-anchor="start" fill="#000">I</text>
<rect x="19.6" y="609.9" width="479.6" height="88.8" fill="none" stroke="#000" stroke-width="2"/>
<line x1="97.3" y1="610" x2="97.3" y2="698" stroke="#000" stroke-width="1"/>
<line x1="212" y1="610" x2="212" y2="698" stroke="#000" stroke-width="1"/>
<line x1="295.8" y1="610" x2="295.8" y2="698" stroke="#000" stroke-width="1"/>
<line x1="384" y1="610" x2="384" y2="698" stroke="#000" stroke-width="1"/>
<line x1="20" y1="633" x2="499" y2="633" stroke="#000" stroke-width="1"/>
<line x1="20" y1="655.2" x2="499" y2="655.2" stroke="#000" stroke-width="1"/>
<line x1="20" y1="676.9" x2="499" y2="676.9" stroke="#000" stroke-width="1"/>
<text x="154.7" y="623" font-size="8.9" font-weight="bold" text-anchor="middle" fill="#000" text-decoration="underline">Chimerism (&gt;1%)</text>
<text x="253" y="623" font-size="8.9" font-weight="bold" text-anchor="middle" fill="#000" text-decoration="underline">Myeloid</text>
<text x="339.5" y="623" font-size="8.9" font-weight="bold" text-anchor="middle" fill="#000" text-decoration="underline">Lymphoid</text>
<text x="441.5" y="623" font-size="8.9" font-weight="bold" text-anchor="middle" fill="#000" text-decoration="underline">HSC Criteria met</text>
<text x="58.4" y="645.6" font-size="8.9" font-weight="bold" text-anchor="middle" fill="#000">WT</text>
<text x="154.7" y="645.6" font-size="9.0" font-weight="bold" text-anchor="middle" fill="#000">5/5</text>
<text x="253" y="645.6" font-size="9.0" font-weight="bold" text-anchor="middle" fill="#000">4/5</text>
<text x="339.5" y="645.6" font-size="9.0" font-weight="bold" text-anchor="middle" fill="#000">4/5</text>
<text x="441.5" y="645.6" font-size="9.0" font-weight="bold" text-anchor="middle" fill="#000">4/5</text>
<text x="58.4" y="667.7" font-size="8.9" font-weight="bold" text-anchor="middle" fill="#000">HET</text>
<text x="154.7" y="667.7" font-size="9.0" font-weight="bold" text-anchor="middle" fill="#000">5/5</text>
<text x="253" y="667.7" font-size="9.0" font-weight="bold" text-anchor="middle" fill="#000">5/5</text>
<text x="339.5" y="667.7" font-size="9.0" font-weight="bold" text-anchor="middle" fill="#000">4/5</text>
<text x="441.5" y="667.7" font-size="9.0" font-weight="bold" text-anchor="middle" fill="#000">4/5</text>
<text x="58.4" y="689.4" font-size="8.9" font-weight="bold" text-anchor="middle" fill="#000">HOM</text>
<text x="154.7" y="689.4" font-size="9.0" font-weight="bold" text-anchor="middle" fill="#000">3/5</text>
<text x="253" y="689.4" font-size="9.0" font-weight="bold" text-anchor="middle" fill="#000">0/5</text>
<text x="339.5" y="689.4" font-size="9.0" font-weight="bold" text-anchor="middle" fill="#000">3/5</text>
<text x="441.5" y="689.4" font-size="9.0" font-weight="bold" text-anchor="middle" fill="#000">0/5</text>
</svg></body></html>
